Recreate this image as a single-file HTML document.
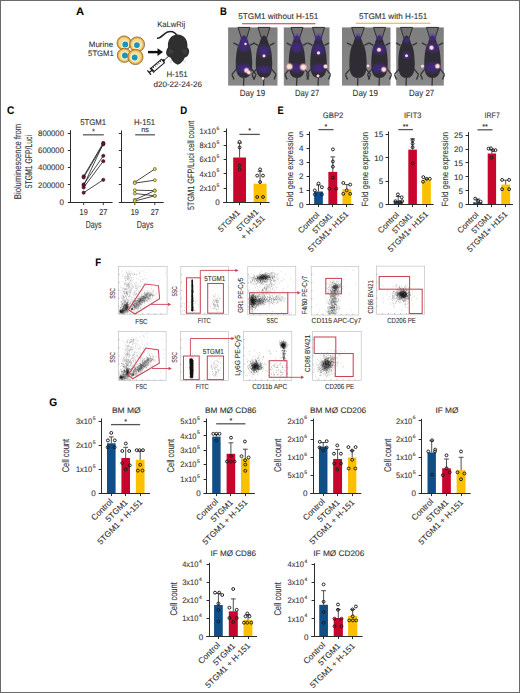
<!DOCTYPE html>
<html><head><meta charset="utf-8"><title>Figure</title>
<style>
html,body{margin:0;padding:0;background:#fff;}
body{width:520px;height:693px;overflow:hidden;position:relative;font-family:"Liberation Sans",sans-serif;}
svg{position:absolute;left:0;top:0;display:block;}
text{stroke:#333;stroke-width:0.1px;}
.bd{position:absolute;left:0;top:0;width:518px;height:691px;border:1px solid #6a6a6a;}
</style></head><body>
<svg width="520" height="693" viewBox="0 0 520 693" font-family="&quot;Liberation Sans&quot;, sans-serif" text-rendering="geometricPrecision" fill="#333"><defs><radialGradient id="pg"><stop offset="0" stop-color="#5226c0" stop-opacity="0.6"/><stop offset="0.6" stop-color="#5226c0" stop-opacity="0.35"/><stop offset="1" stop-color="#5226c0" stop-opacity="0"/></radialGradient><radialGradient id="hg"><stop offset="0" stop-color="#fff8e8"/><stop offset="0.5" stop-color="#f8d8c0" stop-opacity="0.95"/><stop offset="1" stop-color="#c060c0" stop-opacity="0"/></radialGradient><linearGradient id="bgB" x1="0" y1="0" x2="0" y2="1"><stop offset="0" stop-color="#7e7e7e"/><stop offset="1" stop-color="#888"/></linearGradient><radialGradient id="bg3"><stop offset="0" stop-color="#111" stop-opacity="0.85"/><stop offset="0.55" stop-color="#111" stop-opacity="0.51"/><stop offset="1" stop-color="#111" stop-opacity="0"/></radialGradient><radialGradient id="bg4"><stop offset="0" stop-color="#111" stop-opacity="0.85"/><stop offset="0.55" stop-color="#111" stop-opacity="0.51"/><stop offset="1" stop-color="#111" stop-opacity="0"/></radialGradient><radialGradient id="bg5"><stop offset="0" stop-color="#111" stop-opacity="0.9"/><stop offset="0.55" stop-color="#111" stop-opacity="0.54"/><stop offset="1" stop-color="#111" stop-opacity="0"/></radialGradient><radialGradient id="bg6"><stop offset="0" stop-color="#111" stop-opacity="0.4"/><stop offset="0.55" stop-color="#111" stop-opacity="0.24"/><stop offset="1" stop-color="#111" stop-opacity="0"/></radialGradient><radialGradient id="bg7"><stop offset="0" stop-color="#111" stop-opacity="0.85"/><stop offset="0.55" stop-color="#111" stop-opacity="0.51"/><stop offset="1" stop-color="#111" stop-opacity="0"/></radialGradient><radialGradient id="bg8"><stop offset="0" stop-color="#111" stop-opacity="0.95"/><stop offset="0.55" stop-color="#111" stop-opacity="0.57"/><stop offset="1" stop-color="#111" stop-opacity="0"/></radialGradient><radialGradient id="bg9"><stop offset="0" stop-color="#111" stop-opacity="0.35"/><stop offset="0.55" stop-color="#111" stop-opacity="0.21"/><stop offset="1" stop-color="#111" stop-opacity="0"/></radialGradient><radialGradient id="bg10"><stop offset="0" stop-color="#111" stop-opacity="0.75"/><stop offset="0.55" stop-color="#111" stop-opacity="0.44999999999999996"/><stop offset="1" stop-color="#111" stop-opacity="0"/></radialGradient><radialGradient id="bg11"><stop offset="0" stop-color="#111" stop-opacity="0.95"/><stop offset="0.55" stop-color="#111" stop-opacity="0.57"/><stop offset="1" stop-color="#111" stop-opacity="0"/></radialGradient><radialGradient id="bg12"><stop offset="0" stop-color="#111" stop-opacity="0.85"/><stop offset="0.55" stop-color="#111" stop-opacity="0.51"/><stop offset="1" stop-color="#111" stop-opacity="0"/></radialGradient><radialGradient id="bg13"><stop offset="0" stop-color="#111" stop-opacity="0.85"/><stop offset="0.55" stop-color="#111" stop-opacity="0.51"/><stop offset="1" stop-color="#111" stop-opacity="0"/></radialGradient><radialGradient id="bg14"><stop offset="0" stop-color="#111" stop-opacity="0.9"/><stop offset="0.55" stop-color="#111" stop-opacity="0.54"/><stop offset="1" stop-color="#111" stop-opacity="0"/></radialGradient><radialGradient id="bg15"><stop offset="0" stop-color="#111" stop-opacity="0.4"/><stop offset="0.55" stop-color="#111" stop-opacity="0.24"/><stop offset="1" stop-color="#111" stop-opacity="0"/></radialGradient><radialGradient id="bg16"><stop offset="0" stop-color="#111" stop-opacity="0.95"/><stop offset="0.55" stop-color="#111" stop-opacity="0.57"/><stop offset="1" stop-color="#111" stop-opacity="0"/></radialGradient><radialGradient id="bg17"><stop offset="0" stop-color="#111" stop-opacity="0.95"/><stop offset="0.55" stop-color="#111" stop-opacity="0.57"/><stop offset="1" stop-color="#111" stop-opacity="0"/></radialGradient><radialGradient id="bg18"><stop offset="0" stop-color="#111" stop-opacity="0.7"/><stop offset="0.55" stop-color="#111" stop-opacity="0.42"/><stop offset="1" stop-color="#111" stop-opacity="0"/></radialGradient></defs><text x="75.9" y="14.6" font-size="11" fill="#000" font-weight="bold" textLength="8.1" lengthAdjust="spacingAndGlyphs">A</text>
<text x="157.2" y="26.9" font-size="7.8" textLength="28" lengthAdjust="spacingAndGlyphs">KaLwRij</text>
<text x="88.8" y="46.9" font-size="7.8" textLength="24.3" lengthAdjust="spacingAndGlyphs">Murine</text>
<text x="88.1" y="56.2" font-size="7.9" textLength="25.7" lengthAdjust="spacingAndGlyphs">5TGM1</text>
<text x="166.4" y="77.4" font-size="7.9" textLength="21.3" lengthAdjust="spacingAndGlyphs">H-151</text>
<text x="153.4" y="86.6" font-size="7.9" textLength="48.6" lengthAdjust="spacingAndGlyphs">d20-22-24-26</text>
<circle cx="124.1" cy="43" r="7.1" fill="#eeac3c" stroke="#6e5530" stroke-width="0.7"/>
<circle cx="124.1" cy="43" r="5.6" fill="#f7d98e" stroke="none" stroke-width="0"/>
<circle cx="125.3" cy="44.4" r="3.9" fill="#fdf2cc" stroke="none" stroke-width="0"/>
<circle cx="125.3" cy="44.4" r="2.9" fill="#1796c0" stroke="none" stroke-width="0"/>
<circle cx="137.1" cy="44.4" r="7.5" fill="#eeac3c" stroke="#6e5530" stroke-width="0.7"/>
<circle cx="137.1" cy="44.4" r="6" fill="#f7d98e" stroke="none" stroke-width="0"/>
<circle cx="136.9" cy="45.1" r="3.9" fill="#fdf2cc" stroke="none" stroke-width="0"/>
<circle cx="136.9" cy="45.1" r="2.9" fill="#1796c0" stroke="none" stroke-width="0"/>
<circle cx="124.4" cy="55.3" r="7.1" fill="#eeac3c" stroke="#6e5530" stroke-width="0.7"/>
<circle cx="124.4" cy="55.3" r="5.6" fill="#f7d98e" stroke="none" stroke-width="0"/>
<circle cx="124.9" cy="55.5" r="3.9" fill="#fdf2cc" stroke="none" stroke-width="0"/>
<circle cx="124.9" cy="55.5" r="2.9" fill="#1796c0" stroke="none" stroke-width="0"/>
<circle cx="135.4" cy="57" r="7.6" fill="#eeac3c" stroke="#6e5530" stroke-width="0.7"/>
<circle cx="135.4" cy="57" r="6.1" fill="#f7d98e" stroke="none" stroke-width="0"/>
<circle cx="134.7" cy="57.5" r="3.9" fill="#fdf2cc" stroke="none" stroke-width="0"/>
<circle cx="134.7" cy="57.5" r="2.9" fill="#1796c0" stroke="none" stroke-width="0"/>
<line x1="148" y1="52.1" x2="158.5" y2="52.1" stroke="#111" stroke-width="2.4"/>
<path d="M157.5,48.2 L163,52.1 L157.5,56 Z" fill="#111" stroke="none" stroke-width="1"/>
<path d="M157.0,38.2 C161,38.8 163.5,33.5 167.5,32 C171,30.8 174.5,31.2 177.3,36" fill="none" stroke="#222" stroke-width="1.6"/>
<path d="M177.8,64.8 C175,64 172,61 170.5,57.5 C167.5,57.2 165.8,54.5 166.2,51.8 C166.5,49.3 167.6,48.2 168.0,47.5 C167.2,39.5 171.5,34.6 177.5,34.6 C183.8,34.6 188.2,39.5 187.4,47.5 C188.4,48.3 189.4,50 189.1,52.2 C188.7,55 186.8,57.3 184.8,57.6 C183.5,61 180.8,64 177.8,64.8 Z" fill="#2f2f2f" stroke="none" stroke-width="1"/>
<path d="M168.8,49.5 C170.5,48.2 173,49 173.5,51.5 C173.2,54 170.2,55 168.6,53.5 Z" fill="#3d3d3d" stroke="none" stroke-width="1"/>
<path d="M186.6,49.5 C184.9,48.2 182.4,49 181.9,51.5 C182.2,54 185.2,55 186.8,53.5 Z" fill="#3d3d3d" stroke="none" stroke-width="1"/>
<line x1="172" y1="60.5" x2="169.5" y2="61.5" stroke="#aaa" stroke-width="0.4"/>
<line x1="172.2" y1="61.5" x2="170" y2="63" stroke="#aaa" stroke-width="0.4"/>
<line x1="183.5" y1="60.5" x2="186" y2="61.5" stroke="#aaa" stroke-width="0.4"/>
<line x1="183.3" y1="61.5" x2="185.5" y2="63" stroke="#aaa" stroke-width="0.4"/>
<g transform="translate(149.2 72.6) rotate(-40)">
<line x1="0" y1="-2.8" x2="0" y2="2.8" stroke="#1a1a1a" stroke-width="1.2"/>
<line x1="0" y1="0" x2="4.5" y2="0" stroke="#1a1a1a" stroke-width="1.3"/>
<line x1="3.6" y1="-3.2" x2="3.6" y2="3.2" stroke="#1a1a1a" stroke-width="1"/>
<rect x="4.5" y="-2.3" width="13.5" height="4.6" fill="#fff" stroke="#1a1a1a" stroke-width="1.1"/>
<line x1="6.6" y1="-2.3" x2="6.6" y2="-0.3" stroke="#1a1a1a" stroke-width="0.8"/>
<line x1="8.9" y1="-2.3" x2="8.9" y2="-0.3" stroke="#1a1a1a" stroke-width="0.8"/>
<line x1="11.2" y1="-2.3" x2="11.2" y2="-0.3" stroke="#1a1a1a" stroke-width="0.8"/>
<line x1="13.5" y1="-2.3" x2="13.5" y2="-0.3" stroke="#1a1a1a" stroke-width="0.8"/>
<line x1="15.8" y1="-2.3" x2="15.8" y2="-0.3" stroke="#1a1a1a" stroke-width="0.8"/>
<path d="M18,-1.6 L20.3,-0.7 L20.3,0.7 L18,1.6 Z" fill="#1a1a1a" stroke="none" stroke-width="1"/>
<line x1="20.3" y1="0" x2="25" y2="0" stroke="#1a1a1a" stroke-width="0.8"/>
</g>
<text x="220" y="14.7" font-size="11" fill="#000" font-weight="bold" textLength="6.8" lengthAdjust="spacingAndGlyphs">B</text>
<text x="238.3" y="19.1" font-size="8.2" textLength="80" lengthAdjust="spacingAndGlyphs">5TGM1 without H-151</text>
<line x1="242" y1="23.8" x2="315.5" y2="23.8" stroke="#d0304a" stroke-width="1.1"/>
<text x="358.9" y="18.9" font-size="8.2" textLength="68.4" lengthAdjust="spacingAndGlyphs">5TGM1 with H-151</text>
<line x1="355.8" y1="23.2" x2="430.4" y2="23.2" stroke="#f0a830" stroke-width="1.1"/>
<text x="239.8" y="96" font-size="8.9" textLength="25.4" lengthAdjust="spacingAndGlyphs">Day 19</text>
<text x="295" y="96" font-size="8.9" textLength="24.2" lengthAdjust="spacingAndGlyphs">Day 27</text>
<text x="352.6" y="96" font-size="8.9" textLength="25.4" lengthAdjust="spacingAndGlyphs">Day 19</text>
<text x="409" y="96" font-size="8.9" textLength="25.3" lengthAdjust="spacingAndGlyphs">Day 27</text>
<rect x="228.1" y="27.4" width="49.4" height="58.2" fill="url(#bgB)"/>
<path d="M238,27.4 L250,27.4 L246.5,38.4 L241.5,38.4 Z" fill="#707070" stroke="#303030" stroke-width="1"/>
<line x1="238" y1="45.4" x2="233.5" y2="42.9" stroke="#363636" stroke-width="1.4"/>
<line x1="250" y1="45.4" x2="254.5" y2="42.9" stroke="#363636" stroke-width="1.4"/>
<line x1="237" y1="68.4" x2="232" y2="74.4" stroke="#363636" stroke-width="1.4"/>
<line x1="251" y1="68.4" x2="256" y2="74.4" stroke="#363636" stroke-width="1.4"/>
<line x1="232" y1="74.4" x2="234" y2="79.4" stroke="#363636" stroke-width="1.4"/>
<line x1="256" y1="74.4" x2="254" y2="79.4" stroke="#363636" stroke-width="1.4"/>
<line x1="244" y1="75.4" x2="243.5" y2="85.6" stroke="#363636" stroke-width="1.3"/>
<path d="M244,35.4 C246,35.4 247.6,39.4 248.6,43.4 C250.8,46.4 252,53.4 252.2,61.4 C252.4,69.4 251.5,75.4 247,77.4 C244,78.4 241,77.4 241,77.4 C236.5,75.4 235.6,69.4 235.8,61.4 C236,53.4 237.2,46.4 239.4,43.4 C240.4,39.4 242,35.4 244,35.4 Z" fill="#2f2d33" stroke="none" stroke-width="1"/>
<ellipse cx="244" cy="39.4" rx="5" ry="5" fill="url(#pg)"/>
<ellipse cx="244" cy="46.4" rx="8" ry="7" fill="url(#pg)"/>
<ellipse cx="243" cy="68.4" rx="9" ry="6" fill="url(#pg)"/>
<ellipse cx="247" cy="69.4" rx="5" ry="4" fill="url(#pg)"/>
<ellipse cx="246.5" cy="70.4" rx="3.4" ry="3.4" fill="url(#hg)"/>
<ellipse cx="248.8" cy="72.4" rx="2.9" ry="2.9" fill="url(#hg)"/>
<ellipse cx="245.5" cy="43.9" rx="1.8" ry="1.8" fill="url(#hg)"/>
<path d="M258,27.4 L270,27.4 L266.5,38.4 L261.5,38.4 Z" fill="#707070" stroke="#303030" stroke-width="1"/>
<line x1="258" y1="45.4" x2="253.5" y2="42.9" stroke="#363636" stroke-width="1.4"/>
<line x1="270" y1="45.4" x2="274.5" y2="42.9" stroke="#363636" stroke-width="1.4"/>
<line x1="257" y1="68.4" x2="252" y2="74.4" stroke="#363636" stroke-width="1.4"/>
<line x1="271" y1="68.4" x2="276" y2="74.4" stroke="#363636" stroke-width="1.4"/>
<line x1="252" y1="74.4" x2="254" y2="79.4" stroke="#363636" stroke-width="1.4"/>
<line x1="276" y1="74.4" x2="274" y2="79.4" stroke="#363636" stroke-width="1.4"/>
<line x1="264" y1="75.4" x2="263.5" y2="85.6" stroke="#363636" stroke-width="1.3"/>
<path d="M264,35.4 C266,35.4 267.6,39.4 268.6,43.4 C270.8,46.4 272,53.4 272.2,61.4 C272.4,69.4 271.5,75.4 267,77.4 C264,78.4 261,77.4 261,77.4 C256.5,75.4 255.6,69.4 255.8,61.4 C256,53.4 257.2,46.4 259.4,43.4 C260.4,39.4 262,35.4 264,35.4 Z" fill="#2f2d33" stroke="none" stroke-width="1"/>
<ellipse cx="264" cy="51.4" rx="8" ry="8" fill="url(#pg)"/>
<ellipse cx="264" cy="69.4" rx="9" ry="5" fill="url(#pg)"/>
<ellipse cx="264" cy="55.9" rx="2.2" ry="2.2" fill="url(#hg)"/>
<ellipse cx="263" cy="78.4" rx="2" ry="2" fill="url(#hg)"/>
<rect x="283.8" y="27.4" width="45.7" height="58.2" fill="url(#bgB)"/>
<path d="M291,27.4 L303,27.4 L299.5,38.4 L294.5,38.4 Z" fill="#707070" stroke="#303030" stroke-width="1"/>
<line x1="291" y1="45.4" x2="286.5" y2="42.9" stroke="#363636" stroke-width="1.4"/>
<line x1="303" y1="45.4" x2="307.5" y2="42.9" stroke="#363636" stroke-width="1.4"/>
<line x1="290" y1="68.4" x2="285" y2="74.4" stroke="#363636" stroke-width="1.4"/>
<line x1="304" y1="68.4" x2="309" y2="74.4" stroke="#363636" stroke-width="1.4"/>
<line x1="285" y1="74.4" x2="287" y2="79.4" stroke="#363636" stroke-width="1.4"/>
<line x1="309" y1="74.4" x2="307" y2="79.4" stroke="#363636" stroke-width="1.4"/>
<line x1="297" y1="75.4" x2="296.5" y2="85.6" stroke="#363636" stroke-width="1.3"/>
<path d="M297,35.4 C299,35.4 300.6,39.4 301.6,43.4 C303.8,46.4 305,53.4 305.2,61.4 C305.4,69.4 304.5,75.4 300,77.4 C297,78.4 294,77.4 294,77.4 C289.5,75.4 288.6,69.4 288.8,61.4 C289,53.4 290.2,46.4 292.4,43.4 C293.4,39.4 295,35.4 297,35.4 Z" fill="#2f2d33" stroke="none" stroke-width="1"/>
<ellipse cx="297" cy="37.4" rx="5" ry="5" fill="url(#pg)"/>
<ellipse cx="297" cy="47.4" rx="8" ry="7" fill="url(#pg)"/>
<ellipse cx="297" cy="68.4" rx="9" ry="6" fill="url(#pg)"/>
<ellipse cx="289.5" cy="66.6" rx="4.4" ry="4.4" fill="url(#hg)"/>
<ellipse cx="303.3" cy="67.2" rx="4.7" ry="4.7" fill="url(#hg)"/>
<path d="M312.5,27.4 L324.5,27.4 L321,38.4 L316,38.4 Z" fill="#707070" stroke="#303030" stroke-width="1"/>
<line x1="312.5" y1="45.4" x2="308" y2="42.9" stroke="#363636" stroke-width="1.4"/>
<line x1="324.5" y1="45.4" x2="329" y2="42.9" stroke="#363636" stroke-width="1.4"/>
<line x1="311.5" y1="68.4" x2="306.5" y2="74.4" stroke="#363636" stroke-width="1.4"/>
<line x1="325.5" y1="68.4" x2="330.5" y2="74.4" stroke="#363636" stroke-width="1.4"/>
<line x1="306.5" y1="74.4" x2="308.5" y2="79.4" stroke="#363636" stroke-width="1.4"/>
<line x1="330.5" y1="74.4" x2="328.5" y2="79.4" stroke="#363636" stroke-width="1.4"/>
<line x1="318.5" y1="75.4" x2="318" y2="85.6" stroke="#363636" stroke-width="1.3"/>
<path d="M318.5,35.4 C320.5,35.4 322.1,39.4 323.1,43.4 C325.3,46.4 326.5,53.4 326.7,61.4 C326.9,69.4 326,75.4 321.5,77.4 C318.5,78.4 315.5,77.4 315.5,77.4 C311,75.4 310.1,69.4 310.3,61.4 C310.5,53.4 311.7,46.4 313.9,43.4 C314.9,39.4 316.5,35.4 318.5,35.4 Z" fill="#2f2d33" stroke="none" stroke-width="1"/>
<ellipse cx="318.5" cy="37.4" rx="5" ry="5" fill="url(#pg)"/>
<ellipse cx="318.5" cy="49.4" rx="8" ry="8" fill="url(#pg)"/>
<ellipse cx="318.5" cy="68.4" rx="9" ry="6" fill="url(#pg)"/>
<ellipse cx="318.5" cy="52.9" rx="2.3" ry="2.3" fill="url(#hg)"/>
<ellipse cx="325.5" cy="66.4" rx="2.9" ry="2.9" fill="url(#hg)"/>
<ellipse cx="318" cy="75.9" rx="2.1" ry="2.1" fill="url(#hg)"/>
<rect x="342" y="27.4" width="48.5" height="58.2" fill="url(#bgB)"/>
<path d="M351.7,27.4 L364.3,27.4 L360.62,38.4 L355.38,38.4 Z" fill="#707070" stroke="#303030" stroke-width="1"/>
<line x1="351.7" y1="45.4" x2="346.98" y2="42.9" stroke="#363636" stroke-width="1.4"/>
<line x1="364.3" y1="45.4" x2="369.02" y2="42.9" stroke="#363636" stroke-width="1.4"/>
<line x1="350.65" y1="68.4" x2="345.4" y2="74.4" stroke="#363636" stroke-width="1.4"/>
<line x1="365.35" y1="68.4" x2="370.6" y2="74.4" stroke="#363636" stroke-width="1.4"/>
<line x1="345.4" y1="74.4" x2="347.5" y2="79.4" stroke="#363636" stroke-width="1.4"/>
<line x1="370.6" y1="74.4" x2="368.5" y2="79.4" stroke="#363636" stroke-width="1.4"/>
<line x1="358" y1="75.4" x2="357.5" y2="85.6" stroke="#363636" stroke-width="1.3"/>
<path d="M358,35.4 C360.1,35.4 361.78,39.4 362.83,43.4 C365.14,46.4 366.4,53.4 366.61,61.4 C366.82,69.4 365.88,75.4 361.15,77.4 C358,78.4 354.85,77.4 354.85,77.4 C350.12,75.4 349.18,69.4 349.39,61.4 C349.6,53.4 350.86,46.4 353.17,43.4 C354.22,39.4 355.9,35.4 358,35.4 Z" fill="#2f2d33" stroke="none" stroke-width="1"/>
<ellipse cx="358" cy="36.4" rx="4" ry="4" fill="url(#pg)"/>
<path d="M373.5,27.4 L385.5,27.4 L382,38.4 L377,38.4 Z" fill="#707070" stroke="#303030" stroke-width="1"/>
<line x1="373.5" y1="45.4" x2="369" y2="42.9" stroke="#363636" stroke-width="1.4"/>
<line x1="385.5" y1="45.4" x2="390" y2="42.9" stroke="#363636" stroke-width="1.4"/>
<line x1="372.5" y1="68.4" x2="367.5" y2="74.4" stroke="#363636" stroke-width="1.4"/>
<line x1="386.5" y1="68.4" x2="391.5" y2="74.4" stroke="#363636" stroke-width="1.4"/>
<line x1="367.5" y1="74.4" x2="369.5" y2="79.4" stroke="#363636" stroke-width="1.4"/>
<line x1="391.5" y1="74.4" x2="389.5" y2="79.4" stroke="#363636" stroke-width="1.4"/>
<line x1="379.5" y1="75.4" x2="379" y2="85.6" stroke="#363636" stroke-width="1.3"/>
<path d="M379.5,35.4 C381.5,35.4 383.1,39.4 384.1,43.4 C386.3,46.4 387.5,53.4 387.7,61.4 C387.9,69.4 387,75.4 382.5,77.4 C379.5,78.4 376.5,77.4 376.5,77.4 C372,75.4 371.1,69.4 371.3,61.4 C371.5,53.4 372.7,46.4 374.9,43.4 C375.9,39.4 377.5,35.4 379.5,35.4 Z" fill="#2f2d33" stroke="none" stroke-width="1"/>
<ellipse cx="379.5" cy="37.4" rx="4" ry="4" fill="url(#pg)"/>
<ellipse cx="379.5" cy="49.4" rx="9" ry="7" fill="url(#pg)"/>
<ellipse cx="379.5" cy="68.4" rx="10" ry="6" fill="url(#pg)"/>
<ellipse cx="379" cy="49.8" rx="2.9" ry="2.9" fill="url(#hg)"/>
<ellipse cx="383.8" cy="69.5" rx="3.6" ry="3.6" fill="url(#hg)"/>
<ellipse cx="368" cy="65.9" rx="2.1" ry="2.1" fill="url(#hg)"/>
<rect x="396.2" y="27.4" width="47.6" height="58.2" fill="url(#bgB)"/>
<path d="M400.5,27.4 L412.5,27.4 L409,38.4 L404,38.4 Z" fill="#707070" stroke="#303030" stroke-width="1"/>
<line x1="400.5" y1="45.4" x2="396" y2="42.9" stroke="#363636" stroke-width="1.4"/>
<line x1="412.5" y1="45.4" x2="417" y2="42.9" stroke="#363636" stroke-width="1.4"/>
<line x1="399.5" y1="68.4" x2="394.5" y2="74.4" stroke="#363636" stroke-width="1.4"/>
<line x1="413.5" y1="68.4" x2="418.5" y2="74.4" stroke="#363636" stroke-width="1.4"/>
<line x1="394.5" y1="74.4" x2="396.5" y2="79.4" stroke="#363636" stroke-width="1.4"/>
<line x1="418.5" y1="74.4" x2="416.5" y2="79.4" stroke="#363636" stroke-width="1.4"/>
<line x1="406.5" y1="75.4" x2="406" y2="85.6" stroke="#363636" stroke-width="1.3"/>
<path d="M406.5,35.4 C408.5,35.4 410.1,39.4 411.1,43.4 C413.3,46.4 414.5,53.4 414.7,61.4 C414.9,69.4 414,75.4 409.5,77.4 C406.5,78.4 403.5,77.4 403.5,77.4 C399,75.4 398.1,69.4 398.3,61.4 C398.5,53.4 399.7,46.4 401.9,43.4 C402.9,39.4 404.5,35.4 406.5,35.4 Z" fill="#2f2d33" stroke="none" stroke-width="1"/>
<ellipse cx="406.5" cy="40.4" rx="4" ry="4" fill="url(#pg)"/>
<ellipse cx="406.5" cy="55.4" rx="5" ry="5" fill="url(#pg)"/>
<ellipse cx="406.5" cy="55.8" rx="2.1" ry="2.1" fill="url(#hg)"/>
<path d="M426.5,27.4 L438.5,27.4 L435,38.4 L430,38.4 Z" fill="#707070" stroke="#303030" stroke-width="1"/>
<line x1="426.5" y1="45.4" x2="422" y2="42.9" stroke="#363636" stroke-width="1.4"/>
<line x1="438.5" y1="45.4" x2="443" y2="42.9" stroke="#363636" stroke-width="1.4"/>
<line x1="425.5" y1="68.4" x2="420.5" y2="74.4" stroke="#363636" stroke-width="1.4"/>
<line x1="439.5" y1="68.4" x2="444.5" y2="74.4" stroke="#363636" stroke-width="1.4"/>
<line x1="420.5" y1="74.4" x2="422.5" y2="79.4" stroke="#363636" stroke-width="1.4"/>
<line x1="444.5" y1="74.4" x2="442.5" y2="79.4" stroke="#363636" stroke-width="1.4"/>
<line x1="432.5" y1="75.4" x2="432" y2="85.6" stroke="#363636" stroke-width="1.3"/>
<path d="M432.5,35.4 C434.5,35.4 436.1,39.4 437.1,43.4 C439.3,46.4 440.5,53.4 440.7,61.4 C440.9,69.4 440,75.4 435.5,77.4 C432.5,78.4 429.5,77.4 429.5,77.4 C425,75.4 424.1,69.4 424.3,61.4 C424.5,53.4 425.7,46.4 427.9,43.4 C428.9,39.4 430.5,35.4 432.5,35.4 Z" fill="#2f2d33" stroke="none" stroke-width="1"/>
<ellipse cx="432.5" cy="37.4" rx="5" ry="5" fill="url(#pg)"/>
<ellipse cx="432.5" cy="47.4" rx="8" ry="7" fill="url(#pg)"/>
<ellipse cx="432.5" cy="67.4" rx="10" ry="7" fill="url(#pg)"/>
<ellipse cx="431.5" cy="47.7" rx="3.1" ry="3.1" fill="url(#hg)"/>
<ellipse cx="437.5" cy="66.2" rx="3.4" ry="3.4" fill="url(#hg)"/>
<ellipse cx="422.5" cy="66.2" rx="2.3" ry="2.3" fill="url(#hg)"/>
<text x="6.9" y="114.1" font-size="11" fill="#000" font-weight="bold" textLength="7.3" lengthAdjust="spacingAndGlyphs">C</text>
<text x="21" y="161.5" font-size="9.8" text-anchor="middle" textLength="75.3" lengthAdjust="spacingAndGlyphs" transform="rotate(-90 21 161.5)">Bioluminescence from</text>
<text x="31.6" y="161.6" font-size="9.8" text-anchor="middle" textLength="53.3" lengthAdjust="spacingAndGlyphs" transform="rotate(-90 31.6 161.6)">5TGM1 GFP/Luci</text>
<line x1="70.5" y1="130.2" x2="70.5" y2="202.9" stroke="#2b2b2b" stroke-width="1"/>
<line x1="68.3" y1="202.5" x2="112.6" y2="202.5" stroke="#2b2b2b" stroke-width="1"/>
<line x1="67.8" y1="202.5" x2="70.5" y2="202.5" stroke="#2b2b2b" stroke-width="1"/>
<text x="64" y="204.9" font-size="8" text-anchor="end">0</text>
<line x1="67.8" y1="184.5" x2="70.5" y2="184.5" stroke="#2b2b2b" stroke-width="1"/>
<text x="64" y="187.65" font-size="8" text-anchor="end" textLength="25.9" lengthAdjust="spacingAndGlyphs">200000</text>
<line x1="67.8" y1="167.5" x2="70.5" y2="167.5" stroke="#2b2b2b" stroke-width="1"/>
<text x="64" y="170.4" font-size="8" text-anchor="end" textLength="25.9" lengthAdjust="spacingAndGlyphs">400000</text>
<line x1="67.8" y1="150.5" x2="70.5" y2="150.5" stroke="#2b2b2b" stroke-width="1"/>
<text x="64" y="153.15" font-size="8" text-anchor="end" textLength="25.9" lengthAdjust="spacingAndGlyphs">600000</text>
<line x1="67.8" y1="133.5" x2="70.5" y2="133.5" stroke="#2b2b2b" stroke-width="1"/>
<text x="64" y="135.9" font-size="8" text-anchor="end" textLength="25.9" lengthAdjust="spacingAndGlyphs">800000</text>
<line x1="83.65" y1="202.4" x2="83.65" y2="205.2" stroke="#2b2b2b" stroke-width="0.9"/>
<line x1="103.3" y1="202.4" x2="103.3" y2="205.2" stroke="#2b2b2b" stroke-width="0.9"/>
<text x="83.65" y="215.3" font-size="8.6" text-anchor="middle" textLength="8.1" lengthAdjust="spacingAndGlyphs">19</text>
<text x="103.3" y="215.3" font-size="8.6" text-anchor="middle" textLength="8.1" lengthAdjust="spacingAndGlyphs">27</text>
<text x="93.6" y="227.8" font-size="10.2" text-anchor="middle" textLength="15.7" lengthAdjust="spacingAndGlyphs">Days</text>
<text x="93.2" y="124.8" font-size="8.2" text-anchor="middle" textLength="26" lengthAdjust="spacingAndGlyphs">5TGM1</text>
<line x1="83" y1="134.8" x2="103.8" y2="134.8" stroke="#666" stroke-width="1.4"/>
<text x="93.5" y="134" font-size="7.5" text-anchor="middle" fill="#222">*</text>
<line x1="83.65" y1="176.3" x2="103.3" y2="142.9" stroke="#1a1a1a" stroke-width="0.8"/>
<line x1="83.65" y1="177.5" x2="103.3" y2="144.3" stroke="#1a1a1a" stroke-width="0.8"/>
<line x1="83.65" y1="184.4" x2="103.3" y2="155.8" stroke="#1a1a1a" stroke-width="0.8"/>
<line x1="83.65" y1="185.5" x2="103.3" y2="143.6" stroke="#1a1a1a" stroke-width="0.8"/>
<line x1="83.65" y1="187.5" x2="103.3" y2="161.2" stroke="#1a1a1a" stroke-width="0.8"/>
<line x1="83.65" y1="192.7" x2="103.3" y2="179.8" stroke="#1a1a1a" stroke-width="0.8"/>
<circle cx="83.65" cy="176.3" r="1.6" fill="#6a1a2e" stroke="#3a0a18" stroke-width="0.6"/>
<circle cx="103.3" cy="142.9" r="1.6" fill="#6a1a2e" stroke="#3a0a18" stroke-width="0.6"/>
<circle cx="83.65" cy="177.5" r="1.6" fill="#6a1a2e" stroke="#3a0a18" stroke-width="0.6"/>
<circle cx="103.3" cy="144.3" r="1.6" fill="#6a1a2e" stroke="#3a0a18" stroke-width="0.6"/>
<circle cx="83.65" cy="184.4" r="1.6" fill="#6a1a2e" stroke="#3a0a18" stroke-width="0.6"/>
<circle cx="103.3" cy="155.8" r="1.6" fill="#6a1a2e" stroke="#3a0a18" stroke-width="0.6"/>
<circle cx="83.65" cy="185.5" r="1.6" fill="#6a1a2e" stroke="#3a0a18" stroke-width="0.6"/>
<circle cx="103.3" cy="143.6" r="1.6" fill="#6a1a2e" stroke="#3a0a18" stroke-width="0.6"/>
<circle cx="83.65" cy="187.5" r="1.6" fill="#6a1a2e" stroke="#3a0a18" stroke-width="0.6"/>
<circle cx="103.3" cy="161.2" r="1.6" fill="#6a1a2e" stroke="#3a0a18" stroke-width="0.6"/>
<circle cx="83.65" cy="192.7" r="1.6" fill="#6a1a2e" stroke="#3a0a18" stroke-width="0.6"/>
<circle cx="103.3" cy="179.8" r="1.6" fill="#6a1a2e" stroke="#3a0a18" stroke-width="0.6"/>
<line x1="121.5" y1="130.5" x2="121.5" y2="202.9" stroke="#2b2b2b" stroke-width="1"/>
<line x1="119.3" y1="202.5" x2="163.7" y2="202.5" stroke="#2b2b2b" stroke-width="1"/>
<line x1="118.8" y1="202.5" x2="121.5" y2="202.5" stroke="#2b2b2b" stroke-width="1"/>
<line x1="118.8" y1="184.5" x2="121.5" y2="184.5" stroke="#2b2b2b" stroke-width="1"/>
<line x1="118.8" y1="167.5" x2="121.5" y2="167.5" stroke="#2b2b2b" stroke-width="1"/>
<line x1="118.8" y1="150.5" x2="121.5" y2="150.5" stroke="#2b2b2b" stroke-width="1"/>
<line x1="118.8" y1="133.5" x2="121.5" y2="133.5" stroke="#2b2b2b" stroke-width="1"/>
<line x1="134.8" y1="202.4" x2="134.8" y2="205.2" stroke="#2b2b2b" stroke-width="0.9"/>
<line x1="154.8" y1="202.4" x2="154.8" y2="205.2" stroke="#2b2b2b" stroke-width="0.9"/>
<text x="134.8" y="215.3" font-size="8.6" text-anchor="middle" textLength="8.1" lengthAdjust="spacingAndGlyphs">19</text>
<text x="154.8" y="215.3" font-size="8.6" text-anchor="middle" textLength="8.1" lengthAdjust="spacingAndGlyphs">27</text>
<text x="145.1" y="227.8" font-size="10.2" text-anchor="middle" textLength="16.5" lengthAdjust="spacingAndGlyphs">Days</text>
<text x="144.5" y="124.8" font-size="8.2" text-anchor="middle" textLength="21" lengthAdjust="spacingAndGlyphs">H-151</text>
<text x="145.1" y="131.6" font-size="7.3" text-anchor="middle" textLength="7.8" lengthAdjust="spacingAndGlyphs">ns</text>
<line x1="135.2" y1="134.8" x2="155" y2="134.8" stroke="#666" stroke-width="1.4"/>
<line x1="134.8" y1="182.2" x2="154.8" y2="169" stroke="#1a1a1a" stroke-width="0.8"/>
<line x1="134.8" y1="183.1" x2="154.8" y2="180.2" stroke="#1a1a1a" stroke-width="0.8"/>
<line x1="134.8" y1="190.2" x2="154.8" y2="190.6" stroke="#1a1a1a" stroke-width="0.8"/>
<line x1="134.8" y1="193.5" x2="154.8" y2="195.8" stroke="#1a1a1a" stroke-width="0.8"/>
<line x1="134.8" y1="199.8" x2="154.8" y2="190.6" stroke="#1a1a1a" stroke-width="0.8"/>
<line x1="134.8" y1="201" x2="154.8" y2="195.8" stroke="#1a1a1a" stroke-width="0.8"/>
<circle cx="134.8" cy="182.2" r="1.5" fill="#f0e060" stroke="#5a5a20" stroke-width="0.7"/>
<circle cx="154.8" cy="169" r="1.5" fill="#f0e060" stroke="#5a5a20" stroke-width="0.7"/>
<circle cx="134.8" cy="183.1" r="1.5" fill="#f0e060" stroke="#5a5a20" stroke-width="0.7"/>
<circle cx="154.8" cy="180.2" r="1.5" fill="#f0e060" stroke="#5a5a20" stroke-width="0.7"/>
<circle cx="134.8" cy="190.2" r="1.5" fill="#f0e060" stroke="#5a5a20" stroke-width="0.7"/>
<circle cx="154.8" cy="190.6" r="1.5" fill="#f0e060" stroke="#5a5a20" stroke-width="0.7"/>
<circle cx="134.8" cy="193.5" r="1.5" fill="#f0e060" stroke="#5a5a20" stroke-width="0.7"/>
<circle cx="154.8" cy="195.8" r="1.5" fill="#f0e060" stroke="#5a5a20" stroke-width="0.7"/>
<circle cx="134.8" cy="199.8" r="1.5" fill="#f0e060" stroke="#5a5a20" stroke-width="0.7"/>
<circle cx="154.8" cy="190.6" r="1.5" fill="#f0e060" stroke="#5a5a20" stroke-width="0.7"/>
<circle cx="134.8" cy="201" r="1.5" fill="#f0e060" stroke="#5a5a20" stroke-width="0.7"/>
<circle cx="154.8" cy="195.8" r="1.5" fill="#f0e060" stroke="#5a5a20" stroke-width="0.7"/>
<text x="180.2" y="114.2" font-size="11" fill="#000" font-weight="bold" textLength="6.9" lengthAdjust="spacingAndGlyphs">D</text>
<rect x="233.2" y="157.5" width="12.8" height="44.9" fill="#c8052c"/>
<line x1="239.6" y1="157.5" x2="239.6" y2="143.1" stroke="#3a3a3a" stroke-width="0.9"/>
<line x1="237.2" y1="143.1" x2="242" y2="143.1" stroke="#3a3a3a" stroke-width="0.9"/>
<circle cx="239.6" cy="141.9" r="1.45" fill="none" stroke="#1a1a1a" stroke-width="0.95"/>
<circle cx="239.6" cy="147.5" r="1.45" fill="none" stroke="#1a1a1a" stroke-width="0.95"/>
<circle cx="239.6" cy="165.5" r="1.45" fill="none" stroke="#1a1a1a" stroke-width="0.95"/>
<circle cx="239.6" cy="169.5" r="1.45" fill="none" stroke="#1a1a1a" stroke-width="0.95"/>
<rect x="253.6" y="183.7" width="13" height="18.7" fill="#fbc100"/>
<line x1="260.1" y1="183.7" x2="260.1" y2="171.3" stroke="#3a3a3a" stroke-width="0.9"/>
<line x1="257.7" y1="171.3" x2="262.5" y2="171.3" stroke="#3a3a3a" stroke-width="0.9"/>
<circle cx="260.1" cy="169.4" r="1.45" fill="none" stroke="#1a1a1a" stroke-width="0.95"/>
<circle cx="257.2" cy="175.6" r="1.45" fill="none" stroke="#1a1a1a" stroke-width="0.95"/>
<circle cx="263" cy="175.6" r="1.45" fill="none" stroke="#1a1a1a" stroke-width="0.95"/>
<circle cx="260.1" cy="182" r="1.45" fill="none" stroke="#1a1a1a" stroke-width="0.95"/>
<circle cx="257.2" cy="197" r="1.45" fill="none" stroke="#1a1a1a" stroke-width="0.95"/>
<circle cx="263" cy="197" r="1.45" fill="none" stroke="#1a1a1a" stroke-width="0.95"/>
<line x1="226.5" y1="128.5" x2="226.5" y2="203" stroke="#2b2b2b" stroke-width="1"/>
<line x1="223.2" y1="202.5" x2="269.6" y2="202.5" stroke="#2b2b2b" stroke-width="1"/>
<line x1="223.6" y1="202.5" x2="226.5" y2="202.5" stroke="#2b2b2b" stroke-width="1"/>
<text x="219.6" y="205.1" font-size="8" text-anchor="end">0</text>
<line x1="223.6" y1="188.5" x2="226.5" y2="188.5" stroke="#2b2b2b" stroke-width="1"/>
<text x="215.8" y="190.75" font-size="8" text-anchor="end" textLength="16.2" lengthAdjust="spacingAndGlyphs">2x10</text>
<text x="219.2" y="186.65" font-size="5" text-anchor="end">5</text>
<line x1="223.6" y1="173.5" x2="226.5" y2="173.5" stroke="#2b2b2b" stroke-width="1"/>
<text x="215.8" y="176.5" font-size="8" text-anchor="end" textLength="16.2" lengthAdjust="spacingAndGlyphs">4x10</text>
<text x="219.2" y="172.4" font-size="5" text-anchor="end">5</text>
<line x1="223.6" y1="159.5" x2="226.5" y2="159.5" stroke="#2b2b2b" stroke-width="1"/>
<text x="215.8" y="162.25" font-size="8" text-anchor="end" textLength="16.2" lengthAdjust="spacingAndGlyphs">6x10</text>
<text x="219.2" y="158.15" font-size="5" text-anchor="end">5</text>
<line x1="223.6" y1="145.5" x2="226.5" y2="145.5" stroke="#2b2b2b" stroke-width="1"/>
<text x="215.8" y="148" font-size="8" text-anchor="end" textLength="16.2" lengthAdjust="spacingAndGlyphs">8x10</text>
<text x="219.2" y="143.9" font-size="5" text-anchor="end">5</text>
<line x1="223.6" y1="131.5" x2="226.5" y2="131.5" stroke="#2b2b2b" stroke-width="1"/>
<text x="215.8" y="133.75" font-size="8" text-anchor="end" textLength="16.2" lengthAdjust="spacingAndGlyphs">1x10</text>
<text x="219.2" y="129.65" font-size="5" text-anchor="end">6</text>
<line x1="239.5" y1="202.5" x2="239.5" y2="205.1" stroke="#2b2b2b" stroke-width="1"/>
<line x1="260.5" y1="202.5" x2="260.5" y2="205.1" stroke="#2b2b2b" stroke-width="1"/>
<line x1="239.4" y1="134.4" x2="259.8" y2="134.4" stroke="#555" stroke-width="1.3"/>
<text x="249.6" y="133.4" font-size="7.2" text-anchor="middle" fill="#222">*</text>
<text x="193.6" y="165.3" font-size="9.2" text-anchor="middle" textLength="89.4" lengthAdjust="spacingAndGlyphs" transform="rotate(-90 193.6 165.3)">5TGM1 GFP/Luci cell count</text>
<text x="240.6" y="213.2" font-size="8.1" text-anchor="end" textLength="27.2" lengthAdjust="spacingAndGlyphs" transform="rotate(-45 240.6 213.2)">5TGM1</text>
<text x="258.9" y="212.6" font-size="8.1" text-anchor="end" textLength="27.2" lengthAdjust="spacingAndGlyphs" transform="rotate(-45 258.9 212.6)">5TGM1</text>
<text x="265.6" y="218.7" font-size="8.1" text-anchor="end" textLength="30.4" lengthAdjust="spacingAndGlyphs" transform="rotate(-45 265.6 218.7)">+ H-151</text>
<text x="277.5" y="114.2" font-size="11" fill="#000" font-weight="bold" textLength="6.2" lengthAdjust="spacingAndGlyphs">E</text>
<rect x="314.15" y="191.5" width="8.7" height="13.2" fill="#0f4e86"/>
<line x1="318.5" y1="191.5" x2="318.5" y2="185" stroke="#3a3a3a" stroke-width="0.9"/>
<line x1="316.1" y1="185" x2="320.9" y2="185" stroke="#3a3a3a" stroke-width="0.9"/>
<circle cx="318.5" cy="183.5" r="1.45" fill="none" stroke="#1a1a1a" stroke-width="0.95"/>
<circle cx="321.9" cy="187.2" r="1.45" fill="none" stroke="#1a1a1a" stroke-width="0.95"/>
<circle cx="314.8" cy="190.4" r="1.45" fill="none" stroke="#1a1a1a" stroke-width="0.95"/>
<circle cx="314.8" cy="194.4" r="1.45" fill="none" stroke="#1a1a1a" stroke-width="0.95"/>
<circle cx="322" cy="194.4" r="1.45" fill="none" stroke="#1a1a1a" stroke-width="0.95"/>
<rect x="328.35" y="171.9" width="8.9" height="32.8" fill="#c8052c"/>
<line x1="332.8" y1="171.9" x2="332.8" y2="156.9" stroke="#3a3a3a" stroke-width="0.9"/>
<line x1="330.4" y1="156.9" x2="335.2" y2="156.9" stroke="#3a3a3a" stroke-width="0.9"/>
<circle cx="332.9" cy="149.4" r="1.45" fill="none" stroke="#1a1a1a" stroke-width="0.95"/>
<circle cx="332.9" cy="161.5" r="1.45" fill="none" stroke="#1a1a1a" stroke-width="0.95"/>
<circle cx="332.9" cy="166.7" r="1.45" fill="none" stroke="#1a1a1a" stroke-width="0.95"/>
<circle cx="332.9" cy="177.7" r="1.45" fill="none" stroke="#1a1a1a" stroke-width="0.95"/>
<circle cx="329.3" cy="188.7" r="1.45" fill="none" stroke="#1a1a1a" stroke-width="0.95"/>
<circle cx="336.3" cy="188.7" r="1.45" fill="none" stroke="#1a1a1a" stroke-width="0.95"/>
<rect x="342.45" y="189.2" width="8.7" height="15.5" fill="#fbc100"/>
<line x1="346.8" y1="189.2" x2="346.8" y2="184.6" stroke="#3a3a3a" stroke-width="0.9"/>
<line x1="344.4" y1="184.6" x2="349.2" y2="184.6" stroke="#3a3a3a" stroke-width="0.9"/>
<circle cx="343.3" cy="182.9" r="1.45" fill="none" stroke="#1a1a1a" stroke-width="0.95"/>
<circle cx="350.2" cy="184.6" r="1.45" fill="none" stroke="#1a1a1a" stroke-width="0.95"/>
<circle cx="346.7" cy="190.4" r="1.45" fill="none" stroke="#1a1a1a" stroke-width="0.95"/>
<circle cx="343.3" cy="193.8" r="1.45" fill="none" stroke="#1a1a1a" stroke-width="0.95"/>
<circle cx="350.2" cy="193.8" r="1.45" fill="none" stroke="#1a1a1a" stroke-width="0.95"/>
<line x1="309.5" y1="131.5" x2="309.5" y2="205" stroke="#2b2b2b" stroke-width="1"/>
<line x1="306.3" y1="204.5" x2="353.7" y2="204.5" stroke="#2b2b2b" stroke-width="1"/>
<line x1="306.6" y1="204.5" x2="309.5" y2="204.5" stroke="#2b2b2b" stroke-width="1"/>
<text x="303.5" y="207.5" font-size="8" text-anchor="end">0</text>
<line x1="306.6" y1="190.5" x2="309.5" y2="190.5" stroke="#2b2b2b" stroke-width="1"/>
<text x="303.5" y="193.47" font-size="8" text-anchor="end">1</text>
<line x1="306.6" y1="176.5" x2="309.5" y2="176.5" stroke="#2b2b2b" stroke-width="1"/>
<text x="303.5" y="179.44" font-size="8" text-anchor="end">2</text>
<line x1="306.6" y1="162.5" x2="309.5" y2="162.5" stroke="#2b2b2b" stroke-width="1"/>
<text x="303.5" y="165.41" font-size="8" text-anchor="end">3</text>
<line x1="306.6" y1="148.5" x2="309.5" y2="148.5" stroke="#2b2b2b" stroke-width="1"/>
<text x="303.5" y="151.38" font-size="8" text-anchor="end">4</text>
<line x1="306.6" y1="134.5" x2="309.5" y2="134.5" stroke="#2b2b2b" stroke-width="1"/>
<text x="303.5" y="137.35" font-size="8" text-anchor="end">5</text>
<line x1="318.5" y1="204.5" x2="318.5" y2="207.1" stroke="#2b2b2b" stroke-width="1"/>
<line x1="332.5" y1="204.5" x2="332.5" y2="207.1" stroke="#2b2b2b" stroke-width="1"/>
<line x1="346.5" y1="204.5" x2="346.5" y2="207.1" stroke="#2b2b2b" stroke-width="1"/>
<text x="322.8" y="117.9" font-size="8" textLength="20.5" lengthAdjust="spacingAndGlyphs">GBP2</text>
<line x1="318.5" y1="129.6" x2="333.5" y2="129.6" stroke="#555" stroke-width="1.3"/>
<text x="326" y="128.8" font-size="7.2" text-anchor="middle" fill="#222">*</text>
<text x="293.1" y="169.2" font-size="9" text-anchor="middle" textLength="74.6" lengthAdjust="spacingAndGlyphs" transform="rotate(-90 293.1 169.2)">Fold gene expression</text>
<text x="319.8" y="215.4" font-size="8.1" text-anchor="end" transform="rotate(-45 319.8 215.4)">Control</text>
<text x="333" y="216.6" font-size="8.1" text-anchor="end" textLength="24.5" lengthAdjust="spacingAndGlyphs" transform="rotate(-45 333 216.6)">5TGM1</text>
<text x="349" y="214.8" font-size="8.1" text-anchor="end" transform="rotate(-45 349 214.8)">5TGM1+ H151</text>
<rect x="393.7" y="200.8" width="9" height="3.9" fill="#0f4e86"/>
<line x1="398.2" y1="200.8" x2="398.2" y2="196.5" stroke="#3a3a3a" stroke-width="0.9"/>
<line x1="395.8" y1="196.5" x2="400.6" y2="196.5" stroke="#3a3a3a" stroke-width="0.9"/>
<circle cx="397.9" cy="194.4" r="1.45" fill="none" stroke="#1a1a1a" stroke-width="0.95"/>
<circle cx="401.7" cy="197.3" r="1.45" fill="none" stroke="#1a1a1a" stroke-width="0.95"/>
<circle cx="395.5" cy="201.2" r="1.45" fill="none" stroke="#1a1a1a" stroke-width="0.95"/>
<circle cx="399.5" cy="202" r="1.45" fill="none" stroke="#1a1a1a" stroke-width="0.95"/>
<circle cx="402.2" cy="201.2" r="1.45" fill="none" stroke="#1a1a1a" stroke-width="0.95"/>
<rect x="408.3" y="149.6" width="8.6" height="55.1" fill="#c8052c"/>
<line x1="412.6" y1="149.6" x2="412.6" y2="138.8" stroke="#3a3a3a" stroke-width="0.9"/>
<line x1="410.2" y1="138.8" x2="415" y2="138.8" stroke="#3a3a3a" stroke-width="0.9"/>
<circle cx="412.6" cy="140.3" r="1.45" fill="none" stroke="#1a1a1a" stroke-width="0.95"/>
<circle cx="412.6" cy="143.6" r="1.45" fill="none" stroke="#1a1a1a" stroke-width="0.95"/>
<circle cx="412.6" cy="147.2" r="1.45" fill="none" stroke="#1a1a1a" stroke-width="0.95"/>
<circle cx="412.6" cy="163.5" r="1.45" fill="none" stroke="#1a1a1a" stroke-width="0.95"/>
<rect x="422.15" y="180.2" width="8.7" height="24.5" fill="#fbc100"/>
<line x1="426.5" y1="180.2" x2="426.5" y2="179" stroke="#3a3a3a" stroke-width="0.9"/>
<line x1="424.1" y1="179" x2="428.9" y2="179" stroke="#3a3a3a" stroke-width="0.9"/>
<circle cx="423.3" cy="177.1" r="1.45" fill="none" stroke="#1a1a1a" stroke-width="0.95"/>
<circle cx="426.7" cy="178.8" r="1.45" fill="none" stroke="#1a1a1a" stroke-width="0.95"/>
<circle cx="429.8" cy="178.8" r="1.45" fill="none" stroke="#1a1a1a" stroke-width="0.95"/>
<circle cx="423" cy="181.7" r="1.45" fill="none" stroke="#1a1a1a" stroke-width="0.95"/>
<line x1="388.5" y1="131.5" x2="388.5" y2="205" stroke="#2b2b2b" stroke-width="1"/>
<line x1="386" y1="204.5" x2="433.7" y2="204.5" stroke="#2b2b2b" stroke-width="1"/>
<line x1="385.6" y1="204.5" x2="388.5" y2="204.5" stroke="#2b2b2b" stroke-width="1"/>
<text x="383.1" y="207.5" font-size="8" text-anchor="end">0</text>
<line x1="385.6" y1="181.5" x2="388.5" y2="181.5" stroke="#2b2b2b" stroke-width="1"/>
<text x="383.1" y="184.07" font-size="8" text-anchor="end">5</text>
<line x1="385.6" y1="157.5" x2="388.5" y2="157.5" stroke="#2b2b2b" stroke-width="1"/>
<text x="383.1" y="160.64" font-size="8" text-anchor="end">10</text>
<line x1="385.6" y1="134.5" x2="388.5" y2="134.5" stroke="#2b2b2b" stroke-width="1"/>
<text x="383.1" y="137.21" font-size="8" text-anchor="end">15</text>
<line x1="398.5" y1="204.5" x2="398.5" y2="207.1" stroke="#2b2b2b" stroke-width="1"/>
<line x1="412.5" y1="204.5" x2="412.5" y2="207.1" stroke="#2b2b2b" stroke-width="1"/>
<line x1="426.5" y1="204.5" x2="426.5" y2="207.1" stroke="#2b2b2b" stroke-width="1"/>
<text x="404" y="117.9" font-size="8" textLength="17.3" lengthAdjust="spacingAndGlyphs">IFIT3</text>
<line x1="398.3" y1="129.6" x2="412.9" y2="129.6" stroke="#555" stroke-width="1.3"/>
<text x="405.6" y="128.8" font-size="7.2" text-anchor="middle" fill="#222">**</text>
<text x="368.1" y="169.2" font-size="9" text-anchor="middle" textLength="74.6" lengthAdjust="spacingAndGlyphs" transform="rotate(-90 368.1 169.2)">Fold gene expression</text>
<text x="399.5" y="215.4" font-size="8.1" text-anchor="end" transform="rotate(-45 399.5 215.4)">Control</text>
<text x="412.8" y="216.6" font-size="8.1" text-anchor="end" textLength="24.5" lengthAdjust="spacingAndGlyphs" transform="rotate(-45 412.8 216.6)">5TGM1</text>
<text x="428.7" y="214.8" font-size="8.1" text-anchor="end" transform="rotate(-45 428.7 214.8)">5TGM1+ H151</text>
<rect x="473.1" y="202.3" width="9.2" height="2.4" fill="#0f4e86"/>
<line x1="477.7" y1="202.3" x2="477.7" y2="199" stroke="#3a3a3a" stroke-width="0.9"/>
<line x1="475.3" y1="199" x2="480.1" y2="199" stroke="#3a3a3a" stroke-width="0.9"/>
<circle cx="475.2" cy="198.6" r="1.45" fill="none" stroke="#1a1a1a" stroke-width="0.95"/>
<circle cx="478" cy="201" r="1.45" fill="none" stroke="#1a1a1a" stroke-width="0.95"/>
<circle cx="480.6" cy="201.6" r="1.45" fill="none" stroke="#1a1a1a" stroke-width="0.95"/>
<rect x="487.7" y="153.5" width="8.4" height="51.2" fill="#c8052c"/>
<line x1="491.9" y1="153.5" x2="491.9" y2="150" stroke="#3a3a3a" stroke-width="0.9"/>
<line x1="489.5" y1="150" x2="494.3" y2="150" stroke="#3a3a3a" stroke-width="0.9"/>
<circle cx="488.6" cy="148.6" r="1.45" fill="none" stroke="#1a1a1a" stroke-width="0.95"/>
<circle cx="490.9" cy="148.3" r="1.45" fill="none" stroke="#1a1a1a" stroke-width="0.95"/>
<circle cx="493.2" cy="150.2" r="1.45" fill="none" stroke="#1a1a1a" stroke-width="0.95"/>
<circle cx="495.5" cy="150.2" r="1.45" fill="none" stroke="#1a1a1a" stroke-width="0.95"/>
<circle cx="491.5" cy="157.5" r="1.45" fill="none" stroke="#1a1a1a" stroke-width="0.95"/>
<rect x="501.25" y="184.6" width="8.9" height="20.1" fill="#fbc100"/>
<line x1="505.7" y1="184.6" x2="505.7" y2="180.2" stroke="#3a3a3a" stroke-width="0.9"/>
<line x1="503.3" y1="180.2" x2="508.1" y2="180.2" stroke="#3a3a3a" stroke-width="0.9"/>
<circle cx="502.1" cy="179.9" r="1.45" fill="none" stroke="#1a1a1a" stroke-width="0.95"/>
<circle cx="509.1" cy="179.9" r="1.45" fill="none" stroke="#1a1a1a" stroke-width="0.95"/>
<circle cx="502.1" cy="189.2" r="1.45" fill="none" stroke="#1a1a1a" stroke-width="0.95"/>
<circle cx="509.1" cy="189.2" r="1.45" fill="none" stroke="#1a1a1a" stroke-width="0.95"/>
<line x1="468.5" y1="132.1" x2="468.5" y2="205" stroke="#2b2b2b" stroke-width="1"/>
<line x1="465.8" y1="204.5" x2="513" y2="204.5" stroke="#2b2b2b" stroke-width="1"/>
<line x1="465.6" y1="204.5" x2="468.5" y2="204.5" stroke="#2b2b2b" stroke-width="1"/>
<text x="463" y="207.5" font-size="8" text-anchor="end">0</text>
<line x1="465.6" y1="190.5" x2="468.5" y2="190.5" stroke="#2b2b2b" stroke-width="1"/>
<text x="463" y="193.58" font-size="8" text-anchor="end">5</text>
<line x1="465.6" y1="176.5" x2="468.5" y2="176.5" stroke="#2b2b2b" stroke-width="1"/>
<text x="463" y="179.66" font-size="8" text-anchor="end">10</text>
<line x1="465.6" y1="162.5" x2="468.5" y2="162.5" stroke="#2b2b2b" stroke-width="1"/>
<text x="463" y="165.74" font-size="8" text-anchor="end">15</text>
<line x1="465.6" y1="149.5" x2="468.5" y2="149.5" stroke="#2b2b2b" stroke-width="1"/>
<text x="463" y="151.82" font-size="8" text-anchor="end">20</text>
<line x1="465.6" y1="135.5" x2="468.5" y2="135.5" stroke="#2b2b2b" stroke-width="1"/>
<text x="463" y="137.9" font-size="8" text-anchor="end">25</text>
<line x1="477.5" y1="204.5" x2="477.5" y2="207.1" stroke="#2b2b2b" stroke-width="1"/>
<line x1="491.5" y1="204.5" x2="491.5" y2="207.1" stroke="#2b2b2b" stroke-width="1"/>
<line x1="505.5" y1="204.5" x2="505.5" y2="207.1" stroke="#2b2b2b" stroke-width="1"/>
<text x="484.6" y="117.9" font-size="8" textLength="15.2" lengthAdjust="spacingAndGlyphs">IRF7</text>
<line x1="477.5" y1="129.8" x2="492.5" y2="129.8" stroke="#555" stroke-width="1.3"/>
<text x="485" y="129" font-size="7.2" text-anchor="middle" fill="#222">**</text>
<text x="448.3" y="169.2" font-size="9" text-anchor="middle" textLength="74.6" lengthAdjust="spacingAndGlyphs" transform="rotate(-90 448.3 169.2)">Fold gene expression</text>
<text x="479" y="215.4" font-size="8.1" text-anchor="end" transform="rotate(-45 479 215.4)">Control</text>
<text x="492.1" y="216.6" font-size="8.1" text-anchor="end" textLength="24.5" lengthAdjust="spacingAndGlyphs" transform="rotate(-45 492.1 216.6)">5TGM1</text>
<text x="507.9" y="214.8" font-size="8.1" text-anchor="end" transform="rotate(-45 507.9 214.8)">5TGM1+ H151</text>
<text x="49.3" y="405.5" font-size="11" fill="#000" font-weight="bold" textLength="7.9" lengthAdjust="spacingAndGlyphs">G</text>
<rect x="107" y="443.3" width="8.6" height="50" fill="#0f4e86"/>
<line x1="111.3" y1="443.3" x2="111.3" y2="436.9" stroke="#3a3a3a" stroke-width="0.9"/>
<line x1="108.9" y1="436.9" x2="113.7" y2="436.9" stroke="#3a3a3a" stroke-width="0.9"/>
<circle cx="111.3" cy="432.9" r="1.45" fill="none" stroke="#1a1a1a" stroke-width="0.95"/>
<circle cx="107.9" cy="440.4" r="1.45" fill="none" stroke="#1a1a1a" stroke-width="0.95"/>
<circle cx="114.8" cy="440.4" r="1.45" fill="none" stroke="#1a1a1a" stroke-width="0.95"/>
<circle cx="107.6" cy="447.3" r="1.45" fill="none" stroke="#1a1a1a" stroke-width="0.95"/>
<circle cx="114.6" cy="447.3" r="1.45" fill="none" stroke="#1a1a1a" stroke-width="0.95"/>
<rect x="121.4" y="458" width="8.6" height="35.3" fill="#c8052c"/>
<line x1="125.7" y1="458" x2="125.7" y2="447.3" stroke="#3a3a3a" stroke-width="0.9"/>
<line x1="123.3" y1="447.3" x2="128.1" y2="447.3" stroke="#3a3a3a" stroke-width="0.9"/>
<circle cx="125.8" cy="443.5" r="1.45" fill="none" stroke="#1a1a1a" stroke-width="0.95"/>
<circle cx="122.3" cy="451" r="1.45" fill="none" stroke="#1a1a1a" stroke-width="0.95"/>
<circle cx="129.2" cy="451" r="1.45" fill="none" stroke="#1a1a1a" stroke-width="0.95"/>
<circle cx="122.3" cy="463" r="1.45" fill="none" stroke="#1a1a1a" stroke-width="0.95"/>
<circle cx="129.8" cy="465.4" r="1.45" fill="none" stroke="#1a1a1a" stroke-width="0.95"/>
<circle cx="125.8" cy="469.4" r="1.45" fill="none" stroke="#1a1a1a" stroke-width="0.95"/>
<rect x="135.85" y="459.8" width="8.7" height="33.5" fill="#fbc100"/>
<line x1="140.2" y1="459.8" x2="140.2" y2="451" stroke="#3a3a3a" stroke-width="0.9"/>
<line x1="137.8" y1="451" x2="142.6" y2="451" stroke="#3a3a3a" stroke-width="0.9"/>
<circle cx="136.7" cy="450.2" r="1.45" fill="none" stroke="#1a1a1a" stroke-width="0.95"/>
<circle cx="139.6" cy="450.2" r="1.45" fill="none" stroke="#1a1a1a" stroke-width="0.95"/>
<circle cx="143" cy="450.2" r="1.45" fill="none" stroke="#1a1a1a" stroke-width="0.95"/>
<circle cx="140.2" cy="464.8" r="1.45" fill="none" stroke="#1a1a1a" stroke-width="0.95"/>
<circle cx="137.9" cy="470.6" r="1.45" fill="none" stroke="#1a1a1a" stroke-width="0.95"/>
<circle cx="142.5" cy="470.6" r="1.45" fill="none" stroke="#1a1a1a" stroke-width="0.95"/>
<line x1="101.5" y1="418.5" x2="101.5" y2="494" stroke="#2b2b2b" stroke-width="1"/>
<line x1="99.2" y1="493.5" x2="150" y2="493.5" stroke="#2b2b2b" stroke-width="1"/>
<line x1="98.6" y1="493.5" x2="101.5" y2="493.5" stroke="#2b2b2b" stroke-width="1"/>
<text x="95.6" y="496.1" font-size="8" text-anchor="end">0</text>
<line x1="98.6" y1="469.5" x2="101.5" y2="469.5" stroke="#2b2b2b" stroke-width="1"/>
<text x="92.1" y="472" font-size="8" text-anchor="end" textLength="16.2" lengthAdjust="spacingAndGlyphs">1x10</text>
<text x="95.5" y="467.9" font-size="5" text-anchor="end">5</text>
<line x1="98.6" y1="445.5" x2="101.5" y2="445.5" stroke="#2b2b2b" stroke-width="1"/>
<text x="92.1" y="448" font-size="8" text-anchor="end" textLength="16.2" lengthAdjust="spacingAndGlyphs">2x10</text>
<text x="95.5" y="443.9" font-size="5" text-anchor="end">5</text>
<line x1="98.6" y1="421.5" x2="101.5" y2="421.5" stroke="#2b2b2b" stroke-width="1"/>
<text x="92.1" y="424" font-size="8" text-anchor="end" textLength="16.2" lengthAdjust="spacingAndGlyphs">3x10</text>
<text x="95.5" y="419.9" font-size="5" text-anchor="end">5</text>
<line x1="111.5" y1="493.5" x2="111.5" y2="496.1" stroke="#2b2b2b" stroke-width="1"/>
<line x1="125.5" y1="493.5" x2="125.5" y2="496.1" stroke="#2b2b2b" stroke-width="1"/>
<line x1="140.5" y1="493.5" x2="140.5" y2="496.1" stroke="#2b2b2b" stroke-width="1"/>
<text x="111.9" y="412.9" font-size="8" textLength="28.6" lengthAdjust="spacingAndGlyphs">BM MØ</text>
<line x1="111" y1="424.6" x2="140.2" y2="424.6" stroke="#555" stroke-width="1.3"/>
<text x="125.6" y="423.6" font-size="7.2" text-anchor="middle" fill="#222">*</text>
<text x="69.4" y="455.6" font-size="9.8" text-anchor="middle" textLength="33.4" lengthAdjust="spacingAndGlyphs" transform="rotate(-90 69.4 455.6)">Cell count</text>
<text x="113.4" y="502.1" font-size="8.3" text-anchor="end" transform="rotate(-45 113.4 502.1)">Control</text>
<text x="128.3" y="502.9" font-size="8.3" text-anchor="end" transform="rotate(-45 128.3 502.9)">5TGM1</text>
<text x="143" y="502.8" font-size="8.3" text-anchor="end" transform="rotate(-45 143 502.8)">5TGM1 + H-151</text>
<rect x="212.2" y="436.6" width="8.4" height="56.8" fill="#0f4e86"/>
<line x1="216.4" y1="436.6" x2="216.4" y2="434.5" stroke="#3a3a3a" stroke-width="0.9"/>
<line x1="214" y1="434.5" x2="218.8" y2="434.5" stroke="#3a3a3a" stroke-width="0.9"/>
<circle cx="213.3" cy="433.8" r="1.45" fill="none" stroke="#1a1a1a" stroke-width="0.95"/>
<circle cx="216.4" cy="433.8" r="1.45" fill="none" stroke="#1a1a1a" stroke-width="0.95"/>
<circle cx="219.5" cy="433.8" r="1.45" fill="none" stroke="#1a1a1a" stroke-width="0.95"/>
<circle cx="216.4" cy="440.5" r="1.45" fill="none" stroke="#1a1a1a" stroke-width="0.95"/>
<rect x="226.6" y="453.8" width="8.6" height="39.6" fill="#c8052c"/>
<line x1="230.9" y1="453.8" x2="230.9" y2="442.8" stroke="#3a3a3a" stroke-width="0.9"/>
<line x1="228.5" y1="442.8" x2="233.3" y2="442.8" stroke="#3a3a3a" stroke-width="0.9"/>
<circle cx="231" cy="437.7" r="1.45" fill="none" stroke="#1a1a1a" stroke-width="0.95"/>
<circle cx="227" cy="461.5" r="1.45" fill="none" stroke="#1a1a1a" stroke-width="0.95"/>
<circle cx="230.8" cy="461.5" r="1.45" fill="none" stroke="#1a1a1a" stroke-width="0.95"/>
<circle cx="234.6" cy="461.5" r="1.45" fill="none" stroke="#1a1a1a" stroke-width="0.95"/>
<circle cx="230.9" cy="456" r="1.45" fill="none" stroke="#1a1a1a" stroke-width="0.95"/>
<rect x="241" y="458.5" width="8.6" height="34.9" fill="#fbc100"/>
<line x1="245.3" y1="458.5" x2="245.3" y2="449.2" stroke="#3a3a3a" stroke-width="0.9"/>
<line x1="242.9" y1="449.2" x2="247.7" y2="449.2" stroke="#3a3a3a" stroke-width="0.9"/>
<circle cx="244.9" cy="441.5" r="1.45" fill="none" stroke="#1a1a1a" stroke-width="0.95"/>
<circle cx="241.5" cy="456.2" r="1.45" fill="none" stroke="#1a1a1a" stroke-width="0.95"/>
<circle cx="248.6" cy="457.5" r="1.45" fill="none" stroke="#1a1a1a" stroke-width="0.95"/>
<circle cx="245.1" cy="460.2" r="1.45" fill="none" stroke="#1a1a1a" stroke-width="0.95"/>
<circle cx="245.3" cy="464.6" r="1.45" fill="none" stroke="#1a1a1a" stroke-width="0.95"/>
<circle cx="245.3" cy="470.8" r="1.45" fill="none" stroke="#1a1a1a" stroke-width="0.95"/>
<line x1="206.5" y1="418.5" x2="206.5" y2="494" stroke="#2b2b2b" stroke-width="1"/>
<line x1="203.7" y1="493.5" x2="254.8" y2="493.5" stroke="#2b2b2b" stroke-width="1"/>
<line x1="203.6" y1="493.5" x2="206.5" y2="493.5" stroke="#2b2b2b" stroke-width="1"/>
<text x="200.6" y="496.2" font-size="8" text-anchor="end">0</text>
<line x1="203.6" y1="479.5" x2="206.5" y2="479.5" stroke="#2b2b2b" stroke-width="1"/>
<text x="196.5" y="481.7" font-size="8" text-anchor="end" textLength="16.2" lengthAdjust="spacingAndGlyphs">1x10</text>
<text x="199.9" y="477.6" font-size="5" text-anchor="end">5</text>
<line x1="203.6" y1="464.5" x2="206.5" y2="464.5" stroke="#2b2b2b" stroke-width="1"/>
<text x="196.5" y="467.3" font-size="8" text-anchor="end" textLength="16.2" lengthAdjust="spacingAndGlyphs">2x10</text>
<text x="199.9" y="463.2" font-size="5" text-anchor="end">5</text>
<line x1="203.6" y1="450.5" x2="206.5" y2="450.5" stroke="#2b2b2b" stroke-width="1"/>
<text x="196.5" y="452.9" font-size="8" text-anchor="end" textLength="16.2" lengthAdjust="spacingAndGlyphs">3x10</text>
<text x="199.9" y="448.8" font-size="5" text-anchor="end">5</text>
<line x1="203.6" y1="435.5" x2="206.5" y2="435.5" stroke="#2b2b2b" stroke-width="1"/>
<text x="196.5" y="438.5" font-size="8" text-anchor="end" textLength="16.2" lengthAdjust="spacingAndGlyphs">4x10</text>
<text x="199.9" y="434.4" font-size="5" text-anchor="end">5</text>
<line x1="203.6" y1="421.5" x2="206.5" y2="421.5" stroke="#2b2b2b" stroke-width="1"/>
<text x="196.5" y="424.1" font-size="8" text-anchor="end" textLength="16.2" lengthAdjust="spacingAndGlyphs">5x10</text>
<text x="199.9" y="420" font-size="5" text-anchor="end">5</text>
<line x1="216.5" y1="493.5" x2="216.5" y2="496.1" stroke="#2b2b2b" stroke-width="1"/>
<line x1="230.5" y1="493.5" x2="230.5" y2="496.1" stroke="#2b2b2b" stroke-width="1"/>
<line x1="245.5" y1="493.5" x2="245.5" y2="496.1" stroke="#2b2b2b" stroke-width="1"/>
<text x="205.1" y="413" font-size="8" textLength="51.3" lengthAdjust="spacingAndGlyphs">BM MØ CD86</text>
<line x1="216.2" y1="423.8" x2="245.4" y2="423.8" stroke="#555" stroke-width="1.3"/>
<text x="230.8" y="422.9" font-size="7.2" text-anchor="middle" fill="#222">*</text>
<text x="174.3" y="455.7" font-size="9.8" text-anchor="middle" textLength="33.4" lengthAdjust="spacingAndGlyphs" transform="rotate(-90 174.3 455.7)">Cell count</text>
<text x="218.5" y="502.2" font-size="8.3" text-anchor="end" transform="rotate(-45 218.5 502.2)">Control</text>
<text x="233.5" y="503" font-size="8.3" text-anchor="end" transform="rotate(-45 233.5 503)">5TGM1</text>
<text x="248.1" y="502.9" font-size="8.3" text-anchor="end" transform="rotate(-45 248.1 502.9)">5TGM1 + H-151</text>
<rect x="318.95" y="446.6" width="8.5" height="46.8" fill="#0f4e86"/>
<line x1="323.2" y1="446.6" x2="323.2" y2="442.5" stroke="#3a3a3a" stroke-width="0.9"/>
<line x1="320.8" y1="442.5" x2="325.6" y2="442.5" stroke="#3a3a3a" stroke-width="0.9"/>
<circle cx="319.8" cy="441.8" r="1.45" fill="none" stroke="#1a1a1a" stroke-width="0.95"/>
<circle cx="326.7" cy="441.2" r="1.45" fill="none" stroke="#1a1a1a" stroke-width="0.95"/>
<circle cx="319.6" cy="447.5" r="1.45" fill="none" stroke="#1a1a1a" stroke-width="0.95"/>
<circle cx="326.6" cy="447.5" r="1.45" fill="none" stroke="#1a1a1a" stroke-width="0.95"/>
<circle cx="323.3" cy="450.5" r="1.45" fill="none" stroke="#1a1a1a" stroke-width="0.95"/>
<rect x="333.15" y="459" width="8.9" height="34.4" fill="#c8052c"/>
<line x1="337.6" y1="459" x2="337.6" y2="449.4" stroke="#3a3a3a" stroke-width="0.9"/>
<line x1="335.2" y1="449.4" x2="340" y2="449.4" stroke="#3a3a3a" stroke-width="0.9"/>
<circle cx="337.3" cy="445.4" r="1.45" fill="none" stroke="#1a1a1a" stroke-width="0.95"/>
<circle cx="334" cy="453.7" r="1.45" fill="none" stroke="#1a1a1a" stroke-width="0.95"/>
<circle cx="340.9" cy="453.7" r="1.45" fill="none" stroke="#1a1a1a" stroke-width="0.95"/>
<circle cx="334.2" cy="463.5" r="1.45" fill="none" stroke="#1a1a1a" stroke-width="0.95"/>
<circle cx="341" cy="463.5" r="1.45" fill="none" stroke="#1a1a1a" stroke-width="0.95"/>
<circle cx="337.5" cy="469.5" r="1.45" fill="none" stroke="#1a1a1a" stroke-width="0.95"/>
<rect x="348.05" y="457.5" width="8.3" height="35.9" fill="#fbc100"/>
<line x1="352.2" y1="457.5" x2="352.2" y2="450.6" stroke="#3a3a3a" stroke-width="0.9"/>
<line x1="349.8" y1="450.6" x2="354.6" y2="450.6" stroke="#3a3a3a" stroke-width="0.9"/>
<circle cx="348.4" cy="447.1" r="1.45" fill="none" stroke="#1a1a1a" stroke-width="0.95"/>
<circle cx="355.6" cy="447.1" r="1.45" fill="none" stroke="#1a1a1a" stroke-width="0.95"/>
<circle cx="352.1" cy="450.6" r="1.45" fill="none" stroke="#1a1a1a" stroke-width="0.95"/>
<circle cx="352.2" cy="459.8" r="1.45" fill="none" stroke="#1a1a1a" stroke-width="0.95"/>
<circle cx="348.7" cy="468.5" r="1.45" fill="none" stroke="#1a1a1a" stroke-width="0.95"/>
<circle cx="355.3" cy="468.5" r="1.45" fill="none" stroke="#1a1a1a" stroke-width="0.95"/>
<line x1="313.5" y1="418.5" x2="313.5" y2="494" stroke="#2b2b2b" stroke-width="1"/>
<line x1="310.3" y1="493.5" x2="361.3" y2="493.5" stroke="#2b2b2b" stroke-width="1"/>
<line x1="310.6" y1="493.5" x2="313.5" y2="493.5" stroke="#2b2b2b" stroke-width="1"/>
<text x="307.4" y="496.2" font-size="8" text-anchor="end">0</text>
<line x1="310.6" y1="475.5" x2="313.5" y2="475.5" stroke="#2b2b2b" stroke-width="1"/>
<text x="303.7" y="478.1" font-size="8" text-anchor="end" textLength="16.2" lengthAdjust="spacingAndGlyphs">5x10</text>
<text x="307.1" y="474" font-size="5" text-anchor="end">5</text>
<line x1="310.6" y1="457.5" x2="313.5" y2="457.5" stroke="#2b2b2b" stroke-width="1"/>
<text x="303.7" y="460.4" font-size="8" text-anchor="end" textLength="16.2" lengthAdjust="spacingAndGlyphs">1x10</text>
<text x="307.1" y="456.3" font-size="5" text-anchor="end">6</text>
<line x1="310.6" y1="439.5" x2="313.5" y2="439.5" stroke="#2b2b2b" stroke-width="1"/>
<text x="303.7" y="441.9" font-size="8" text-anchor="end" textLength="16.2" lengthAdjust="spacingAndGlyphs">2x10</text>
<text x="307.1" y="437.8" font-size="5" text-anchor="end">6</text>
<line x1="310.6" y1="420.5" x2="313.5" y2="420.5" stroke="#2b2b2b" stroke-width="1"/>
<text x="303.7" y="423.5" font-size="8" text-anchor="end" textLength="16.2" lengthAdjust="spacingAndGlyphs">2x10</text>
<text x="307.1" y="419.4" font-size="5" text-anchor="end">6</text>
<line x1="323.5" y1="493.5" x2="323.5" y2="496.1" stroke="#2b2b2b" stroke-width="1"/>
<line x1="337.5" y1="493.5" x2="337.5" y2="496.1" stroke="#2b2b2b" stroke-width="1"/>
<line x1="352.5" y1="493.5" x2="352.5" y2="496.1" stroke="#2b2b2b" stroke-width="1"/>
<text x="310" y="412.9" font-size="8" textLength="56.2" lengthAdjust="spacingAndGlyphs">BM MØ CD206</text>
<text x="281.5" y="455.4" font-size="9.8" text-anchor="middle" textLength="33.4" lengthAdjust="spacingAndGlyphs" transform="rotate(-90 281.5 455.4)">Cell count</text>
<text x="325.3" y="502.2" font-size="8.3" text-anchor="end" transform="rotate(-45 325.3 502.2)">Control</text>
<text x="340.2" y="503" font-size="8.3" text-anchor="end" transform="rotate(-45 340.2 503)">5TGM1</text>
<text x="355" y="502.9" font-size="8.3" text-anchor="end" transform="rotate(-45 355 502.9)">5TGM1 + H-151</text>
<rect x="427.5" y="452.5" width="8.4" height="40.9" fill="#0f4e86"/>
<line x1="431.7" y1="452.5" x2="431.7" y2="440.8" stroke="#3a3a3a" stroke-width="0.9"/>
<line x1="429.3" y1="440.8" x2="434.1" y2="440.8" stroke="#3a3a3a" stroke-width="0.9"/>
<circle cx="432" cy="440.3" r="1.45" fill="none" stroke="#1a1a1a" stroke-width="0.95"/>
<circle cx="428.3" cy="451.5" r="1.45" fill="none" stroke="#1a1a1a" stroke-width="0.95"/>
<circle cx="435" cy="451.5" r="1.45" fill="none" stroke="#1a1a1a" stroke-width="0.95"/>
<circle cx="435.2" cy="449.6" r="1.45" fill="none" stroke="#1a1a1a" stroke-width="0.95"/>
<circle cx="432" cy="474.6" r="1.45" fill="none" stroke="#1a1a1a" stroke-width="0.95"/>
<rect x="442.15" y="468.3" width="8.7" height="25.1" fill="#c8052c"/>
<line x1="446.5" y1="468.3" x2="446.5" y2="459" stroke="#3a3a3a" stroke-width="0.9"/>
<line x1="444.1" y1="459" x2="448.9" y2="459" stroke="#3a3a3a" stroke-width="0.9"/>
<circle cx="446.5" cy="455.3" r="1.45" fill="none" stroke="#1a1a1a" stroke-width="0.95"/>
<circle cx="446.5" cy="468.3" r="1.45" fill="none" stroke="#1a1a1a" stroke-width="0.95"/>
<circle cx="449.8" cy="472.3" r="1.45" fill="none" stroke="#1a1a1a" stroke-width="0.95"/>
<circle cx="442.8" cy="475.2" r="1.45" fill="none" stroke="#1a1a1a" stroke-width="0.95"/>
<rect x="456.65" y="470.2" width="8.9" height="23.2" fill="#fbc100"/>
<line x1="461.1" y1="470.2" x2="461.1" y2="457.3" stroke="#3a3a3a" stroke-width="0.9"/>
<line x1="458.7" y1="457.3" x2="463.5" y2="457.3" stroke="#3a3a3a" stroke-width="0.9"/>
<circle cx="461" cy="451.5" r="1.45" fill="none" stroke="#1a1a1a" stroke-width="0.95"/>
<circle cx="457.5" cy="472.3" r="1.45" fill="none" stroke="#1a1a1a" stroke-width="0.95"/>
<circle cx="464.4" cy="473.5" r="1.45" fill="none" stroke="#1a1a1a" stroke-width="0.95"/>
<circle cx="461" cy="479.2" r="1.45" fill="none" stroke="#1a1a1a" stroke-width="0.95"/>
<line x1="421.5" y1="418.8" x2="421.5" y2="494" stroke="#2b2b2b" stroke-width="1"/>
<line x1="419.4" y1="493.5" x2="470.7" y2="493.5" stroke="#2b2b2b" stroke-width="1"/>
<line x1="418.6" y1="493.5" x2="421.5" y2="493.5" stroke="#2b2b2b" stroke-width="1"/>
<text x="415.9" y="496.2" font-size="8" text-anchor="end">0</text>
<line x1="418.6" y1="475.5" x2="421.5" y2="475.5" stroke="#2b2b2b" stroke-width="1"/>
<text x="412.2" y="478.1" font-size="8" text-anchor="end" textLength="16.2" lengthAdjust="spacingAndGlyphs">5x10</text>
<text x="415.6" y="474" font-size="5" text-anchor="end">5</text>
<line x1="418.6" y1="457.5" x2="421.5" y2="457.5" stroke="#2b2b2b" stroke-width="1"/>
<text x="412.2" y="460.4" font-size="8" text-anchor="end" textLength="16.2" lengthAdjust="spacingAndGlyphs">1x10</text>
<text x="415.6" y="456.3" font-size="5" text-anchor="end">6</text>
<line x1="418.6" y1="439.5" x2="421.5" y2="439.5" stroke="#2b2b2b" stroke-width="1"/>
<text x="412.2" y="441.9" font-size="8" text-anchor="end" textLength="16.2" lengthAdjust="spacingAndGlyphs">2x10</text>
<text x="415.6" y="437.8" font-size="5" text-anchor="end">6</text>
<line x1="418.6" y1="420.5" x2="421.5" y2="420.5" stroke="#2b2b2b" stroke-width="1"/>
<text x="412.2" y="423.5" font-size="8" text-anchor="end" textLength="16.2" lengthAdjust="spacingAndGlyphs">2x10</text>
<text x="415.6" y="419.4" font-size="5" text-anchor="end">6</text>
<line x1="431.5" y1="493.5" x2="431.5" y2="496.1" stroke="#2b2b2b" stroke-width="1"/>
<line x1="446.5" y1="493.5" x2="446.5" y2="496.1" stroke="#2b2b2b" stroke-width="1"/>
<line x1="461.5" y1="493.5" x2="461.5" y2="496.1" stroke="#2b2b2b" stroke-width="1"/>
<text x="435.4" y="413" font-size="8" textLength="23.1" lengthAdjust="spacingAndGlyphs">IF MØ</text>
<text x="390.8" y="455.4" font-size="9.8" text-anchor="middle" textLength="33.4" lengthAdjust="spacingAndGlyphs" transform="rotate(-90 390.8 455.4)">Cell count</text>
<text x="433.8" y="502.2" font-size="8.3" text-anchor="end" transform="rotate(-45 433.8 502.2)">Control</text>
<text x="449.1" y="503" font-size="8.3" text-anchor="end" transform="rotate(-45 449.1 503)">5TGM1</text>
<text x="463.9" y="502.9" font-size="8.3" text-anchor="end" transform="rotate(-45 463.9 502.9)">5TGM1 + H-151</text>
<rect x="214.05" y="605" width="8.7" height="31.8" fill="#0f4e86"/>
<line x1="218.4" y1="605" x2="218.4" y2="593.3" stroke="#3a3a3a" stroke-width="0.9"/>
<line x1="216" y1="593.3" x2="220.8" y2="593.3" stroke="#3a3a3a" stroke-width="0.9"/>
<circle cx="215" cy="592.7" r="1.45" fill="none" stroke="#1a1a1a" stroke-width="0.95"/>
<circle cx="219.2" cy="592.7" r="1.45" fill="none" stroke="#1a1a1a" stroke-width="0.95"/>
<circle cx="222.2" cy="595" r="1.45" fill="none" stroke="#1a1a1a" stroke-width="0.95"/>
<circle cx="218.4" cy="603.5" r="1.45" fill="none" stroke="#1a1a1a" stroke-width="0.95"/>
<circle cx="218.4" cy="610" r="1.45" fill="none" stroke="#1a1a1a" stroke-width="0.95"/>
<circle cx="218.4" cy="621.5" r="1.45" fill="none" stroke="#1a1a1a" stroke-width="0.95"/>
<rect x="228.8" y="611.3" width="9" height="25.5" fill="#c8052c"/>
<line x1="233.3" y1="611.3" x2="233.3" y2="598.9" stroke="#3a3a3a" stroke-width="0.9"/>
<line x1="230.9" y1="598.9" x2="235.7" y2="598.9" stroke="#3a3a3a" stroke-width="0.9"/>
<circle cx="233.2" cy="589" r="1.45" fill="none" stroke="#1a1a1a" stroke-width="0.95"/>
<circle cx="229.4" cy="607.7" r="1.45" fill="none" stroke="#1a1a1a" stroke-width="0.95"/>
<circle cx="236.7" cy="609.8" r="1.45" fill="none" stroke="#1a1a1a" stroke-width="0.95"/>
<circle cx="229.4" cy="618" r="1.45" fill="none" stroke="#1a1a1a" stroke-width="0.95"/>
<circle cx="236.7" cy="618" r="1.45" fill="none" stroke="#1a1a1a" stroke-width="0.95"/>
<circle cx="233.3" cy="622" r="1.45" fill="none" stroke="#1a1a1a" stroke-width="0.95"/>
<rect x="243.55" y="619.8" width="8.9" height="17" fill="#fbc100"/>
<line x1="248" y1="619.8" x2="248" y2="614.6" stroke="#3a3a3a" stroke-width="0.9"/>
<line x1="245.6" y1="614.6" x2="250.4" y2="614.6" stroke="#3a3a3a" stroke-width="0.9"/>
<circle cx="247.3" cy="613.5" r="1.45" fill="none" stroke="#1a1a1a" stroke-width="0.95"/>
<circle cx="245.5" cy="616.3" r="1.45" fill="none" stroke="#1a1a1a" stroke-width="0.95"/>
<circle cx="249.5" cy="616.3" r="1.45" fill="none" stroke="#1a1a1a" stroke-width="0.95"/>
<circle cx="244" cy="622.7" r="1.45" fill="none" stroke="#1a1a1a" stroke-width="0.95"/>
<circle cx="247.3" cy="622.7" r="1.45" fill="none" stroke="#1a1a1a" stroke-width="0.95"/>
<circle cx="251.3" cy="622.7" r="1.45" fill="none" stroke="#1a1a1a" stroke-width="0.95"/>
<line x1="209.5" y1="562.7" x2="209.5" y2="637" stroke="#2b2b2b" stroke-width="1"/>
<line x1="206.3" y1="636.5" x2="257.1" y2="636.5" stroke="#2b2b2b" stroke-width="1"/>
<line x1="206.6" y1="636.5" x2="209.5" y2="636.5" stroke="#2b2b2b" stroke-width="1"/>
<text x="203.1" y="639.6" font-size="8" text-anchor="end">0</text>
<line x1="206.6" y1="618.5" x2="209.5" y2="618.5" stroke="#2b2b2b" stroke-width="1"/>
<text x="198.4" y="621.4" font-size="8" text-anchor="end" textLength="16.2" lengthAdjust="spacingAndGlyphs">1x10</text>
<text x="201.8" y="617.3" font-size="5" text-anchor="end">4</text>
<line x1="206.6" y1="600.5" x2="209.5" y2="600.5" stroke="#2b2b2b" stroke-width="1"/>
<text x="198.4" y="603.3" font-size="8" text-anchor="end" textLength="16.2" lengthAdjust="spacingAndGlyphs">2x10</text>
<text x="201.8" y="599.2" font-size="5" text-anchor="end">4</text>
<line x1="206.6" y1="582.5" x2="209.5" y2="582.5" stroke="#2b2b2b" stroke-width="1"/>
<text x="198.4" y="585.2" font-size="8" text-anchor="end" textLength="16.2" lengthAdjust="spacingAndGlyphs">3x10</text>
<text x="201.8" y="581.1" font-size="5" text-anchor="end">4</text>
<line x1="206.6" y1="564.5" x2="209.5" y2="564.5" stroke="#2b2b2b" stroke-width="1"/>
<text x="198.4" y="567.1" font-size="8" text-anchor="end" textLength="16.2" lengthAdjust="spacingAndGlyphs">4x10</text>
<text x="201.8" y="563" font-size="5" text-anchor="end">4</text>
<line x1="218.5" y1="636.5" x2="218.5" y2="639.1" stroke="#2b2b2b" stroke-width="1"/>
<line x1="233.5" y1="636.5" x2="233.5" y2="639.1" stroke="#2b2b2b" stroke-width="1"/>
<line x1="248.5" y1="636.5" x2="248.5" y2="639.1" stroke="#2b2b2b" stroke-width="1"/>
<text x="210.6" y="556.1" font-size="8" textLength="45.3" lengthAdjust="spacingAndGlyphs">IF MØ CD86</text>
<text x="176.6" y="598.9" font-size="9.8" text-anchor="middle" textLength="33.4" lengthAdjust="spacingAndGlyphs" transform="rotate(-90 176.6 598.9)">Cell count</text>
<text x="220.5" y="645.6" font-size="8.3" text-anchor="end" transform="rotate(-45 220.5 645.6)">Control</text>
<text x="235.9" y="646.4" font-size="8.3" text-anchor="end" transform="rotate(-45 235.9 646.4)">5TGM1</text>
<text x="250.8" y="646.3" font-size="8.3" text-anchor="end" transform="rotate(-45 250.8 646.3)">5TGM1 + H-151</text>
<rect x="319.25" y="604.8" width="8.7" height="32.1" fill="#0f4e86"/>
<line x1="323.6" y1="604.8" x2="323.6" y2="590.7" stroke="#3a3a3a" stroke-width="0.9"/>
<line x1="321.2" y1="590.7" x2="326" y2="590.7" stroke="#3a3a3a" stroke-width="0.9"/>
<circle cx="323.6" cy="584.4" r="1.45" fill="none" stroke="#1a1a1a" stroke-width="0.95"/>
<circle cx="323.6" cy="601.7" r="1.45" fill="none" stroke="#1a1a1a" stroke-width="0.95"/>
<circle cx="323.6" cy="612" r="1.45" fill="none" stroke="#1a1a1a" stroke-width="0.95"/>
<circle cx="323.6" cy="622.7" r="1.45" fill="none" stroke="#1a1a1a" stroke-width="0.95"/>
<rect x="333.7" y="618" width="9.2" height="18.9" fill="#c8052c"/>
<line x1="338.3" y1="618" x2="338.3" y2="609.4" stroke="#3a3a3a" stroke-width="0.9"/>
<line x1="335.9" y1="609.4" x2="340.7" y2="609.4" stroke="#3a3a3a" stroke-width="0.9"/>
<circle cx="338" cy="604.5" r="1.45" fill="none" stroke="#1a1a1a" stroke-width="0.95"/>
<circle cx="338" cy="609.8" r="1.45" fill="none" stroke="#1a1a1a" stroke-width="0.95"/>
<circle cx="334.5" cy="618.7" r="1.45" fill="none" stroke="#1a1a1a" stroke-width="0.95"/>
<circle cx="341.5" cy="618.7" r="1.45" fill="none" stroke="#1a1a1a" stroke-width="0.95"/>
<circle cx="334.5" cy="626.2" r="1.45" fill="none" stroke="#1a1a1a" stroke-width="0.95"/>
<circle cx="341.5" cy="626.2" r="1.45" fill="none" stroke="#1a1a1a" stroke-width="0.95"/>
<rect x="348.1" y="615.8" width="9.2" height="21.1" fill="#fbc100"/>
<line x1="352.7" y1="615.8" x2="352.7" y2="609.4" stroke="#3a3a3a" stroke-width="0.9"/>
<line x1="350.3" y1="609.4" x2="355.1" y2="609.4" stroke="#3a3a3a" stroke-width="0.9"/>
<circle cx="355.9" cy="606.5" r="1.45" fill="none" stroke="#1a1a1a" stroke-width="0.95"/>
<circle cx="352.5" cy="609.4" r="1.45" fill="none" stroke="#1a1a1a" stroke-width="0.95"/>
<circle cx="352.7" cy="616.3" r="1.45" fill="none" stroke="#1a1a1a" stroke-width="0.95"/>
<circle cx="349.2" cy="620.4" r="1.45" fill="none" stroke="#1a1a1a" stroke-width="0.95"/>
<circle cx="352.9" cy="620.4" r="1.45" fill="none" stroke="#1a1a1a" stroke-width="0.95"/>
<circle cx="356.2" cy="620.4" r="1.45" fill="none" stroke="#1a1a1a" stroke-width="0.95"/>
<line x1="314.5" y1="563.2" x2="314.5" y2="637" stroke="#2b2b2b" stroke-width="1"/>
<line x1="311.3" y1="636.5" x2="362.5" y2="636.5" stroke="#2b2b2b" stroke-width="1"/>
<line x1="311.6" y1="636.5" x2="314.5" y2="636.5" stroke="#2b2b2b" stroke-width="1"/>
<text x="308.4" y="639.7" font-size="8" text-anchor="end">0</text>
<line x1="311.6" y1="618.5" x2="314.5" y2="618.5" stroke="#2b2b2b" stroke-width="1"/>
<text x="303.8" y="621.5" font-size="8" text-anchor="end" textLength="16.2" lengthAdjust="spacingAndGlyphs">1x10</text>
<text x="307.2" y="617.4" font-size="5" text-anchor="end">4</text>
<line x1="311.6" y1="600.5" x2="314.5" y2="600.5" stroke="#2b2b2b" stroke-width="1"/>
<text x="303.8" y="603.4" font-size="8" text-anchor="end" textLength="16.2" lengthAdjust="spacingAndGlyphs">2x10</text>
<text x="307.2" y="599.3" font-size="5" text-anchor="end">4</text>
<line x1="311.6" y1="582.5" x2="314.5" y2="582.5" stroke="#2b2b2b" stroke-width="1"/>
<text x="303.8" y="585.3" font-size="8" text-anchor="end" textLength="16.2" lengthAdjust="spacingAndGlyphs">3x10</text>
<text x="307.2" y="581.2" font-size="5" text-anchor="end">4</text>
<line x1="311.6" y1="564.5" x2="314.5" y2="564.5" stroke="#2b2b2b" stroke-width="1"/>
<text x="303.8" y="567.2" font-size="8" text-anchor="end" textLength="16.2" lengthAdjust="spacingAndGlyphs">4x10</text>
<text x="307.2" y="563.1" font-size="5" text-anchor="end">4</text>
<line x1="323.5" y1="636.5" x2="323.5" y2="639.1" stroke="#2b2b2b" stroke-width="1"/>
<line x1="338.5" y1="636.5" x2="338.5" y2="639.1" stroke="#2b2b2b" stroke-width="1"/>
<line x1="352.5" y1="636.5" x2="352.5" y2="639.1" stroke="#2b2b2b" stroke-width="1"/>
<text x="313.3" y="556.1" font-size="8" textLength="51" lengthAdjust="spacingAndGlyphs">IF MØ CD206</text>
<text x="281.5" y="598.9" font-size="9.8" text-anchor="middle" textLength="33.4" lengthAdjust="spacingAndGlyphs" transform="rotate(-90 281.5 598.9)">Cell count</text>
<text x="325.7" y="645.7" font-size="8.3" text-anchor="end" transform="rotate(-45 325.7 645.7)">Control</text>
<text x="340.9" y="646.5" font-size="8.3" text-anchor="end" transform="rotate(-45 340.9 646.5)">5TGM1</text>
<text x="355.5" y="646.4" font-size="8.3" text-anchor="end" transform="rotate(-45 355.5 646.4)">5TGM1 + H-151</text>
<text x="95.2" y="265.8" font-size="11" fill="#000" font-weight="bold" textLength="5.9" lengthAdjust="spacingAndGlyphs">F</text>
<path d="M134.2 273.9h0.55M149.6 270.3h0.55M144.2 283.8h0.55M121.7 290.3h0.55M120.8 286.9h0.55M122.3 271.2h0.55M139.0 305.0h0.55M124.8 277.3h0.55M148.5 310.6h0.55M146.1 285.2h0.55M164.9 269.1h0.55M159.3 280.3h0.55M125.8 272.4h0.55M133.5 304.5h0.55M127.5 293.8h0.55M149.0 284.1h0.55M144.7 269.9h0.55M121.8 276.5h0.55M151.0 286.7h0.55M133.8 293.9h0.55M140.3 280.8h0.55M156.3 299.2h0.55M130.5 293.4h0.55M143.7 307.3h0.55M153.3 280.2h0.55M165.1 272.4h0.55M138.7 301.8h0.55M126.1 289.5h0.55M120.8 297.7h0.55M154.9 293.4h0.55M145.8 297.5h0.55M139.4 298.5h0.55M150.2 294.9h0.55M147.9 299.4h0.55M148.9 298.5h0.55M133.0 306.2h0.55M129.7 308.9h0.55M138.0 308.2h0.55M133.5 308.7h0.55M150.4 296.0h0.55M145.6 298.0h0.55M146.9 297.0h0.55M143.5 300.2h0.55M134.8 307.8h0.55M131.4 305.5h0.55M139.1 304.8h0.55M131.2 301.3h0.55M140.0 297.7h0.55M149.9 299.5h0.55M149.6 294.2h0.55M137.3 303.2h0.55M144.1 299.1h0.55M136.4 307.1h0.55M133.7 308.2h0.55M132.5 307.7h0.55M146.3 294.3h0.55M134.2 306.4h0.55M138.8 302.4h0.55M138.6 301.6h0.55M131.6 308.5h0.55M147.1 296.1h0.55M147.4 293.6h0.55M144.9 300.7h0.55M152.6 291.2h0.55M134.7 305.6h0.55M140.6 296.0h0.55M138.2 307.0h0.55M153.0 290.6h0.55M146.4 294.6h0.55M140.4 301.1h0.55M131.1 309.9h0.55M147.3 297.4h0.55M156.3 293.7h0.55M138.3 304.4h0.55M135.9 308.3h0.55M150.0 292.9h0.55M143.8 297.8h0.55M148.0 296.7h0.55M143.4 297.2h0.55M143.3 299.2h0.55M147.1 294.6h0.55M148.7 292.8h0.55M137.2 310.1h0.55M149.7 298.8h0.55M148.1 291.9h0.55M141.8 300.4h0.55M147.3 291.7h0.55M143.2 295.5h0.55M147.3 297.1h0.55M136.8 306.7h0.55M134.5 305.3h0.55M146.3 296.0h0.55M144.7 298.6h0.55M144.7 294.3h0.55M144.2 300.9h0.55M139.9 306.1h0.55M129.5 306.7h0.55M139.9 302.0h0.55M141.9 299.3h0.55M141.7 301.5h0.55M141.8 296.5h0.55M148.2 295.8h0.55M139.0 299.1h0.55M140.6 298.6h0.55M144.4 300.3h0.55M149.8 294.5h0.55M147.0 298.8h0.55M135.9 308.2h0.55M132.4 308.5h0.55M145.1 294.5h0.55M133.0 303.9h0.55M139.5 303.5h0.55M138.1 305.0h0.55M145.9 301.0h0.55M130.8 307.3h0.55M138.3 305.1h0.55M148.5 297.7h0.55M142.0 302.1h0.55M141.8 299.0h0.55M151.6 288.6h0.55M132.9 307.8h0.55M145.6 297.5h0.55M143.7 300.5h0.55M139.9 308.1h0.55M141.4 299.1h0.55M130.9 306.3h0.55M136.3 306.9h0.55M151.3 298.0h0.55M134.4 306.4h0.55M131.0 302.2h0.55M138.6 306.3h0.55M136.9 305.9h0.55M132.7 309.7h0.55M136.9 302.6h0.55M141.7 302.5h0.55M131.3 309.0h0.55M143.1 296.9h0.55M141.3 301.1h0.55M143.4 296.8h0.55M144.1 297.0h0.55M146.8 297.8h0.55M145.7 293.2h0.55M138.1 303.0h0.55M137.9 308.2h0.55M136.5 305.6h0.55M150.1 293.6h0.55M136.5 306.0h0.55M141.5 303.3h0.55M143.8 303.6h0.55M141.7 304.9h0.55M136.8 304.1h0.55M134.7 303.2h0.55M134.5 305.8h0.55M138.6 305.7h0.55M134.3 308.5h0.55M132.3 304.1h0.55M142.6 294.6h0.55M145.7 296.0h0.55M152.6 295.6h0.55M148.7 299.6h0.55M144.5 292.6h0.55M148.8 297.7h0.55M143.3 298.1h0.55M141.2 293.9h0.55M143.2 296.9h0.55M133.5 309.8h0.55M135.0 305.3h0.55M139.7 297.0h0.55M145.7 301.2h0.55M141.5 297.0h0.55M148.0 299.6h0.55M137.9 305.6h0.55M146.2 300.2h0.55M146.6 293.5h0.55M138.0 298.5h0.55M142.0 298.6h0.55M133.7 309.6h0.55M136.4 304.0h0.55M131.6 310.7h0.55M143.0 296.6h0.55M137.5 301.2h0.55M134.8 306.4h0.55M150.1 293.2h0.55M143.1 297.4h0.55M139.3 303.0h0.55M149.9 296.2h0.55M126.4 306.1h0.55M135.0 304.9h0.55M147.2 293.6h0.55M147.4 294.7h0.55M127.8 309.0h0.55M138.5 305.4h0.55M137.1 303.9h0.55M146.1 296.2h0.55M147.1 290.4h0.55M134.4 305.7h0.55M147.6 292.1h0.55M139.0 302.7h0.55M134.2 306.1h0.55M148.8 295.4h0.55M141.8 302.4h0.55M153.3 291.5h0.55M149.1 296.7h0.55M141.3 299.6h0.55M140.1 298.2h0.55M143.0 299.2h0.55M151.0 295.6h0.55M136.1 306.3h0.55M149.3 296.0h0.55M133.9 303.6h0.55M135.3 307.4h0.55M146.1 294.5h0.55M151.5 294.5h0.55M134.1 307.5h0.55M139.4 304.2h0.55M130.2 303.3h0.55M142.6 298.0h0.55M139.0 301.8h0.55M130.8 312.7h0.55M129.2 306.9h0.55M147.9 296.6h0.55M133.1 306.2h0.55M152.7 290.8h0.55M136.0 309.2h0.55M144.1 295.1h0.55M125.7 311.6h0.55M151.6 292.0h0.55M137.1 305.7h0.55M138.0 296.7h0.55M141.6 295.0h0.55M138.9 301.5h0.55M146.6 300.5h0.55M142.7 299.6h0.55M132.7 302.9h0.55M136.4 308.1h0.55M140.4 300.5h0.55M145.0 299.5h0.55M143.9 301.0h0.55M145.6 295.1h0.55M140.2 304.4h0.55M140.3 304.4h0.55M141.8 298.9h0.55M145.6 297.7h0.55M130.0 310.1h0.55M145.7 301.1h0.55M143.0 297.1h0.55M147.3 296.6h0.55M136.3 308.3h0.55M140.0 303.7h0.55M135.1 307.8h0.55M145.2 298.0h0.55M140.3 307.4h0.55M134.7 306.9h0.55M143.5 300.5h0.55M151.9 297.2h0.55M140.0 307.6h0.55M149.5 297.6h0.55M136.3 304.1h0.55M136.6 306.3h0.55M139.2 303.1h0.55M150.1 295.2h0.55M148.0 294.1h0.55M129.1 308.5h0.55M149.5 295.9h0.55M151.1 295.0h0.55M146.5 295.5h0.55M137.9 310.0h0.55M135.8 301.0h0.55M136.4 308.1h0.55M142.4 302.0h0.55M137.0 304.1h0.55M149.0 295.6h0.55M151.1 294.1h0.55M147.2 300.2h0.55M138.3 304.7h0.55M142.1 300.6h0.55M145.8 292.8h0.55M143.6 295.6h0.55M133.7 306.3h0.55M134.1 310.6h0.55M136.4 305.2h0.55M137.6 304.6h0.55M150.1 294.8h0.55M135.5 308.9h0.55M142.4 298.1h0.55M135.7 300.5h0.55M147.7 294.9h0.55M134.7 305.8h0.55M138.3 302.0h0.55M134.8 307.2h0.55M136.9 305.0h0.55M129.8 307.2h0.55M141.3 304.1h0.55M144.8 298.5h0.55M142.4 298.3h0.55M150.8 294.7h0.55M136.3 311.6h0.55M144.7 298.9h0.55M145.2 295.6h0.55M147.1 296.3h0.55M140.8 298.6h0.55M139.3 304.0h0.55M132.3 303.4h0.55M137.5 305.9h0.55M144.9 299.6h0.55M135.9 303.6h0.55M134.6 309.1h0.55M140.6 299.6h0.55M133.1 304.6h0.55M133.8 308.6h0.55M134.4 303.3h0.55M145.6 297.8h0.55M139.5 305.9h0.55M141.3 305.9h0.55M140.4 300.6h0.55M146.0 295.1h0.55M127.2 307.9h0.55M151.8 295.8h0.55M136.4 303.0h0.55M129.6 303.9h0.55M127.7 307.5h0.55M149.9 294.4h0.55M152.3 293.6h0.55M134.7 307.3h0.55M144.1 292.2h0.55M134.5 305.2h0.55M141.9 299.7h0.55M135.1 307.9h0.55M139.7 301.3h0.55M134.7 301.3h0.55M127.1 307.2h0.55M132.5 307.6h0.55M138.4 298.6h0.55M133.3 305.2h0.55M137.3 300.5h0.55M143.5 302.4h0.55M140.8 304.2h0.55M144.0 296.8h0.55M141.2 302.0h0.55M141.9 303.2h0.55M144.8 301.5h0.55M132.0 304.6h0.55M144.1 301.5h0.55M139.7 302.7h0.55M152.2 295.2h0.55M149.4 300.7h0.55M146.8 300.1h0.55M135.8 302.3h0.55M129.3 310.4h0.55M135.9 305.6h0.55M148.7 297.6h0.55M149.1 295.6h0.55M140.3 301.4h0.55M138.2 309.7h0.55M145.4 297.5h0.55M148.7 297.9h0.55M139.2 301.6h0.55M136.1 298.3h0.55M137.2 307.2h0.55M139.2 301.3h0.55M147.3 292.4h0.55M143.8 297.2h0.55M150.4 298.1h0.55M130.3 301.0h0.55M140.8 298.3h0.55M132.7 309.2h0.55M139.4 300.0h0.55M149.5 295.6h0.55M143.6 298.6h0.55M140.0 304.4h0.55M131.8 304.2h0.55M132.5 304.3h0.55M135.6 306.3h0.55M137.4 308.1h0.55M148.2 293.3h0.55M140.3 305.0h0.55M139.1 302.1h0.55M143.9 300.8h0.55M136.5 304.7h0.55M139.3 301.2h0.55M132.2 307.8h0.55M143.0 299.8h0.55M132.0 304.5h0.55M143.9 297.7h0.55M136.6 304.6h0.55M148.9 292.0h0.55M133.9 306.4h0.55M139.7 299.6h0.55M137.0 306.2h0.55M129.2 311.0h0.55M146.9 295.5h0.55M133.0 304.1h0.55M143.6 296.2h0.55M145.2 298.5h0.55M150.0 295.1h0.55M135.2 300.9h0.55M142.3 300.3h0.55M137.7 307.7h0.55M141.4 296.4h0.55M144.0 294.0h0.55M146.3 296.3h0.55M142.4 296.7h0.55M134.2 305.1h0.55M148.7 294.8h0.55M135.5 306.6h0.55M134.6 306.8h0.55M141.1 295.8h0.55M148.7 298.2h0.55M140.2 300.2h0.55M153.5 296.2h0.55M149.7 294.1h0.55M135.5 306.0h0.55M148.7 293.1h0.55M145.0 294.7h0.55M137.0 309.1h0.55M133.6 307.4h0.55M131.3 310.1h0.55M142.8 298.7h0.55M143.5 293.5h0.55M145.8 299.5h0.55M139.7 300.4h0.55M142.4 297.4h0.55M152.1 297.0h0.55M136.3 306.3h0.55M145.8 296.8h0.55M135.0 301.3h0.55M131.7 306.1h0.55M146.3 300.0h0.55M137.4 307.2h0.55M143.8 302.7h0.55M133.6 305.0h0.55M144.0 295.2h0.55M133.6 304.9h0.55M133.2 307.4h0.55M134.4 309.6h0.55M136.0 303.6h0.55M131.9 305.8h0.55M145.4 294.3h0.55M136.8 304.4h0.55M144.4 293.0h0.55M129.4 307.5h0.55M144.4 301.2h0.55M148.0 296.0h0.55M135.1 300.9h0.55M135.2 307.7h0.55M135.4 303.6h0.55M140.3 308.3h0.55M151.0 300.1h0.55M126.5 310.8h0.55M145.8 294.4h0.55M133.8 305.2h0.55M134.3 306.0h0.55M139.8 299.9h0.55M138.3 299.5h0.55M131.3 305.6h0.55M147.7 296.1h0.55M141.9 297.9h0.55M134.3 301.7h0.55M143.9 293.3h0.55M141.8 296.6h0.55M136.0 303.4h0.55M139.9 299.5h0.55M143.0 300.8h0.55M137.4 300.4h0.55M145.6 297.7h0.55M144.0 296.8h0.55M141.1 301.1h0.55M144.1 303.0h0.55M147.5 293.9h0.55M137.3 299.1h0.55M137.1 298.2h0.55M134.7 303.0h0.55M133.8 304.0h0.55M151.7 300.4h0.55M140.0 303.8h0.55M141.7 302.8h0.55M138.1 300.7h0.55M136.8 307.7h0.55M146.8 293.7h0.55M144.6 297.0h0.55M134.4 303.7h0.55M139.3 299.3h0.55M138.0 305.0h0.55M145.4 295.8h0.55M138.9 303.7h0.55M134.8 305.5h0.55M146.8 297.1h0.55M134.1 305.5h0.55M130.6 307.5h0.55M134.6 307.0h0.55M136.3 300.1h0.55M143.2 301.7h0.55M135.2 304.6h0.55M149.5 299.1h0.55M143.5 298.9h0.55M147.8 292.6h0.55M134.3 308.4h0.55M144.8 297.4h0.55M148.6 293.5h0.55M143.9 292.8h0.55M147.9 296.3h0.55M148.4 298.2h0.55M140.9 298.6h0.55M145.6 294.4h0.55M137.7 306.9h0.55M130.5 308.3h0.55M136.6 301.2h0.55M153.1 295.3h0.55M135.8 300.5h0.55M144.8 296.9h0.55M153.1 294.8h0.55M147.1 299.3h0.55M146.4 297.4h0.55M146.2 293.2h0.55M152.7 295.2h0.55M139.7 302.0h0.55M134.3 303.5h0.55M146.4 298.5h0.55M133.7 301.1h0.55M138.0 302.7h0.55M140.1 303.1h0.55M146.5 290.8h0.55M136.3 305.1h0.55M138.7 297.3h0.55M130.7 304.7h0.55M143.8 300.7h0.55M133.6 312.7h0.55M139.7 296.6h0.55M145.1 292.8h0.55M141.6 296.7h0.55M145.0 300.7h0.55M139.8 300.8h0.55M139.5 306.8h0.55M146.8 292.9h0.55M147.5 293.6h0.55M134.9 306.7h0.55M133.2 305.0h0.55M152.4 294.8h0.55M135.8 310.6h0.55M144.8 298.8h0.55M128.2 310.3h0.55M152.2 293.8h0.55M142.3 303.9h0.55M135.3 305.9h0.55M130.5 308.1h0.55M154.5 295.4h0.55M138.2 307.3h0.55M135.4 304.0h0.55M132.7 305.4h0.55M147.1 294.6h0.55M142.1 297.0h0.55M148.5 298.7h0.55M145.1 297.5h0.55M143.9 297.9h0.55M136.7 302.9h0.55M146.3 295.3h0.55M135.1 302.2h0.55M147.1 300.7h0.55M135.3 301.2h0.55M135.0 304.4h0.55M149.8 291.6h0.55M144.1 306.1h0.55M145.6 296.3h0.55M148.1 298.8h0.55M141.3 301.2h0.55M144.6 296.7h0.55M146.8 297.4h0.55M138.7 304.5h0.55M134.3 300.5h0.55M153.3 295.7h0.55M149.0 294.3h0.55M139.4 302.0h0.55M146.4 297.2h0.55M127.6 306.6h0.55M134.8 301.6h0.55M131.9 303.6h0.55M140.5 302.9h0.55M146.1 295.1h0.55M134.5 304.7h0.55M129.8 303.4h0.55M144.4 294.6h0.55M142.9 300.7h0.55M133.6 304.5h0.55M138.8 301.2h0.55M143.7 308.3h0.55M141.4 304.6h0.55M148.2 298.4h0.55M136.9 303.4h0.55M137.6 308.2h0.55M138.1 300.6h0.55M139.3 298.5h0.55M148.8 292.5h0.55M137.8 305.2h0.55M135.3 306.4h0.55M143.9 298.6h0.55M149.9 293.5h0.55M141.2 300.0h0.55M149.1 296.0h0.55M147.5 298.0h0.55M136.8 303.0h0.55M151.5 293.5h0.55M131.6 310.1h0.55M152.9 292.6h0.55M133.0 305.5h0.55M144.3 298.6h0.55M134.0 302.4h0.55M142.6 300.5h0.55M147.5 297.9h0.55M138.3 306.3h0.55M134.3 307.3h0.55M148.6 298.4h0.55M141.4 306.8h0.55M140.7 304.0h0.55M150.0 296.3h0.55M138.0 306.0h0.55M140.3 299.4h0.55M142.5 296.2h0.55M133.9 307.3h0.55M143.0 297.2h0.55M147.2 296.9h0.55M133.2 309.9h0.55M139.1 305.5h0.55M138.3 303.4h0.55M155.6 294.7h0.55M144.5 300.3h0.55M136.3 305.6h0.55M148.5 302.8h0.55M150.6 295.1h0.55M152.5 295.7h0.55M137.1 304.3h0.55M145.4 296.9h0.55M132.8 307.1h0.55M128.5 307.6h0.55M133.7 305.1h0.55M135.0 303.3h0.55M135.9 306.2h0.55M140.2 299.3h0.55M131.3 303.9h0.55M144.7 295.4h0.55M131.9 306.1h0.55M149.9 298.6h0.55M140.6 300.6h0.55M146.9 301.5h0.55M141.7 300.4h0.55M135.9 304.5h0.55M131.3 308.1h0.55M127.9 308.7h0.55M144.2 302.7h0.55M148.3 294.8h0.55M140.8 299.7h0.55M137.4 304.8h0.55M136.7 300.9h0.55M149.0 301.0h0.55M135.8 306.2h0.55M136.1 304.6h0.55M132.2 306.3h0.55M128.1 307.3h0.55M140.5 299.8h0.55M147.3 294.6h0.55M129.8 307.1h0.55M138.5 305.8h0.55M128.6 304.9h0.55M129.3 305.3h0.55M137.4 302.6h0.55M133.3 304.4h0.55M135.3 303.2h0.55M144.6 297.7h0.55M129.6 305.6h0.55M151.0 294.4h0.55M150.5 296.2h0.55M151.3 293.1h0.55M137.1 301.0h0.55M144.0 301.3h0.55M142.2 301.1h0.55M150.6 289.3h0.55M145.3 295.4h0.55M152.0 295.4h0.55M135.0 303.5h0.55M145.0 299.2h0.55M132.6 304.7h0.55M148.5 295.3h0.55M146.2 300.3h0.55M146.8 293.6h0.55M138.2 301.3h0.55M135.1 308.1h0.55M138.2 303.8h0.55M127.2 306.6h0.55M138.7 298.1h0.55M134.0 303.8h0.55M138.9 298.9h0.55M137.0 305.3h0.55M137.8 302.4h0.55M127.6 311.7h0.55M132.3 304.5h0.55M138.9 304.3h0.55M146.3 297.2h0.55M146.6 295.3h0.55M133.8 303.9h0.55M134.3 311.8h0.55M146.6 298.5h0.55M135.8 301.1h0.55M148.7 293.4h0.55M144.8 294.1h0.55M141.1 298.6h0.55M152.6 297.0h0.55M131.5 306.6h0.55M144.3 300.5h0.55M140.2 298.7h0.55M140.1 300.6h0.55M139.3 300.2h0.55M135.6 302.1h0.55M138.5 300.4h0.55M138.7 301.4h0.55M139.2 306.0h0.55M147.8 301.8h0.55M140.3 301.0h0.55M150.1 295.5h0.55M149.2 294.5h0.55M135.0 300.0h0.55M135.3 295.1h0.55M136.3 300.4h0.55M135.9 304.7h0.55M141.9 302.5h0.55M143.3 301.6h0.55M135.0 301.7h0.55M151.1 294.5h0.55M132.3 297.7h0.55M132.1 302.9h0.55M130.8 310.8h0.55M145.2 295.7h0.55M127.9 304.2h0.55M128.1 297.9h0.55M127.1 305.1h0.55M126.4 309.9h0.55M123.1 307.2h0.55M126.0 309.6h0.55M123.6 304.0h0.55M125.1 306.7h0.55M122.5 310.8h0.55M124.4 312.5h0.55M127.2 307.6h0.55M127.0 303.6h0.55M124.8 305.5h0.55M123.0 307.6h0.55M125.2 312.5h0.55M123.7 305.9h0.55M126.3 308.9h0.55M125.6 305.8h0.55M126.5 308.8h0.55M121.8 306.6h0.55M122.8 303.4h0.55M125.8 307.7h0.55M125.7 304.4h0.55M125.1 304.3h0.55M126.3 309.9h0.55M129.0 311.9h0.55M123.9 305.9h0.55M123.6 308.6h0.55M129.5 310.0h0.55M121.1 303.1h0.55M122.9 309.3h0.55M125.5 308.5h0.55M129.1 304.6h0.55M126.2 304.8h0.55M121.4 302.2h0.55M120.6 307.7h0.55M125.6 311.0h0.55M125.2 305.1h0.55M122.0 308.1h0.55M125.6 309.7h0.55M124.7 309.2h0.55M127.1 307.0h0.55M124.6 306.8h0.55M123.6 306.8h0.55M124.9 308.2h0.55M128.2 312.1h0.55M124.6 309.6h0.55M126.1 310.2h0.55M125.5 308.4h0.55M124.6 304.8h0.55M127.2 312.0h0.55M126.8 309.0h0.55M126.0 305.9h0.55M121.9 309.8h0.55M125.9 305.6h0.55M123.6 312.0h0.55M121.9 313.7h0.55M124.1 307.4h0.55M124.5 308.0h0.55M125.1 304.9h0.55M127.6 304.8h0.55M124.5 309.4h0.55M124.4 306.0h0.55M126.2 306.2h0.55M123.0 307.1h0.55M125.1 313.5h0.55M123.3 310.9h0.55M123.9 306.3h0.55M124.8 308.4h0.55M127.2 313.6h0.55M124.2 312.2h0.55M127.5 310.3h0.55M124.0 310.7h0.55M125.3 308.7h0.55M125.0 309.8h0.55M127.7 311.5h0.55M125.1 311.0h0.55M128.4 304.2h0.55M128.4 302.8h0.55M126.6 309.6h0.55M128.5 308.5h0.55M124.5 304.7h0.55M123.0 310.2h0.55M125.0 305.0h0.55M126.6 304.8h0.55M124.6 305.9h0.55M128.8 312.6h0.55M125.2 302.0h0.55M126.1 307.8h0.55M126.2 309.5h0.55M124.9 310.7h0.55M127.2 308.2h0.55M124.7 305.8h0.55M126.9 303.7h0.55M125.2 304.9h0.55M122.7 309.6h0.55M125.4 307.6h0.55M127.2 302.3h0.55M125.4 308.5h0.55M127.2 303.7h0.55M126.9 308.3h0.55M128.2 311.5h0.55M125.5 306.0h0.55M124.8 304.2h0.55M125.4 300.9h0.55M125.3 309.0h0.55M127.5 306.3h0.55M128.3 305.2h0.55M125.2 300.9h0.55M124.0 304.7h0.55M128.4 309.3h0.55M123.3 309.3h0.55M126.4 306.7h0.55M125.5 306.5h0.55M124.4 301.4h0.55M125.3 311.9h0.55M128.3 306.5h0.55M124.0 306.8h0.55M127.3 308.7h0.55M124.4 308.7h0.55M125.1 309.3h0.55M124.7 302.5h0.55M125.6 310.1h0.55M123.3 307.1h0.55M127.2 306.2h0.55M127.1 311.0h0.55M123.7 313.1h0.55M122.3 305.7h0.55M126.9 312.0h0.55M123.7 305.2h0.55M125.9 300.9h0.55M126.7 309.4h0.55M124.6 309.3h0.55M127.0 308.6h0.55M126.5 312.6h0.55M124.6 308.0h0.55M124.5 311.0h0.55M124.7 309.1h0.55M125.8 307.7h0.55M128.8 307.2h0.55M128.2 310.3h0.55M128.1 306.9h0.55M127.3 310.1h0.55M124.3 308.4h0.55M125.3 307.4h0.55M128.0 305.1h0.55M122.2 301.6h0.55M124.6 305.3h0.55M125.5 309.4h0.55M128.9 308.5h0.55M126.4 305.0h0.55M126.6 312.1h0.55M128.1 300.9h0.55M127.2 312.8h0.55M127.1 302.5h0.55M124.9 309.5h0.55M126.3 304.8h0.55M123.8 310.8h0.55M122.9 312.3h0.55M125.5 308.5h0.55M122.9 305.5h0.55M126.8 302.5h0.55M129.5 302.8h0.55M123.1 307.6h0.55M126.4 310.0h0.55M124.8 306.8h0.55M125.0 305.6h0.55M120.5 310.7h0.55M126.0 308.0h0.55M124.3 308.3h0.55M125.5 307.2h0.55M127.6 301.7h0.55M126.0 303.9h0.55M124.9 312.5h0.55M123.4 307.2h0.55M124.4 310.7h0.55M123.6 301.8h0.55M126.5 306.3h0.55M124.9 311.1h0.55M123.8 306.2h0.55M125.8 308.9h0.55M124.5 311.0h0.55M129.8 306.1h0.55M129.1 300.4h0.55M128.2 306.3h0.55M125.8 306.4h0.55M124.3 303.2h0.55M124.7 311.9h0.55M127.7 306.3h0.55M124.5 305.1h0.55M123.2 313.6h0.55M126.8 307.9h0.55M124.6 304.1h0.55M123.0 312.6h0.55M119.5 312.9h0.55M119.3 312.4h0.55M119.5 310.9h0.55M121.8 312.1h0.55M122.6 310.3h0.55M123.4 313.4h0.55M121.0 312.2h0.55M119.8 311.3h0.55M119.0 311.6h0.55M121.3 313.4h0.55M122.5 312.7h0.55M120.4 311.2h0.55M120.5 311.8h0.55M121.0 310.8h0.55M123.6 311.4h0.55M123.4 313.2h0.55M120.2 312.1h0.55M123.0 311.0h0.55M121.1 310.7h0.55M121.1 311.0h0.55M121.1 312.9h0.55M123.1 311.7h0.55M121.3 312.7h0.55M120.6 310.0h0.55M122.7 310.2h0.55M122.4 310.1h0.55M123.8 310.0h0.55M122.3 313.7h0.55M119.5 313.6h0.55M119.7 309.0h0.55M122.1 312.5h0.55M120.7 307.9h0.55M120.9 311.1h0.55M120.4 311.1h0.55M120.4 310.5h0.55M121.6 313.0h0.55M122.1 309.8h0.55M121.2 311.7h0.55M123.2 313.2h0.55M121.8 313.3h0.55M120.3 312.1h0.55M122.4 310.2h0.55M119.9 309.0h0.55M121.3 311.4h0.55M120.5 312.2h0.55M121.1 311.1h0.55M120.3 310.1h0.55M120.1 311.6h0.55M121.9 310.3h0.55M122.5 310.0h0.55M122.3 312.1h0.55M120.6 311.3h0.55M121.7 312.7h0.55M118.9 311.9h0.55M119.9 312.4h0.55M123.1 311.6h0.55M120.8 311.8h0.55M121.9 311.7h0.55M120.4 310.4h0.55M120.7 313.2h0.55M120.8 313.4h0.55M121.4 311.5h0.55M122.9 309.6h0.55M119.5 309.9h0.55M120.2 312.4h0.55M121.9 308.6h0.55M123.2 310.6h0.55M120.9 309.7h0.55M120.0 310.5h0.55M119.4 311.0h0.55M122.3 312.0h0.55M119.5 311.7h0.55M121.0 312.6h0.55M120.5 312.2h0.55M124.2 311.6h0.55M119.3 312.0h0.55M119.8 311.0h0.55M121.3 312.0h0.55M120.6 312.7h0.55M120.7 309.6h0.55M122.3 311.0h0.55M122.9 310.6h0.55M121.9 312.0h0.55M119.3 313.5h0.55M122.7 312.2h0.55M122.0 310.8h0.55M121.0 311.8h0.55M121.6 312.5h0.55M120.7 310.5h0.55M120.1 312.1h0.55M120.4 310.7h0.55M120.6 307.7h0.55M120.5 311.1h0.55M122.2 308.6h0.55M120.5 312.2h0.55M121.8 313.2h0.55M122.6 310.0h0.55M122.0 311.0h0.55M120.0 310.3h0.55M120.4 310.3h0.55M122.5 312.0h0.55M123.2 312.1h0.55M120.9 306.5h0.55M123.2 308.6h0.55M122.2 275.7h0.55M120.4 310.4h0.55M124.9 307.0h0.55M123.3 310.2h0.55M124.7 285.1h0.55M122.3 295.9h0.55M123.6 297.9h0.55M122.6 306.3h0.55M125.4 288.8h0.55M127.1 273.9h0.55M126.0 299.3h0.55M119.8 312.3h0.55M122.5 289.8h0.55M123.5 308.6h0.55M123.5 312.3h0.55M123.4 300.2h0.55M127.5 276.8h0.55M122.9 307.3h0.55M127.0 310.9h0.55M126.0 308.7h0.55M123.5 296.2h0.55M122.4 304.7h0.55M123.0 310.8h0.55M122.1 295.3h0.55M121.0 311.2h0.55M131.1 277.0h0.55M123.4 310.3h0.55M124.5 304.0h0.55M125.5 286.8h0.55M129.5 274.1h0.55M126.1 308.6h0.55M123.6 305.8h0.55M122.4 309.2h0.55M129.6 281.2h0.55M122.6 296.7h0.55M128.9 282.7h0.55M124.8 303.0h0.55M128.0 306.9h0.55M124.7 307.6h0.55M133.6 274.0h0.55M123.1 310.1h0.55M122.9 309.9h0.55M126.9 305.2h0.55M128.4 280.1h0.55M124.3 307.1h0.55M121.4 311.9h0.55M124.7 303.4h0.55M127.1 275.1h0.55M121.9 311.2h0.55M125.7 305.1h0.55M123.0 309.2h0.55M121.6 312.4h0.55M127.3 278.4h0.55M131.3 272.9h0.55M124.3 309.1h0.55M125.6 312.1h0.55M122.2 303.6h0.55M121.8 310.2h0.55M121.8 298.0h0.55M131.3 271.8h0.55M123.2 305.6h0.55M127.1 274.8h0.55M129.1 307.7h0.55M119.1 310.1h0.55M121.9 307.8h0.55M123.8 309.5h0.55M128.4 279.8h0.55M122.4 310.7h0.55M123.9 293.4h0.55M132.3 274.0h0.55M124.6 281.8h0.55M129.2 274.2h0.55M124.0 290.0h0.55M121.1 304.2h0.55M124.6 293.8h0.55M125.5 300.5h0.55M125.6 307.5h0.55M123.9 289.6h0.55M126.6 311.7h0.55M122.2 299.1h0.55M127.2 285.2h0.55M124.2 284.4h0.55M130.7 281.9h0.55M120.0 313.6h0.55M128.1 284.7h0.55M125.2 309.4h0.55M124.7 284.8h0.55M123.7 291.7h0.55M127.1 284.6h0.55M124.2 293.2h0.55M122.1 309.9h0.55M125.5 305.1h0.55M126.5 297.7h0.55M126.0 291.1h0.55M124.0 308.4h0.55M126.6 293.6h0.55M125.1 301.7h0.55M126.3 305.7h0.55M123.6 304.3h0.55M121.8 302.1h0.55M121.7 307.0h0.55M130.3 280.5h0.55M124.0 291.7h0.55M127.1 307.5h0.55M121.5 304.8h0.55M128.0 278.5h0.55M123.0 296.7h0.55M125.2 283.6h0.55M125.5 280.1h0.55M126.3 298.3h0.55M126.0 288.9h0.55M122.4 291.3h0.55M127.9 287.6h0.55M123.5 311.0h0.55M123.1 309.8h0.55M121.6 309.9h0.55M127.8 301.9h0.55M128.0 283.7h0.55M123.6 306.4h0.55M128.6 273.8h0.55M123.6 309.7h0.55M122.8 298.0h0.55M128.1 284.3h0.55M125.9 310.3h0.55M121.5 305.5h0.55M122.6 298.6h0.55M125.8 309.0h0.55M122.0 313.3h0.55M122.4 303.5h0.55M124.1 307.1h0.55M127.2 288.7h0.55M126.6 301.8h0.55M129.9 280.8h0.55M129.9 294.9h0.55M121.9 311.2h0.55M124.5 276.5h0.55M123.2 298.8h0.55M124.7 310.0h0.55M124.5 310.3h0.55M126.3 312.7h0.55M125.7 276.5h0.55M126.3 307.4h0.55M126.4 311.3h0.55M124.0 310.9h0.55M121.8 308.5h0.55M127.9 300.3h0.55M124.5 306.1h0.55M129.2 285.1h0.55M120.7 313.2h0.55M122.5 309.1h0.55M124.2 300.6h0.55M129.1 293.7h0.55M129.6 309.1h0.55M126.6 276.1h0.55M123.9 304.5h0.55M130.4 277.7h0.55M125.4 280.3h0.55M124.2 312.3h0.55M128.8 278.6h0.55M131.1 277.6h0.55M125.7 277.0h0.55M127.7 293.6h0.55M124.5 304.7h0.55M123.7 309.1h0.55M122.1 311.5h0.55M125.8 296.6h0.55M127.1 302.4h0.55M122.4 310.8h0.55M124.0 298.1h0.55M126.6 293.6h0.55M126.3 278.3h0.55M126.5 280.7h0.55M123.9 311.0h0.55M123.6 300.5h0.55M125.9 303.2h0.55M123.8 300.9h0.55M124.5 304.8h0.55M125.3 307.8h0.55M133.1 279.8h0.55M125.4 299.3h0.55M126.5 293.7h0.55M123.2 311.0h0.55M122.3 304.4h0.55M130.4 280.4h0.55M120.3 307.8h0.55M127.8 290.7h0.55M126.0 296.0h0.55M124.1 292.9h0.55M124.8 304.8h0.55M133.4 277.7h0.55M123.4 304.2h0.55M123.1 306.8h0.55M122.5 311.3h0.55M123.7 311.0h0.55M132.6 273.7h0.55M120.8 301.4h0.55M128.1 276.5h0.55M120.3 308.0h0.55M129.8 287.2h0.55M126.9 308.9h0.55M125.9 291.7h0.55M131.7 282.4h0.55M128.5 286.4h0.55M121.5 297.5h0.55M128.2 285.4h0.55M123.4 274.1h0.55M126.9 310.7h0.55M124.3 307.8h0.55M121.8 310.1h0.55M127.5 299.7h0.55M123.2 291.8h0.55M124.8 282.7h0.55M126.5 284.0h0.55M126.8 292.4h0.55M127.4 294.3h0.55M122.6 312.0h0.55M124.0 310.0h0.55M123.5 296.1h0.55M120.8 311.5h0.55M125.3 295.7h0.55M122.9 306.8h0.55M126.2 292.4h0.55M130.0 292.5h0.55M122.5 313.4h0.55M124.7 308.3h0.55M127.2 294.7h0.55M127.2 300.1h0.55M130.4 275.1h0.55M123.2 310.5h0.55M125.5 309.8h0.55M127.1 285.9h0.55M119.0 310.5h0.55M121.2 302.1h0.55M127.5 278.9h0.55M120.4 296.0h0.55M122.3 304.0h0.55M120.8 304.9h0.55M125.9 278.4h0.55M132.7 274.6h0.55M123.8 291.3h0.55M129.3 286.8h0.55M128.5 288.4h0.55M127.6 310.1h0.55M120.7 309.9h0.55M120.2 313.2h0.55M125.0 296.2h0.55M121.4 307.3h0.55M126.4 271.6h0.55M121.8 294.5h0.55M125.6 289.4h0.55M119.6 309.4h0.55M126.3 286.2h0.55M125.8 299.3h0.55M127.4 289.8h0.55M122.4 313.0h0.55M130.0 274.1h0.55M125.1 306.9h0.55M122.8 307.1h0.55M121.8 309.3h0.55M128.5 275.5h0.55M124.1 279.1h0.55M126.0 293.1h0.55M123.3 309.2h0.55M123.3 296.0h0.55M120.4 310.3h0.55M124.2 301.1h0.55M123.6 308.1h0.55M125.4 283.1h0.55M128.2 277.2h0.55M119.5 311.0h0.55M122.6 293.4h0.55M122.0 313.0h0.55M126.4 272.8h0.55M122.7 288.7h0.55M125.3 289.7h0.55M126.2 285.6h0.55M125.1 280.4h0.55M126.9 292.2h0.55M125.9 306.8h0.55M126.7 298.9h0.55M122.9 298.1h0.55M125.8 306.2h0.55M129.3 284.5h0.55M121.9 287.9h0.55M127.8 276.5h0.55M126.6 293.2h0.55M125.3 289.0h0.55M126.3 308.8h0.55M127.0 284.7h0.55M126.2 310.4h0.55M129.4 272.6h0.55M129.9 292.1h0.55M126.9 306.7h0.55M123.1 311.3h0.55M120.6 301.8h0.55M123.5 311.3h0.55M122.0 308.4h0.55M122.4 306.1h0.55M128.0 288.1h0.55M126.6 284.6h0.55M129.4 286.8h0.55M127.1 304.2h0.55M124.4 288.9h0.55M123.5 299.5h0.55M131.6 281.0h0.55M125.5 278.1h0.55M121.9 311.8h0.55M123.0 300.5h0.55M123.7 303.0h0.55M123.9 305.1h0.55M124.1 288.8h0.55M122.9 309.0h0.55M120.4 307.6h0.55M128.6 270.7h0.55M127.6 275.5h0.55M123.1 311.9h0.55M127.1 279.4h0.55M122.7 309.0h0.55M127.5 294.4h0.55M124.0 313.0h0.55M128.8 277.6h0.55M124.1 311.8h0.55M120.2 287.3h0.55M128.8 276.7h0.55M127.9 284.4h0.55M123.6 297.7h0.55M128.3 309.0h0.55M132.1 289.1h0.55M124.1 301.7h0.55M127.8 283.9h0.55M123.7 313.7h0.55M128.2 305.2h0.55M126.3 286.2h0.55M127.0 279.5h0.55M120.5 304.8h0.55M123.7 300.5h0.55M125.3 308.1h0.55M122.1 310.9h0.55M120.5 310.3h0.55M125.0 292.9h0.55M122.9 311.3h0.55M121.9 302.9h0.55M126.5 292.1h0.55M124.9 291.5h0.55M127.4 278.0h0.55M125.0 308.9h0.55M125.1 302.2h0.55M125.6 294.0h0.55M127.0 311.1h0.55M124.6 312.2h0.55M128.9 278.8h0.55M125.1 274.6h0.55M123.8 308.6h0.55M131.3 289.9h0.55M127.8 292.6h0.55M122.2 310.4h0.55M130.7 284.1h0.55M124.7 310.6h0.55M124.2 283.9h0.55M125.6 295.8h0.55M121.3 311.5h0.55M127.8 304.5h0.55M124.9 309.8h0.55M126.8 303.5h0.55M122.4 309.9h0.55M126.8 273.3h0.55M122.6 308.9h0.55M129.2 283.0h0.55M123.8 306.6h0.55M129.2 295.4h0.55M124.0 312.3h0.55M123.9 290.4h0.55M121.9 303.3h0.55M128.8 292.6h0.55M130.6 284.1h0.55M129.6 290.4h0.55M123.4 283.3h0.55M125.5 309.7h0.55M126.2 291.7h0.55M123.5 306.5h0.55M127.6 302.5h0.55M128.6 274.2h0.55M129.0 271.4h0.55M123.1 308.8h0.55M127.2 307.2h0.55M124.3 304.3h0.55M128.6 278.0h0.55M124.0 310.3h0.55M123.8 296.0h0.55M130.1 275.8h0.55M120.7 292.8h0.55M127.1 303.0h0.55M129.9 274.8h0.55M123.9 307.6h0.55M122.1 304.6h0.55M120.2 311.0h0.55M126.0 289.2h0.55M123.5 309.0h0.55M126.5 292.4h0.55M126.8 273.1h0.55M123.0 292.1h0.55M124.5 307.5h0.55M122.2 312.5h0.55M125.5 293.9h0.55M124.8 310.9h0.55M123.3 302.7h0.55M130.6 291.1h0.55M124.1 305.9h0.55M127.9 286.0h0.55M126.2 284.1h0.55M121.6 309.1h0.55M126.4 293.7h0.55M125.2 311.3h0.55M124.4 293.1h0.55M127.3 311.9h0.55M125.2 310.7h0.55M128.8 291.5h0.55M121.7 309.9h0.55M123.2 313.6h0.55M120.9 309.3h0.55M123.9 310.2h0.55M122.0 306.3h0.55M125.0 301.3h0.55M126.7 292.1h0.55M122.0 312.2h0.55M124.2 301.5h0.55M121.8 311.3h0.55M122.4 309.4h0.55M121.5 312.8h0.55M127.5 276.3h0.55M123.3 307.6h0.55M131.9 280.2h0.55M125.6 310.7h0.55M125.6 311.3h0.55M124.9 310.1h0.55M124.7 277.8h0.55M121.2 312.0h0.55M122.3 308.6h0.55M125.6 311.0h0.55M126.5 310.3h0.55M127.3 300.1h0.55M124.9 288.5h0.55M122.2 299.4h0.55M139.6 298.8h0.55M142.3 279.5h0.55M136.6 282.5h0.55M136.1 286.3h0.55M134.2 302.6h0.55M135.0 288.2h0.55M133.3 294.0h0.55M129.9 296.3h0.55M136.6 302.5h0.55M120.7 292.0h0.55M125.6 305.7h0.55M147.6 281.5h0.55M133.7 301.2h0.55M130.0 290.4h0.55M135.0 285.3h0.55M139.6 286.5h0.55M135.3 311.9h0.55M130.3 302.2h0.55M128.1 306.8h0.55M138.7 288.4h0.55M138.9 300.9h0.55M141.2 285.2h0.55M132.7 301.8h0.55M124.2 294.1h0.55M135.9 294.5h0.55M144.1 297.9h0.55M134.9 294.2h0.55M125.2 296.9h0.55M134.6 288.8h0.55M133.4 296.9h0.55M127.3 291.8h0.55M122.4 310.6h0.55M126.7 282.6h0.55M137.6 286.4h0.55M138.7 284.1h0.55M145.6 287.6h0.55M133.9 292.2h0.55M131.8 299.9h0.55M144.9 278.5h0.55M126.5 302.5h0.55M139.3 273.9h0.55M128.9 286.9h0.55M136.3 293.6h0.55M128.6 286.0h0.55M137.0 271.0h0.55M136.8 287.5h0.55M144.4 291.0h0.55M129.6 292.5h0.55M131.4 287.1h0.55M133.5 299.8h0.55M124.1 297.5h0.55M141.8 291.0h0.55M128.2 289.1h0.55M127.9 282.5h0.55M139.8 286.9h0.55M128.9 283.2h0.55M130.7 289.5h0.55M143.2 279.6h0.55M133.7 300.6h0.55M136.9 287.2h0.55M136.5 285.4h0.55M132.5 284.3h0.55M127.7 283.8h0.55M136.0 293.9h0.55M134.0 297.8h0.55M136.2 290.4h0.55M127.8 301.4h0.55M140.0 291.5h0.55M140.4 281.8h0.55M127.2 307.5h0.55M129.6 296.9h0.55M131.9 293.1h0.55M131.4 288.7h0.55M134.2 274.6h0.55M127.7 286.9h0.55M128.6 274.0h0.55M136.4 303.1h0.55M131.6 299.5h0.55M136.5 278.5h0.55M140.2 271.7h0.55M129.6 291.8h0.55M140.4 286.8h0.55M132.3 285.8h0.55M133.5 291.9h0.55M137.3 300.3h0.55M137.3 288.5h0.55M132.1 306.3h0.55M134.2 290.9h0.55M143.6 296.5h0.55M136.3 288.3h0.55M129.3 304.2h0.55M130.3 302.4h0.55M128.4 296.7h0.55M135.4 291.3h0.55M134.4 294.1h0.55M126.4 288.1h0.55M132.1 308.0h0.55M132.3 284.8h0.55M129.1 295.5h0.55M139.9 281.4h0.55M136.3 290.8h0.55M130.9 285.7h0.55M132.1 286.6h0.55M136.2 274.5h0.55M139.6 292.9h0.55M136.4 301.8h0.55M136.5 274.6h0.55M133.3 295.5h0.55M129.0 285.8h0.55M135.5 294.2h0.55M130.5 292.0h0.55M130.0 289.7h0.55M132.7 301.4h0.55M123.6 297.0h0.55M142.5 286.8h0.55M133.9 298.3h0.55M127.1 286.7h0.55M123.3 287.8h0.55M134.5 298.0h0.55M130.6 288.3h0.55M135.4 295.2h0.55M134.5 274.7h0.55M129.8 273.3h0.55M134.4 283.6h0.55M129.2 307.9h0.55M140.7 289.6h0.55M134.6 292.1h0.55M129.6 294.4h0.55M144.2 275.3h0.55M129.1 296.6h0.55M138.2 294.7h0.55M127.4 295.6h0.55M131.5 282.9h0.55M133.5 287.6h0.55M138.4 291.2h0.55M128.4 296.5h0.55M130.9 288.4h0.55M130.2 303.3h0.55M130.6 279.6h0.55M128.5 302.6h0.55M145.6 272.7h0.55M130.9 291.0h0.55M124.8 302.2h0.55M132.7 294.6h0.55M146.1 278.9h0.55M137.6 295.2h0.55M129.3 290.1h0.55M142.1 290.5h0.55M133.8 282.1h0.55M138.2 292.1h0.55M145.8 293.7h0.55M137.7 290.3h0.55M133.4 287.1h0.55M134.8 292.6h0.55M136.8 298.0h0.55M134.8 285.9h0.55M137.7 301.2h0.55M128.1 299.6h0.55M136.2 293.9h0.55M135.9 288.8h0.55M132.4 306.7h0.55M143.1 271.8h0.55M129.1 290.9h0.55M123.7 302.7h0.55M132.7 287.7h0.55M138.2 308.1h0.55M141.6 294.7h0.55M130.6 299.5h0.55M132.8 301.9h0.55M136.4 288.9h0.55M136.2 283.3h0.55M137.6 300.8h0.55M130.9 298.4h0.55M123.3 308.0h0.55M138.1 279.1h0.55M143.2 284.5h0.55M122.9 288.9h0.55M138.1 285.5h0.55M139.4 273.6h0.55M132.4 300.7h0.55M129.1 301.0h0.55M130.9 296.6h0.55M134.9 309.2h0.55M125.8 304.6h0.55M140.7 276.2h0.55M133.5 311.0h0.55M131.6 278.8h0.55M134.8 284.4h0.55M129.7 287.7h0.55M134.7 286.6h0.55M127.7 294.5h0.55M135.4 282.8h0.55M139.5 272.6h0.55M135.4 286.7h0.55" fill="none" stroke="#111" stroke-width="0.55" stroke-opacity="0.4"/>
<ellipse cx="126.8" cy="306.5" rx="2" ry="5" fill="url(#bg3)"/>
<ellipse cx="121.2" cy="311.5" rx="2" ry="2" fill="url(#bg4)"/>
<ellipse cx="132" cy="309" rx="1.6" ry="1.4" fill="url(#bg5)"/>
<ellipse cx="141" cy="300" rx="7" ry="3.5" fill="url(#bg6)" transform="rotate(-40 141 300)"/>
<rect x="118.3" y="266.3" width="48.8" height="47.9" fill="none" stroke="#b8b8b8" stroke-width="0.6"/>
<path d="M118.3,306.22h1.2M118.3,298.23h1.2M118.3,290.25h1.2M118.3,282.27h1.2M118.3,274.28h1.2M124.4,314.2v-1.2M130.5,314.2v-1.2M136.6,314.2v-1.2M142.7,314.2v-1.2M148.8,314.2v-1.2M154.9,314.2v-1.2M161,314.2v-1.2" fill="none" stroke="#888" stroke-width="0.5"/>
<path d="M128.5,309.6 L145.2,284 L158.5,285.6 L159.6,298.7 L134.8,314 Z" fill="none" stroke="#cc4458" stroke-width="1.05"/>
<path d="M151,304.4 L168.7,304.4" fill="none" stroke="#cc4458" stroke-width="0.9"/>
<path d="M168,302.7 L171.2,304.4 L168,306.1 Z" fill="#cc4458" stroke="none" stroke-width="1"/>
<text x="115.2" y="293.4" font-size="7.3" text-anchor="middle" textLength="10.7" lengthAdjust="spacingAndGlyphs" transform="rotate(-90 115.2 293.4)">SSC</text>
<text x="141.4" y="323.8" font-size="7.3" text-anchor="middle" textLength="12.5" lengthAdjust="spacingAndGlyphs">FSC</text>
<path d="M192.2 308.8h0.55M192.9 300.4h0.55M191.9 297.0h0.55M192.3 303.9h0.55M192.1 286.8h0.55M192.2 283.2h0.55M192.2 304.8h0.55M192.2 282.0h0.55M191.7 294.5h0.55M192.0 309.9h0.55M191.5 307.8h0.55M191.9 303.1h0.55M192.6 297.9h0.55M191.8 305.7h0.55M192.6 292.7h0.55M192.0 286.6h0.55M192.1 309.6h0.55M192.7 308.4h0.55M192.1 293.2h0.55M191.6 282.8h0.55M192.0 304.6h0.55M192.3 302.9h0.55M192.6 307.4h0.55M192.0 291.3h0.55M192.1 286.4h0.55M192.4 302.9h0.55M192.1 295.4h0.55M192.6 309.7h0.55M192.5 305.1h0.55M192.2 296.7h0.55M192.4 291.1h0.55M191.5 280.7h0.55M192.6 307.8h0.55M192.0 308.9h0.55M192.3 299.4h0.55M192.2 298.8h0.55M191.8 293.0h0.55M192.5 282.9h0.55M192.2 302.1h0.55M192.0 287.9h0.55M192.4 298.6h0.55M192.1 297.8h0.55M192.1 301.9h0.55M192.3 306.0h0.55M192.1 309.3h0.55M192.4 281.9h0.55M191.7 284.5h0.55M191.9 311.2h0.55M192.3 287.7h0.55M192.0 292.6h0.55M192.2 285.1h0.55M192.0 286.2h0.55M191.8 285.7h0.55M191.4 310.2h0.55M192.4 294.9h0.55M192.3 284.6h0.55M192.5 301.7h0.55M191.9 291.1h0.55M192.0 301.5h0.55M192.2 306.8h0.55M192.2 306.1h0.55M192.5 299.4h0.55M192.1 293.7h0.55M192.1 300.0h0.55M191.7 284.8h0.55M191.8 304.4h0.55M192.6 290.5h0.55M192.3 292.6h0.55M192.2 307.8h0.55M191.8 290.1h0.55M192.5 291.1h0.55M192.7 296.4h0.55M192.0 295.0h0.55M192.3 298.7h0.55M191.9 291.6h0.55M191.9 308.3h0.55M192.3 290.2h0.55M192.4 301.4h0.55M192.3 281.7h0.55M192.5 287.1h0.55M192.1 302.3h0.55M191.4 309.2h0.55M192.5 282.7h0.55M192.2 285.6h0.55M192.8 292.2h0.55M191.4 303.0h0.55M192.4 281.2h0.55M192.1 280.4h0.55M192.3 283.6h0.55M191.8 298.4h0.55M192.6 291.2h0.55M192.2 292.3h0.55M192.7 310.2h0.55M192.3 285.5h0.55M192.2 290.8h0.55M192.2 296.4h0.55M192.3 293.4h0.55M192.5 293.8h0.55M191.5 290.8h0.55M192.6 306.5h0.55M192.4 284.6h0.55M192.8 301.4h0.55M192.2 304.4h0.55M191.8 304.9h0.55M192.2 297.5h0.55M193.0 309.6h0.55M192.1 299.3h0.55M192.7 288.1h0.55M192.7 303.9h0.55M192.0 301.6h0.55M192.0 288.1h0.55M191.9 306.6h0.55M192.9 308.9h0.55M192.6 303.8h0.55M192.6 297.6h0.55M192.3 293.2h0.55M192.4 304.2h0.55M192.5 283.4h0.55M192.2 302.9h0.55M192.5 300.3h0.55M192.3 302.7h0.55M191.7 289.0h0.55M192.6 309.2h0.55M192.4 297.4h0.55M192.4 294.0h0.55M192.0 309.5h0.55M192.5 303.5h0.55M192.6 281.6h0.55M192.5 303.2h0.55M192.2 292.1h0.55M192.1 281.0h0.55M192.3 306.4h0.55M191.7 294.5h0.55M191.8 303.0h0.55M192.6 286.0h0.55M192.4 284.0h0.55M192.6 290.8h0.55M192.3 294.5h0.55M192.3 308.7h0.55M192.8 298.9h0.55M191.5 299.5h0.55M192.8 294.0h0.55M192.0 304.7h0.55M191.6 287.3h0.55M192.4 309.8h0.55M191.9 301.1h0.55M192.5 285.4h0.55M192.2 295.5h0.55M192.2 296.9h0.55M192.5 284.9h0.55M192.4 309.7h0.55M192.5 298.0h0.55M192.2 297.0h0.55M192.4 286.5h0.55M191.4 299.3h0.55M191.6 301.6h0.55M191.5 299.5h0.55M191.9 301.0h0.55M192.5 289.3h0.55M192.2 310.2h0.55M192.3 297.4h0.55M192.5 283.4h0.55M193.2 300.9h0.55M192.2 301.0h0.55M191.4 281.8h0.55M192.2 289.7h0.55M192.6 292.7h0.55M192.4 305.6h0.55M192.3 285.5h0.55M192.1 309.3h0.55M191.8 296.5h0.55M192.2 292.5h0.55M192.4 305.7h0.55M192.2 303.3h0.55M191.7 290.8h0.55M192.7 310.8h0.55M192.5 300.5h0.55M191.7 297.4h0.55M192.3 288.0h0.55M191.7 284.4h0.55M191.7 285.0h0.55M191.8 297.5h0.55M192.5 280.5h0.55M192.2 287.2h0.55M192.2 305.6h0.55M192.0 294.9h0.55M192.3 304.0h0.55M191.8 305.9h0.55M192.0 308.6h0.55M192.5 282.2h0.55M192.0 282.6h0.55M191.4 289.5h0.55M192.4 287.7h0.55M192.7 289.9h0.55M192.3 293.3h0.55M192.5 283.5h0.55M192.1 284.8h0.55M192.1 295.8h0.55M192.1 302.8h0.55M192.0 285.0h0.55M192.8 300.7h0.55M192.3 280.3h0.55M192.7 286.3h0.55M192.1 311.0h0.55M192.3 301.0h0.55M192.0 301.4h0.55M191.2 282.0h0.55M192.5 308.7h0.55M192.4 295.4h0.55M192.3 295.2h0.55M192.4 308.7h0.55M192.0 284.4h0.55M192.1 301.0h0.55M192.7 310.4h0.55M192.4 304.9h0.55M191.7 281.5h0.55M192.1 290.6h0.55M192.0 302.7h0.55M192.4 293.6h0.55M192.5 302.3h0.55M192.6 284.6h0.55M191.8 283.8h0.55M192.5 280.2h0.55M192.5 307.1h0.55M192.4 307.8h0.55M192.7 298.2h0.55M192.0 309.3h0.55M191.9 296.1h0.55M191.7 291.6h0.55M192.1 287.1h0.55M191.7 295.8h0.55M191.9 285.7h0.55M192.0 303.5h0.55M192.2 296.5h0.55M192.0 296.0h0.55M192.0 292.1h0.55M192.2 294.8h0.55M192.0 294.2h0.55M192.2 290.8h0.55M192.3 286.8h0.55M192.0 300.0h0.55M192.2 301.6h0.55M193.1 291.3h0.55M191.8 295.8h0.55M192.2 305.1h0.55M192.4 283.0h0.55M192.0 295.2h0.55M192.0 294.7h0.55M192.5 306.1h0.55M191.8 293.6h0.55M192.4 285.8h0.55M192.4 308.4h0.55M192.5 306.3h0.55M192.2 285.8h0.55M192.5 283.6h0.55M192.0 292.2h0.55M191.9 280.8h0.55M191.8 280.6h0.55M192.0 290.1h0.55M192.7 285.9h0.55M192.1 299.1h0.55M192.4 306.4h0.55M191.9 298.1h0.55M192.0 281.4h0.55M192.0 298.7h0.55M192.1 286.8h0.55M192.3 291.2h0.55M192.2 311.0h0.55M191.9 287.4h0.55M192.4 280.8h0.55M192.3 288.1h0.55M192.5 310.7h0.55M191.8 286.8h0.55M191.9 306.0h0.55M192.4 304.9h0.55M191.2 303.6h0.55M192.0 282.9h0.55M192.3 280.1h0.55M191.8 291.5h0.55M192.1 288.7h0.55M192.4 310.7h0.55M191.7 295.6h0.55M192.4 286.4h0.55M191.9 290.2h0.55M193.0 289.1h0.55M192.6 291.7h0.55M192.1 296.7h0.55M192.0 306.4h0.55M192.0 309.8h0.55M191.9 284.8h0.55M192.0 293.9h0.55M191.6 304.6h0.55M192.2 291.6h0.55M192.7 286.7h0.55M191.8 301.0h0.55M192.4 286.4h0.55M192.2 301.8h0.55M192.0 284.1h0.55M192.0 296.0h0.55M191.7 284.2h0.55M192.0 284.5h0.55M191.7 296.7h0.55M192.3 297.9h0.55M191.7 305.6h0.55M191.3 291.5h0.55M192.1 305.4h0.55M193.0 299.1h0.55M192.2 310.0h0.55M192.5 306.6h0.55M192.9 296.2h0.55M192.5 293.4h0.55M192.4 296.4h0.55M192.2 307.9h0.55M192.3 290.5h0.55M192.3 299.4h0.55M192.1 289.5h0.55M192.9 307.6h0.55M192.3 293.5h0.55M192.4 308.4h0.55M192.9 287.3h0.55M191.7 296.8h0.55M192.1 284.2h0.55M192.0 304.4h0.55M192.1 310.0h0.55M192.2 306.1h0.55M192.2 292.4h0.55M191.9 309.8h0.55M192.8 295.6h0.55M192.4 303.0h0.55M191.9 286.8h0.55M191.8 300.5h0.55M192.5 284.7h0.55M192.3 295.6h0.55M191.8 302.7h0.55M192.1 283.2h0.55M191.9 295.1h0.55M192.2 286.8h0.55M192.2 305.2h0.55M191.8 296.9h0.55M192.2 283.7h0.55M192.3 306.4h0.55M191.7 305.4h0.55M192.3 309.6h0.55M192.0 292.8h0.55M192.4 286.7h0.55M192.4 284.9h0.55M191.8 285.9h0.55M191.5 293.6h0.55M192.4 280.5h0.55M192.3 280.9h0.55M192.3 297.0h0.55M192.2 289.3h0.55M192.0 297.6h0.55M192.7 295.0h0.55M192.5 301.6h0.55M192.7 303.0h0.55M192.5 307.0h0.55M192.2 282.7h0.55M192.2 295.3h0.55M191.8 294.6h0.55M192.4 302.5h0.55M192.1 280.3h0.55M192.4 300.9h0.55M192.8 286.6h0.55M192.5 292.7h0.55M193.0 289.9h0.55M191.9 296.0h0.55M192.4 303.6h0.55M191.6 285.8h0.55M192.0 292.4h0.55M192.0 294.2h0.55M192.3 297.2h0.55M192.9 291.0h0.55M191.9 280.2h0.55M192.0 306.2h0.55M192.1 289.0h0.55M191.9 286.1h0.55M192.6 300.4h0.55M191.9 290.0h0.55M192.1 283.8h0.55M192.0 304.8h0.55M192.6 305.3h0.55M192.3 282.1h0.55M192.1 302.5h0.55M191.8 292.2h0.55M191.9 283.8h0.55M191.9 310.1h0.55M192.5 287.0h0.55M192.4 299.9h0.55M192.2 303.5h0.55M191.5 281.4h0.55M191.6 286.4h0.55M192.4 288.8h0.55M192.9 293.0h0.55M191.9 287.3h0.55M191.5 281.2h0.55M191.7 289.2h0.55M192.3 281.9h0.55M192.2 289.3h0.55M192.5 291.8h0.55M192.3 280.6h0.55M192.4 282.6h0.55M192.6 296.3h0.55M192.2 293.1h0.55M192.8 306.1h0.55M192.5 283.0h0.55M192.3 298.5h0.55M192.0 281.7h0.55M192.1 302.6h0.55M191.9 285.9h0.55M192.1 298.3h0.55M192.7 300.1h0.55M192.2 295.5h0.55M191.6 295.8h0.55M191.6 291.8h0.55M192.9 288.4h0.55M192.5 310.6h0.55M192.0 305.2h0.55M191.8 310.6h0.55M192.8 297.5h0.55M192.2 285.7h0.55M191.7 286.1h0.55M192.1 282.9h0.55M191.9 294.5h0.55M192.5 281.8h0.55M191.9 292.2h0.55M192.2 301.3h0.55M191.8 292.4h0.55M193.1 285.7h0.55M192.6 304.1h0.55M192.2 306.4h0.55M192.8 302.0h0.55M192.1 307.6h0.55M192.1 294.9h0.55M192.6 304.4h0.55M192.3 300.9h0.55M192.3 297.8h0.55M192.5 283.5h0.55M192.4 286.8h0.55M192.1 306.5h0.55M192.6 292.3h0.55M192.9 291.8h0.55M193.1 291.6h0.55M192.2 287.1h0.55M192.1 282.8h0.55M192.2 295.8h0.55M191.5 310.5h0.55M192.7 307.8h0.55M192.0 280.3h0.55M191.6 301.4h0.55M191.9 284.7h0.55M192.4 292.7h0.55M192.3 297.5h0.55M192.8 298.4h0.55M191.8 298.0h0.55M192.5 291.6h0.55M192.7 301.8h0.55M192.8 300.4h0.55M191.6 293.9h0.55M192.6 290.0h0.55M192.2 305.4h0.55M192.3 307.8h0.55M191.8 295.7h0.55M191.6 311.0h0.55M192.6 300.1h0.55M192.5 285.5h0.55M191.8 280.6h0.55M191.6 309.8h0.55M192.0 304.1h0.55M191.8 289.5h0.55M191.9 300.0h0.55M192.4 298.8h0.55M192.4 290.4h0.55M191.6 281.9h0.55M192.9 301.5h0.55M192.2 298.1h0.55M192.2 292.2h0.55M191.9 282.0h0.55M192.1 295.3h0.55M192.3 302.4h0.55M191.6 283.3h0.55M192.2 310.5h0.55M192.1 307.1h0.55M192.5 308.1h0.55M191.9 287.6h0.55M192.2 288.9h0.55M191.4 290.2h0.55M192.6 297.4h0.55M192.6 310.8h0.55M192.1 296.6h0.55M191.7 299.4h0.55M192.0 296.0h0.55M191.9 280.8h0.55M192.2 281.8h0.55M192.3 299.9h0.55M192.3 292.1h0.55M192.0 296.3h0.55M192.8 298.1h0.55M192.2 309.8h0.55M191.8 292.3h0.55M184.8 307.3h0.55M194.4 312.2h0.55M182.3 303.5h0.55M189.9 312.2h0.55M184.6 310.9h0.55M188.4 307.1h0.55M196.8 300.8h0.55M187.3 302.0h0.55M184.1 303.9h0.55M193.2 307.5h0.55M183.9 310.4h0.55M190.1 301.9h0.55M195.1 310.7h0.55M185.5 312.2h0.55M195.0 303.0h0.55M182.0 311.3h0.55M195.2 301.3h0.55M194.3 310.1h0.55M192.1 310.8h0.55M197.8 304.3h0.55M217.8 295.2h0.55M214.3 308.6h0.55M213.9 295.9h0.55M214.0 301.7h0.55M215.5 308.0h0.55M218.1 309.0h0.55M216.6 301.1h0.55M214.5 297.3h0.55M218.0 307.8h0.55M215.7 299.6h0.55M216.8 304.9h0.55M215.8 298.6h0.55M216.0 300.8h0.55M217.0 305.3h0.55M216.4 301.4h0.55M218.5 306.0h0.55M218.0 306.2h0.55M216.8 304.5h0.55M213.4 296.0h0.55M213.7 305.4h0.55M217.3 303.7h0.55M215.7 310.0h0.55M214.7 296.2h0.55M212.5 301.8h0.55M216.9 305.8h0.55M215.1 306.1h0.55M215.4 300.2h0.55M214.8 305.9h0.55M217.4 298.7h0.55M213.6 303.5h0.55M219.7 298.5h0.55M213.0 304.6h0.55M216.5 300.7h0.55M215.4 304.9h0.55M212.1 302.9h0.55M216.7 306.5h0.55M217.8 302.7h0.55M212.7 308.2h0.55M217.0 300.6h0.55M217.5 307.0h0.55M215.2 294.0h0.55M214.6 300.1h0.55M213.9 302.7h0.55M213.4 304.5h0.55M219.2 298.4h0.55M217.5 301.0h0.55M216.6 302.5h0.55M218.0 300.3h0.55M216.9 300.0h0.55M215.9 302.9h0.55M217.6 297.0h0.55M212.9 308.3h0.55M216.3 309.5h0.55M213.5 303.8h0.55M216.7 309.8h0.55M215.4 301.3h0.55M216.9 302.6h0.55M214.0 305.9h0.55M211.8 299.1h0.55M218.2 301.1h0.55M214.9 304.4h0.55M217.7 305.0h0.55M213.6 300.8h0.55M217.6 302.5h0.55M214.3 306.4h0.55M217.7 311.3h0.55M213.4 300.3h0.55M214.1 304.4h0.55M214.6 307.3h0.55M210.2 306.7h0.55" fill="none" stroke="#111" stroke-width="0.55" stroke-opacity="0.6"/>
<path d="M191.6,279.5 L192.6,279.5 L193.3,311 L191.2,311 Z" fill="#111" stroke="none" stroke-width="1"/>
<rect x="180.8" y="266.5" width="47.7" height="47.7" fill="none" stroke="#b8b8b8" stroke-width="0.6"/>
<path d="M180.8,306.25h1.2M180.8,298.3h1.2M180.8,290.35h1.2M180.8,282.4h1.2M180.8,274.45h1.2M186.76,314.2v-1.2M192.73,314.2v-1.2M198.69,314.2v-1.2M204.65,314.2v-1.2M210.61,314.2v-1.2M216.57,314.2v-1.2M222.54,314.2v-1.2" fill="none" stroke="#888" stroke-width="0.5"/>
<rect x="186.5" y="277.8" width="13.8" height="35.4" fill="none" stroke="#cc4458" stroke-width="1.05"/>
<rect x="207.7" y="283.5" width="15.7" height="29.7" fill="none" stroke="#cc4458" stroke-width="1.05"/>
<path d="M200.3,277.8 L200.3,270.4 L236.1,270.4" fill="none" stroke="#cc4458" stroke-width="0.9"/>
<path d="M235.4,268.7 L238.6,270.4 L235.4,272.1 Z" fill="#cc4458" stroke="none" stroke-width="1"/>
<text x="177" y="291.5" font-size="7.3" text-anchor="middle" textLength="10.2" lengthAdjust="spacingAndGlyphs" transform="rotate(-90 177 291.5)">SSC</text>
<text x="204.3" y="322.8" font-size="7.3" text-anchor="middle" textLength="13.1" lengthAdjust="spacingAndGlyphs">FITC</text>
<text x="204.3" y="281.3" font-size="7.2" textLength="21.1" lengthAdjust="spacingAndGlyphs">5TGM1</text>
<path d="M259.2 277.9h0.55M266.3 278.0h0.55M257.1 282.4h0.55M266.4 276.3h0.55M264.2 275.2h0.55M255.8 278.4h0.55M265.1 277.9h0.55M258.5 275.5h0.55M253.2 283.2h0.55M265.2 275.8h0.55M270.0 278.2h0.55M260.6 276.9h0.55M269.7 277.8h0.55M272.6 277.4h0.55M259.6 277.1h0.55M258.9 279.2h0.55M264.5 279.2h0.55M265.6 275.1h0.55M261.8 276.0h0.55M265.8 274.5h0.55M259.6 276.5h0.55M259.4 277.9h0.55M271.8 276.1h0.55M254.6 278.6h0.55M267.4 278.6h0.55M264.4 282.4h0.55M269.5 277.2h0.55M270.1 273.8h0.55M262.0 276.1h0.55M264.0 281.6h0.55M260.1 282.2h0.55M257.0 282.2h0.55M253.1 277.5h0.55M268.8 276.9h0.55M263.8 277.8h0.55M264.1 277.4h0.55M257.3 278.2h0.55M263.6 275.8h0.55M265.7 281.7h0.55M253.4 278.2h0.55M261.4 278.3h0.55M263.6 276.2h0.55M262.8 278.0h0.55M262.5 281.7h0.55M263.8 274.4h0.55M253.9 280.8h0.55M261.0 276.9h0.55M255.1 278.5h0.55M262.5 276.5h0.55M261.0 280.4h0.55M267.6 278.6h0.55M262.0 275.0h0.55M267.5 280.8h0.55M270.4 279.6h0.55M264.6 278.6h0.55M262.9 280.9h0.55M261.4 283.3h0.55M267.5 276.6h0.55M263.0 274.2h0.55M258.7 277.9h0.55M277.3 273.9h0.55M268.4 277.4h0.55M261.3 279.7h0.55M251.4 282.0h0.55M274.3 277.0h0.55M262.6 278.4h0.55M266.9 276.3h0.55M263.7 279.1h0.55M261.0 279.2h0.55M264.9 279.4h0.55M257.3 277.6h0.55M260.5 281.2h0.55M264.5 273.9h0.55M255.6 283.7h0.55M265.0 274.7h0.55M257.7 279.1h0.55M271.3 280.5h0.55M260.9 277.6h0.55M274.2 274.0h0.55M272.1 277.4h0.55M263.6 280.9h0.55M265.8 275.6h0.55M254.1 279.4h0.55M266.0 280.7h0.55M266.6 281.0h0.55M267.6 277.8h0.55M265.5 278.6h0.55M259.3 278.3h0.55M263.7 276.8h0.55M254.5 275.9h0.55M265.9 278.8h0.55M263.6 275.2h0.55M268.0 276.3h0.55M250.9 283.5h0.55M254.3 284.6h0.55M266.1 276.5h0.55M249.3 278.4h0.55M271.6 279.9h0.55M264.5 273.8h0.55M260.8 277.7h0.55M265.7 277.3h0.55M265.0 273.9h0.55M259.3 281.9h0.55M254.5 281.4h0.55M276.5 277.5h0.55M254.9 282.1h0.55M252.2 280.4h0.55M260.6 281.3h0.55M269.9 277.4h0.55M273.4 278.7h0.55M260.2 276.1h0.55M277.3 274.9h0.55M265.4 277.4h0.55M260.2 274.7h0.55M262.2 277.9h0.55M268.7 275.9h0.55M253.9 276.9h0.55M262.8 278.6h0.55M267.2 276.5h0.55M266.1 277.9h0.55M272.8 276.4h0.55M263.8 279.2h0.55M270.1 274.8h0.55M260.2 277.8h0.55M250.6 282.9h0.55M269.3 277.1h0.55M282.6 278.0h0.55M274.8 279.9h0.55M268.3 273.9h0.55M271.9 277.6h0.55M256.0 279.2h0.55M267.4 279.6h0.55M264.0 276.6h0.55M267.5 275.5h0.55M262.6 279.9h0.55M254.6 280.2h0.55M251.6 277.6h0.55M255.8 278.9h0.55M267.2 277.2h0.55M268.3 277.4h0.55M261.8 279.3h0.55M261.6 278.5h0.55M269.1 275.7h0.55M269.7 274.4h0.55M261.7 274.1h0.55M259.9 282.2h0.55M265.1 280.7h0.55M254.4 276.9h0.55M265.7 279.5h0.55M267.9 273.3h0.55M266.0 277.4h0.55M263.7 279.0h0.55M261.4 274.3h0.55M256.8 275.5h0.55M255.3 278.9h0.55M270.6 275.2h0.55M258.5 276.0h0.55M252.9 279.7h0.55M260.2 277.9h0.55M257.4 280.0h0.55M256.0 280.4h0.55M259.1 280.4h0.55M257.8 279.8h0.55M265.6 277.4h0.55M272.5 277.0h0.55M257.8 280.4h0.55M258.2 277.5h0.55M263.1 278.4h0.55M273.0 272.4h0.55M261.5 280.9h0.55M262.1 278.9h0.55M271.9 273.8h0.55M263.3 279.8h0.55M259.6 274.4h0.55M257.2 279.3h0.55M264.1 282.2h0.55M270.8 273.2h0.55M269.1 279.2h0.55M272.5 276.2h0.55M259.7 278.8h0.55M272.0 278.1h0.55M272.9 278.3h0.55M259.6 276.1h0.55M273.8 272.8h0.55M261.0 277.6h0.55M257.7 277.5h0.55M263.0 283.6h0.55M262.6 276.8h0.55M263.7 280.1h0.55M258.2 277.8h0.55M252.8 281.2h0.55M267.0 280.9h0.55M256.0 284.2h0.55M268.1 276.6h0.55M260.7 277.6h0.55M255.9 280.9h0.55M259.4 276.8h0.55M266.0 277.8h0.55M259.6 278.0h0.55M260.1 281.6h0.55M268.9 275.4h0.55M262.8 281.3h0.55M261.3 282.5h0.55M265.6 279.2h0.55M250.9 281.8h0.55M265.0 279.1h0.55M265.8 278.8h0.55M260.0 280.6h0.55M263.4 275.5h0.55M257.0 279.3h0.55M265.0 272.5h0.55M250.9 282.3h0.55M262.9 284.7h0.55M254.0 278.8h0.55M259.5 279.8h0.55M271.2 280.6h0.55M257.1 281.8h0.55M255.9 279.8h0.55M264.0 279.3h0.55M258.3 281.9h0.55M262.6 278.0h0.55M261.4 275.7h0.55M267.2 278.2h0.55M265.7 282.0h0.55M257.9 278.1h0.55M263.0 280.0h0.55M262.0 280.4h0.55M265.7 273.4h0.55M259.0 273.8h0.55M261.3 277.3h0.55M266.5 277.9h0.55M262.6 281.0h0.55M266.5 274.6h0.55M259.0 279.4h0.55M273.0 276.0h0.55M262.0 278.8h0.55M267.6 277.1h0.55M264.7 276.7h0.55M259.8 276.6h0.55M266.9 276.1h0.55M266.2 278.5h0.55M268.7 270.8h0.55M257.3 276.0h0.55M262.0 280.0h0.55M277.8 279.4h0.55M271.0 277.7h0.55M260.7 279.6h0.55M250.2 282.1h0.55M263.1 279.5h0.55M257.0 276.3h0.55M259.2 278.5h0.55M265.0 276.9h0.55M265.0 279.3h0.55M256.2 278.8h0.55M253.9 278.1h0.55M268.3 275.5h0.55M273.9 277.5h0.55M268.2 277.5h0.55M268.1 279.8h0.55M263.6 276.7h0.55M259.8 283.1h0.55M261.9 277.1h0.55M258.9 274.6h0.55M260.1 279.2h0.55M260.2 276.6h0.55M265.4 278.7h0.55M260.4 279.1h0.55M257.3 280.9h0.55M257.2 278.1h0.55M263.8 276.9h0.55M256.3 284.0h0.55M271.9 272.5h0.55M263.7 274.9h0.55M264.8 274.6h0.55M266.4 278.7h0.55M273.0 279.3h0.55M260.3 280.6h0.55M260.3 278.1h0.55M260.1 274.3h0.55M266.5 272.6h0.55M261.6 279.5h0.55M263.7 274.2h0.55M259.2 280.2h0.55M269.4 280.8h0.55M252.4 280.7h0.55M260.2 280.2h0.55M253.1 279.2h0.55M267.1 275.8h0.55M260.9 276.0h0.55M269.5 273.9h0.55M257.6 278.0h0.55M261.1 283.3h0.55M264.6 275.8h0.55M266.4 278.3h0.55M264.7 277.6h0.55M265.7 274.8h0.55M256.0 278.1h0.55M256.5 280.6h0.55M274.4 279.2h0.55M265.6 278.4h0.55M259.0 275.5h0.55M266.2 274.0h0.55M264.8 277.4h0.55M267.4 277.5h0.55M263.6 276.5h0.55M252.9 278.7h0.55M267.1 279.9h0.55M271.1 274.4h0.55M257.5 280.5h0.55M260.3 284.5h0.55M264.8 274.1h0.55M259.7 282.2h0.55M252.3 280.0h0.55M254.9 283.0h0.55M260.4 276.0h0.55M253.0 277.8h0.55M275.8 276.3h0.55M261.4 275.5h0.55M265.0 276.6h0.55M258.0 282.0h0.55M265.6 275.5h0.55M271.7 276.6h0.55M266.0 277.9h0.55M269.9 278.4h0.55M261.0 280.0h0.55M260.7 278.7h0.55M272.6 274.0h0.55M256.9 278.0h0.55M260.1 281.5h0.55M253.7 284.9h0.55M272.3 275.5h0.55M264.1 277.0h0.55M266.9 279.0h0.55M267.4 279.1h0.55M274.3 275.9h0.55M267.1 276.9h0.55M263.2 278.5h0.55M262.7 278.9h0.55M258.0 278.4h0.55M259.5 275.8h0.55M258.9 277.4h0.55M262.1 274.4h0.55M261.5 275.5h0.55M258.2 279.2h0.55M269.5 277.7h0.55M260.1 277.4h0.55M270.9 273.0h0.55M269.7 273.4h0.55M259.3 278.7h0.55M261.7 282.1h0.55M265.9 277.4h0.55M268.6 277.2h0.55M258.3 281.4h0.55M271.8 279.7h0.55M256.1 283.6h0.55M260.6 280.2h0.55M270.0 282.6h0.55M253.5 277.0h0.55M269.9 278.1h0.55M261.2 271.3h0.55M265.6 277.2h0.55M248.3 278.9h0.55M263.0 278.6h0.55M267.4 276.7h0.55M257.7 277.9h0.55M250.6 277.2h0.55M274.6 274.6h0.55M262.5 282.6h0.55M269.2 277.4h0.55M267.3 276.7h0.55M257.7 281.2h0.55M263.8 281.7h0.55M261.5 277.3h0.55M265.0 277.2h0.55M261.2 276.1h0.55M264.5 278.5h0.55M273.8 276.3h0.55M252.7 280.7h0.55M276.5 274.9h0.55M258.3 278.3h0.55M261.9 274.6h0.55M266.4 275.4h0.55M252.1 277.9h0.55M266.7 282.0h0.55M270.4 277.3h0.55M260.0 277.8h0.55M268.7 275.9h0.55M265.5 279.9h0.55M257.7 277.4h0.55M265.6 277.6h0.55M262.3 276.9h0.55M262.6 282.5h0.55M271.0 272.9h0.55M263.3 278.2h0.55M263.2 274.7h0.55M262.2 278.5h0.55M259.0 279.4h0.55M248.7 276.6h0.55M263.6 278.8h0.55M262.0 277.1h0.55M264.1 280.4h0.55M268.3 277.0h0.55M260.3 280.9h0.55M266.2 279.6h0.55M261.4 276.2h0.55M264.1 276.3h0.55M269.8 279.0h0.55M250.2 281.5h0.55M270.8 279.3h0.55M260.2 276.4h0.55M268.7 279.6h0.55M263.4 275.2h0.55M254.0 280.0h0.55M258.1 277.1h0.55M265.6 280.1h0.55M250.8 278.2h0.55M270.7 276.7h0.55M261.0 279.8h0.55M256.3 276.1h0.55M263.1 281.7h0.55M269.0 277.1h0.55M269.0 276.1h0.55M256.1 275.1h0.55M264.6 279.9h0.55M265.2 277.6h0.55M260.6 281.0h0.55M262.7 274.6h0.55M271.1 275.2h0.55M265.3 277.7h0.55M269.2 277.6h0.55M270.2 277.4h0.55M260.3 277.2h0.55M266.8 275.4h0.55M268.5 276.6h0.55M257.5 276.7h0.55M262.1 282.4h0.55M267.5 277.4h0.55M257.7 283.4h0.55M261.4 278.2h0.55M260.5 281.6h0.55M264.0 276.8h0.55M264.1 275.5h0.55M256.8 278.6h0.55M274.7 273.6h0.55M262.2 274.4h0.55M264.0 278.4h0.55M267.4 274.2h0.55M259.5 277.0h0.55M261.6 283.7h0.55M261.8 278.1h0.55M260.0 280.4h0.55M278.1 278.5h0.55M272.0 274.1h0.55M269.2 277.1h0.55M270.4 279.4h0.55M266.9 273.4h0.55M263.8 276.7h0.55M265.6 277.7h0.55M269.2 273.2h0.55M258.6 278.5h0.55M264.9 276.7h0.55M262.8 278.2h0.55M269.2 276.8h0.55M264.4 273.4h0.55M265.1 272.2h0.55M265.4 277.4h0.55M263.0 276.3h0.55M260.5 280.4h0.55M265.1 277.6h0.55M260.1 278.9h0.55M270.0 276.9h0.55M260.8 275.5h0.55M263.6 275.7h0.55M254.5 281.4h0.55M259.3 273.7h0.55M258.8 283.0h0.55M262.4 274.9h0.55M256.5 280.7h0.55M265.4 278.1h0.55M261.8 279.3h0.55M272.1 277.8h0.55M262.0 274.8h0.55M265.6 281.4h0.55M266.8 274.4h0.55M264.1 280.9h0.55M259.3 279.8h0.55M270.1 280.8h0.55M253.6 275.2h0.55M265.2 279.3h0.55M260.9 278.3h0.55M260.6 281.2h0.55M249.9 280.6h0.55M255.4 277.5h0.55M253.9 277.2h0.55M262.9 278.1h0.55M273.6 275.9h0.55M265.0 278.5h0.55M264.5 281.3h0.55M263.8 278.2h0.55M262.3 278.1h0.55M262.7 280.4h0.55M263.1 278.1h0.55M262.7 279.9h0.55M260.2 280.7h0.55M259.6 280.2h0.55M274.4 276.8h0.55M262.5 275.2h0.55M267.4 277.4h0.55M268.4 275.6h0.55M266.1 281.9h0.55M265.4 276.9h0.55M255.3 279.1h0.55M266.9 278.8h0.55M256.4 276.5h0.55M257.2 276.4h0.55M261.4 278.9h0.55M274.4 276.7h0.55M271.6 272.7h0.55M272.1 278.5h0.55M265.6 279.6h0.55M266.7 282.0h0.55M267.8 273.1h0.55M252.7 283.4h0.55M262.5 281.3h0.55M261.0 276.7h0.55M261.0 279.1h0.55M264.1 276.3h0.55M266.2 279.0h0.55M257.6 276.1h0.55M251.4 279.0h0.55M263.1 276.3h0.55M259.4 278.2h0.55M263.2 279.3h0.55M267.9 278.3h0.55M269.6 274.7h0.55M266.6 278.4h0.55M256.8 277.3h0.55M265.6 277.8h0.55M255.6 277.8h0.55M272.0 278.7h0.55M263.5 281.2h0.55M257.6 278.4h0.55M268.7 276.3h0.55M256.4 280.4h0.55M272.5 270.5h0.55M263.9 274.9h0.55M261.2 274.9h0.55M278.4 274.0h0.55M263.3 276.3h0.55M257.1 277.8h0.55M264.2 282.0h0.55M264.7 281.5h0.55M256.7 279.1h0.55M260.4 274.6h0.55M285.1 274.1h0.55M264.4 276.0h0.55M259.6 276.0h0.55M269.1 276.1h0.55M262.1 278.6h0.55M255.7 279.7h0.55M262.0 279.2h0.55M260.7 278.4h0.55M266.1 279.9h0.55M258.9 281.0h0.55M257.2 278.4h0.55M263.8 278.2h0.55M261.9 280.4h0.55M258.8 282.3h0.55M252.3 279.8h0.55M266.2 277.6h0.55M264.6 280.0h0.55M258.2 280.1h0.55M269.3 276.5h0.55M249.3 277.2h0.55M257.9 276.2h0.55M265.6 275.7h0.55M277.7 277.1h0.55M255.3 278.5h0.55M272.1 278.3h0.55M257.0 281.4h0.55M260.2 283.8h0.55M259.7 279.9h0.55M266.3 276.4h0.55M262.1 280.9h0.55M266.0 277.4h0.55M265.6 281.8h0.55M268.5 278.3h0.55M265.0 273.9h0.55M263.8 276.7h0.55M267.3 275.9h0.55M265.7 275.1h0.55M268.3 275.4h0.55M262.8 279.4h0.55M261.1 278.3h0.55M269.3 281.3h0.55M252.3 277.5h0.55M267.0 279.7h0.55M260.2 278.7h0.55M261.9 283.7h0.55M261.8 275.3h0.55M253.8 276.3h0.55M270.7 275.9h0.55M274.6 277.8h0.55M265.3 279.2h0.55M267.7 279.5h0.55M257.2 277.5h0.55M259.8 278.7h0.55M261.5 275.3h0.55M258.9 282.9h0.55M275.6 274.0h0.55M265.3 277.6h0.55M258.0 280.5h0.55M262.6 282.1h0.55M265.7 276.8h0.55M268.0 275.5h0.55M268.2 278.8h0.55M252.5 279.1h0.55M264.9 279.5h0.55M263.9 277.8h0.55M260.9 277.6h0.55M263.0 275.4h0.55M266.8 276.6h0.55M266.1 276.3h0.55M265.4 277.9h0.55M268.3 278.3h0.55M268.5 276.8h0.55M262.7 277.4h0.55M255.6 278.8h0.55M269.5 278.9h0.55M258.0 279.5h0.55M267.5 274.1h0.55M265.1 278.5h0.55M267.4 277.9h0.55M252.7 274.7h0.55M274.8 275.3h0.55M270.5 279.9h0.55M263.5 275.2h0.55M271.1 276.7h0.55M266.1 278.7h0.55M268.7 279.6h0.55M254.6 275.9h0.55M263.8 277.9h0.55M254.3 300.4h0.55M252.1 310.0h0.55M255.8 306.1h0.55M255.0 297.5h0.55M252.3 300.7h0.55M249.9 297.1h0.55M252.9 295.6h0.55M253.8 303.1h0.55M251.9 299.5h0.55M253.9 303.1h0.55M253.4 295.6h0.55M248.7 310.1h0.55M251.0 299.4h0.55M250.8 304.5h0.55M251.5 298.8h0.55M250.7 299.0h0.55M248.8 302.2h0.55M255.3 301.7h0.55M251.2 306.6h0.55M253.7 296.4h0.55M251.1 298.3h0.55M252.4 306.4h0.55M250.8 300.4h0.55M252.8 295.7h0.55M251.4 303.7h0.55M255.2 292.7h0.55M254.2 299.7h0.55M255.6 303.8h0.55M257.2 302.4h0.55M251.6 297.3h0.55M249.1 303.5h0.55M253.7 304.6h0.55M253.3 294.4h0.55M251.5 299.9h0.55M252.9 304.4h0.55M255.9 302.3h0.55M249.7 302.1h0.55M252.0 305.9h0.55M255.1 299.0h0.55M254.7 301.1h0.55M253.6 307.0h0.55M249.8 300.7h0.55M256.1 297.6h0.55M253.0 301.6h0.55M251.5 295.2h0.55M250.9 296.7h0.55M255.1 302.1h0.55M254.2 295.8h0.55M253.7 301.6h0.55M255.0 297.8h0.55M254.4 307.1h0.55M256.8 296.9h0.55M249.8 294.5h0.55M254.8 303.6h0.55M253.3 297.2h0.55M255.5 308.1h0.55M252.4 300.5h0.55M255.3 303.2h0.55M255.7 299.2h0.55M253.3 299.5h0.55M251.2 299.7h0.55M251.8 303.2h0.55M251.8 301.3h0.55M250.6 295.6h0.55M255.9 296.7h0.55M256.8 305.1h0.55M251.5 301.1h0.55M252.1 298.3h0.55M255.5 300.4h0.55M254.8 298.0h0.55M250.9 306.9h0.55M251.8 296.2h0.55M252.1 305.6h0.55M252.1 297.8h0.55M254.0 305.3h0.55M252.0 299.6h0.55M251.6 312.9h0.55M252.1 308.7h0.55M252.2 302.8h0.55M252.6 299.6h0.55M251.5 295.0h0.55M249.0 301.7h0.55M251.0 300.6h0.55M252.1 298.8h0.55M250.8 309.2h0.55M249.9 298.8h0.55M251.8 295.9h0.55M250.2 304.8h0.55M254.7 301.6h0.55M260.2 304.6h0.55M255.4 297.4h0.55M255.1 308.4h0.55M251.6 309.0h0.55M250.6 296.0h0.55M252.4 297.5h0.55M254.0 296.1h0.55M252.7 292.4h0.55M252.4 305.6h0.55M251.9 302.4h0.55M255.1 296.2h0.55M249.5 301.4h0.55M253.2 299.8h0.55M250.2 306.3h0.55M249.8 299.9h0.55M252.4 304.2h0.55M251.4 297.4h0.55M257.3 297.3h0.55M254.4 300.3h0.55M251.4 300.8h0.55M251.9 302.4h0.55M252.7 296.7h0.55M251.6 311.3h0.55M256.9 303.8h0.55M253.1 299.7h0.55M255.8 299.0h0.55M250.6 304.0h0.55M250.2 297.5h0.55M255.9 293.9h0.55M252.4 301.5h0.55M253.1 294.6h0.55M252.0 299.5h0.55M257.1 305.4h0.55M250.7 304.8h0.55M254.1 300.5h0.55M251.9 299.8h0.55M248.9 298.2h0.55M254.7 307.4h0.55M256.9 299.4h0.55M254.0 290.4h0.55M251.9 295.5h0.55M254.5 293.7h0.55M250.0 296.1h0.55M253.4 304.7h0.55M250.3 308.9h0.55M252.9 297.3h0.55M253.3 300.9h0.55M254.5 302.5h0.55M257.7 306.1h0.55M251.0 304.5h0.55M254.3 296.6h0.55M250.7 297.5h0.55M252.0 306.4h0.55M251.2 301.3h0.55M254.2 305.3h0.55M253.3 296.4h0.55M257.7 304.8h0.55M255.7 308.1h0.55M255.8 302.8h0.55M253.6 303.8h0.55M249.0 304.6h0.55M250.2 302.9h0.55M250.1 304.1h0.55M251.4 311.9h0.55M253.0 303.2h0.55M250.4 299.7h0.55M252.4 299.7h0.55M251.5 297.2h0.55M254.3 299.3h0.55M250.6 302.6h0.55M250.6 300.2h0.55M251.3 296.9h0.55M252.0 297.4h0.55M249.6 302.5h0.55M251.8 294.6h0.55M251.6 301.8h0.55M253.5 302.6h0.55M253.1 303.6h0.55M251.3 297.5h0.55M254.0 299.2h0.55M252.5 303.9h0.55M254.7 306.4h0.55M250.9 299.4h0.55M253.8 294.7h0.55M249.5 303.7h0.55M251.1 297.0h0.55M254.4 303.3h0.55M254.7 299.6h0.55M251.8 299.5h0.55M253.2 292.1h0.55M250.9 304.1h0.55M250.7 300.7h0.55M252.8 303.3h0.55M251.4 296.0h0.55M258.4 297.9h0.55M256.6 293.3h0.55M252.8 300.1h0.55M257.0 309.9h0.55M254.8 296.6h0.55M250.6 297.7h0.55M251.3 302.1h0.55M250.7 299.9h0.55M256.0 307.3h0.55M251.6 306.7h0.55M251.7 309.4h0.55M253.4 307.3h0.55M250.5 299.6h0.55M254.9 303.5h0.55M252.9 303.8h0.55M251.0 308.6h0.55M252.9 307.3h0.55M253.5 301.4h0.55M251.8 295.9h0.55M254.6 304.3h0.55M254.7 299.4h0.55M250.2 299.4h0.55M251.8 301.0h0.55M254.8 297.0h0.55M251.4 304.0h0.55M254.7 310.7h0.55M253.8 297.3h0.55M250.1 297.6h0.55M252.7 302.1h0.55M252.4 298.3h0.55M252.1 300.7h0.55M253.9 301.4h0.55M250.6 295.9h0.55M256.0 300.6h0.55M252.1 300.9h0.55M255.2 299.6h0.55M252.9 300.0h0.55M253.9 296.6h0.55M253.0 305.5h0.55M255.3 303.7h0.55M253.2 307.9h0.55M254.2 307.1h0.55M249.7 296.2h0.55M254.4 299.8h0.55M251.5 296.9h0.55M256.0 295.8h0.55M252.8 294.9h0.55M252.1 310.8h0.55M258.3 298.9h0.55M250.2 308.1h0.55M250.5 293.2h0.55M253.3 296.3h0.55M249.1 305.9h0.55M250.8 296.4h0.55M252.9 300.2h0.55M255.2 301.4h0.55M256.3 306.0h0.55M256.7 305.9h0.55M252.7 303.4h0.55M252.6 294.2h0.55M249.8 304.2h0.55M249.5 300.7h0.55M250.1 302.1h0.55M252.1 299.0h0.55M250.5 291.3h0.55M252.7 295.4h0.55M251.8 302.6h0.55M255.0 304.1h0.55M256.0 294.8h0.55M254.1 307.8h0.55M253.5 296.2h0.55M253.5 298.8h0.55M251.0 305.6h0.55M252.1 296.1h0.55M250.9 309.6h0.55M250.6 303.9h0.55M253.0 306.1h0.55M251.9 296.9h0.55M251.0 296.5h0.55M258.6 301.9h0.55M251.8 306.5h0.55M254.1 300.2h0.55M254.0 302.2h0.55M255.2 308.2h0.55M251.8 300.9h0.55M252.1 306.3h0.55M253.4 304.4h0.55M254.6 298.2h0.55M252.8 307.0h0.55M254.7 304.5h0.55M251.9 299.4h0.55M250.5 299.8h0.55M252.4 294.8h0.55M255.3 297.7h0.55M253.1 303.6h0.55M251.2 293.1h0.55M254.8 302.8h0.55M251.9 305.9h0.55M254.6 296.9h0.55M252.4 293.3h0.55M251.9 307.2h0.55M250.6 304.6h0.55M249.0 299.7h0.55M254.7 308.5h0.55M253.6 304.3h0.55M256.6 290.4h0.55M248.5 309.2h0.55M258.3 303.6h0.55M252.7 302.1h0.55M252.6 298.3h0.55M252.5 300.5h0.55M254.1 304.0h0.55M254.8 303.6h0.55M250.3 307.1h0.55M253.3 298.7h0.55M256.9 296.3h0.55M249.8 298.8h0.55M253.5 304.5h0.55M252.8 303.9h0.55M250.9 298.4h0.55M252.8 295.2h0.55M253.0 299.3h0.55M254.1 296.6h0.55M251.3 298.5h0.55M251.7 296.7h0.55M251.9 295.1h0.55M253.8 303.9h0.55M252.5 300.2h0.55M250.5 296.8h0.55M252.0 297.1h0.55M249.8 301.7h0.55M252.5 299.2h0.55M250.6 300.8h0.55M250.9 299.1h0.55M253.0 304.1h0.55M254.3 298.4h0.55M255.4 296.0h0.55M252.1 306.7h0.55M258.1 301.6h0.55M251.7 299.4h0.55M249.7 300.4h0.55M251.6 297.7h0.55M255.3 297.6h0.55M256.5 304.7h0.55M254.0 298.5h0.55M251.4 292.3h0.55M253.2 299.8h0.55M253.4 298.1h0.55M253.7 294.5h0.55M255.0 287.3h0.55M255.5 299.5h0.55M252.2 294.3h0.55M250.2 304.1h0.55M250.8 300.8h0.55M252.2 309.7h0.55M254.6 295.3h0.55M251.4 296.0h0.55M249.3 298.0h0.55M255.1 301.2h0.55M254.1 300.4h0.55M251.6 301.4h0.55M252.4 309.4h0.55M256.7 302.6h0.55M253.9 292.4h0.55M252.3 311.4h0.55M250.7 304.6h0.55M255.4 299.3h0.55M252.0 299.0h0.55M254.4 301.1h0.55M256.0 306.2h0.55M252.5 312.3h0.55M251.8 298.4h0.55M252.0 297.2h0.55M251.6 300.7h0.55M254.6 294.1h0.55M249.3 297.6h0.55M251.8 303.0h0.55M250.7 307.6h0.55M251.3 300.1h0.55M252.7 306.1h0.55M253.2 301.1h0.55M251.3 301.7h0.55M253.5 299.5h0.55M252.5 293.0h0.55M251.3 306.2h0.55M255.8 300.7h0.55M252.1 312.2h0.55M251.6 305.4h0.55M251.1 307.0h0.55M255.2 296.4h0.55M255.5 313.5h0.55M252.0 295.7h0.55M253.2 299.3h0.55M249.1 296.4h0.55M253.1 294.4h0.55M255.0 303.0h0.55M252.1 307.1h0.55M250.4 304.0h0.55M249.4 299.6h0.55M254.0 298.7h0.55M252.3 303.8h0.55M256.1 306.7h0.55M253.6 299.9h0.55M249.2 308.5h0.55M256.9 291.6h0.55M254.5 300.8h0.55M254.2 302.4h0.55M252.1 301.0h0.55M252.4 306.1h0.55M251.9 298.6h0.55M254.0 303.8h0.55M253.5 302.2h0.55M255.9 305.9h0.55M253.0 300.1h0.55M254.1 292.8h0.55M251.3 297.9h0.55M252.9 299.3h0.55M258.2 304.2h0.55M253.5 310.8h0.55M252.5 299.6h0.55M255.4 304.6h0.55M254.7 306.3h0.55M251.7 298.1h0.55M250.9 301.5h0.55M254.8 296.4h0.55M251.3 295.2h0.55M257.1 304.5h0.55M253.0 295.7h0.55M250.1 298.2h0.55M252.6 295.4h0.55M252.0 306.3h0.55M252.6 301.4h0.55M252.2 298.0h0.55M249.3 300.7h0.55M250.2 298.6h0.55M248.8 300.6h0.55M254.6 297.3h0.55M253.3 294.4h0.55M253.9 303.4h0.55M251.6 304.9h0.55M250.5 301.2h0.55M256.4 300.9h0.55M249.9 306.1h0.55M253.8 299.8h0.55M248.3 292.8h0.55M249.0 307.5h0.55M253.2 297.3h0.55M255.2 307.4h0.55M250.6 303.1h0.55M248.7 302.6h0.55M256.7 294.8h0.55M252.7 298.2h0.55M260.9 301.3h0.55M259.6 303.5h0.55M251.9 300.0h0.55M254.6 299.8h0.55M256.2 298.9h0.55M274.2 300.4h0.55M273.8 304.2h0.55M265.5 299.8h0.55M253.0 301.3h0.55M278.7 294.2h0.55M271.2 300.9h0.55M251.7 301.7h0.55M258.6 306.0h0.55M269.4 304.9h0.55M256.7 303.4h0.55M277.3 301.4h0.55M264.2 298.6h0.55M257.9 304.0h0.55M262.3 299.2h0.55M258.2 305.6h0.55M271.6 302.6h0.55M250.4 302.3h0.55M269.5 296.2h0.55M260.0 302.5h0.55M274.9 300.0h0.55M272.9 300.6h0.55M271.2 298.6h0.55M262.9 298.1h0.55M249.6 301.3h0.55M255.7 302.2h0.55M257.0 296.9h0.55M261.8 299.9h0.55M262.1 296.9h0.55M263.4 305.9h0.55M263.3 298.6h0.55M250.5 300.9h0.55M272.3 295.6h0.55M264.0 299.2h0.55M275.6 296.6h0.55M259.6 303.5h0.55M267.8 298.2h0.55M262.1 297.7h0.55M281.5 300.5h0.55M249.9 300.1h0.55M248.8 303.5h0.55M278.3 300.0h0.55M277.4 302.3h0.55M276.1 299.6h0.55M254.9 304.0h0.55M272.8 298.6h0.55M273.3 299.7h0.55M252.3 302.2h0.55M254.7 300.8h0.55M252.6 301.0h0.55M257.3 304.1h0.55M262.8 302.4h0.55M259.7 301.2h0.55M258.8 303.0h0.55M278.6 297.2h0.55M256.8 305.1h0.55M266.3 298.7h0.55M256.7 300.6h0.55M267.0 301.6h0.55M276.0 299.6h0.55M272.4 296.2h0.55M258.2 299.7h0.55M267.8 300.3h0.55M251.1 304.6h0.55M254.2 301.3h0.55M282.6 297.4h0.55M277.1 298.1h0.55M280.2 299.7h0.55M266.8 298.8h0.55M248.6 301.5h0.55M269.8 302.3h0.55M278.5 302.2h0.55M276.5 296.2h0.55M257.9 301.2h0.55M253.0 303.2h0.55M271.0 302.0h0.55M269.9 297.7h0.55M266.1 300.2h0.55M261.2 304.2h0.55M251.0 300.5h0.55M249.9 299.4h0.55M274.1 302.3h0.55M273.5 297.8h0.55M256.0 299.3h0.55M274.9 298.0h0.55M266.3 299.4h0.55M262.9 301.4h0.55M277.7 298.9h0.55M264.7 302.0h0.55M256.6 304.6h0.55M282.5 298.8h0.55M260.6 300.5h0.55M250.4 304.1h0.55M261.0 301.2h0.55M276.0 295.4h0.55M254.7 300.7h0.55M254.0 302.2h0.55M253.1 302.3h0.55M273.6 299.8h0.55M253.8 299.3h0.55M255.3 301.3h0.55M253.5 305.6h0.55M258.4 301.1h0.55M253.1 305.5h0.55M250.2 297.9h0.55M279.3 297.5h0.55M261.8 301.8h0.55M255.4 298.8h0.55M253.7 302.6h0.55M277.0 296.0h0.55M280.8 298.0h0.55M257.8 304.4h0.55M258.6 299.8h0.55M260.6 303.5h0.55M281.8 299.1h0.55M254.1 299.5h0.55M269.0 294.2h0.55M256.2 297.0h0.55M271.1 300.0h0.55M284.2 300.4h0.55M272.5 293.9h0.55M265.0 297.3h0.55M260.7 303.3h0.55M263.8 302.8h0.55M255.7 305.9h0.55M265.4 296.2h0.55M256.5 301.6h0.55M259.5 296.8h0.55M256.3 300.0h0.55M250.5 298.6h0.55M263.3 301.2h0.55M257.8 297.2h0.55M257.4 300.6h0.55M253.2 303.3h0.55M262.3 301.3h0.55M264.8 296.8h0.55M259.6 300.8h0.55M258.6 302.2h0.55M263.2 303.2h0.55M262.0 303.2h0.55M280.0 300.0h0.55M255.4 299.7h0.55M271.3 298.8h0.55M281.4 301.2h0.55M263.0 299.5h0.55M278.7 296.1h0.55M262.8 299.8h0.55M257.8 299.1h0.55M253.2 299.1h0.55M255.5 296.9h0.55M254.4 300.8h0.55M273.0 300.7h0.55M257.8 300.1h0.55M273.2 298.1h0.55M263.0 301.4h0.55M272.5 303.6h0.55M263.7 300.4h0.55M253.2 304.2h0.55M251.8 301.9h0.55M262.2 298.0h0.55M269.0 298.8h0.55M260.7 300.3h0.55M273.2 301.8h0.55M255.3 301.4h0.55M269.1 299.9h0.55M260.0 301.8h0.55M267.1 299.3h0.55M259.0 300.8h0.55M253.7 300.5h0.55M279.7 298.2h0.55M257.3 303.7h0.55M253.2 297.5h0.55M255.1 302.1h0.55M259.7 303.1h0.55M257.0 295.6h0.55M274.5 299.6h0.55M248.3 299.0h0.55M276.6 299.7h0.55M273.9 295.1h0.55M252.8 301.6h0.55M270.4 297.7h0.55M251.6 294.3h0.55M263.4 301.6h0.55M275.7 298.7h0.55M259.2 301.6h0.55M258.2 304.1h0.55M272.3 298.9h0.55M253.5 302.9h0.55M278.9 294.8h0.55M280.7 296.4h0.55M262.5 300.7h0.55M262.6 300.6h0.55M276.8 302.7h0.55M249.0 304.9h0.55M265.4 297.7h0.55M256.6 298.7h0.55M255.3 299.3h0.55M257.7 301.1h0.55M269.2 297.6h0.55M267.2 301.6h0.55M265.6 298.1h0.55M268.6 300.7h0.55M259.3 300.6h0.55M264.4 300.1h0.55M264.2 295.4h0.55M267.9 296.1h0.55M265.0 303.9h0.55M274.4 297.3h0.55M258.5 300.5h0.55M251.9 302.3h0.55M273.6 299.4h0.55M255.2 299.7h0.55M259.4 298.9h0.55M255.4 299.5h0.55M266.1 299.4h0.55M279.8 298.2h0.55M270.5 298.2h0.55M275.8 297.7h0.55M275.0 300.3h0.55M270.7 300.7h0.55M256.4 303.1h0.55M283.8 301.3h0.55M266.7 298.1h0.55M257.6 297.0h0.55M256.3 301.1h0.55M259.0 299.1h0.55M259.0 299.8h0.55M250.1 304.2h0.55M251.7 301.2h0.55M256.0 299.5h0.55M269.8 297.4h0.55M255.6 299.7h0.55M262.5 297.8h0.55M285.6 298.9h0.55M258.9 302.7h0.55M275.2 298.5h0.55M261.7 301.6h0.55M277.7 302.1h0.55M257.1 302.0h0.55M253.3 304.5h0.55M278.8 300.0h0.55M256.4 299.6h0.55M267.9 300.4h0.55M264.0 299.2h0.55M252.6 301.3h0.55M276.1 297.3h0.55M260.9 301.4h0.55M263.7 298.0h0.55M267.1 297.3h0.55M259.9 298.5h0.55M260.8 299.5h0.55M255.4 296.0h0.55M254.6 302.2h0.55M251.3 304.7h0.55M251.9 302.0h0.55M264.5 299.3h0.55M263.5 303.6h0.55M268.0 301.4h0.55M253.4 305.4h0.55M275.7 296.7h0.55M261.9 303.1h0.55M280.9 299.5h0.55M256.7 300.2h0.55M266.8 301.8h0.55M264.1 297.3h0.55M269.6 301.1h0.55M272.9 301.8h0.55M265.6 299.7h0.55M258.3 303.8h0.55M262.0 298.7h0.55M281.4 296.7h0.55M259.6 299.3h0.55M270.7 295.3h0.55M251.5 301.5h0.55M271.0 300.7h0.55M264.3 304.5h0.55M263.2 296.9h0.55M266.7 299.7h0.55M260.3 303.9h0.55M257.3 301.9h0.55M250.8 301.2h0.55M265.3 301.0h0.55M257.0 302.0h0.55M252.5 302.6h0.55M263.9 303.8h0.55M274.2 299.5h0.55M283.0 299.8h0.55M262.7 299.9h0.55M252.8 297.2h0.55M277.9 296.8h0.55M264.3 298.9h0.55M258.4 301.8h0.55M257.0 301.0h0.55M263.5 300.7h0.55M262.8 302.2h0.55M260.3 300.7h0.55M278.7 298.8h0.55M281.4 300.4h0.55M263.3 304.3h0.55M264.6 300.7h0.55M280.8 297.5h0.55M267.2 296.7h0.55M250.8 298.6h0.55M256.1 302.2h0.55M268.7 303.1h0.55M265.5 300.9h0.55M261.5 303.0h0.55M270.0 296.7h0.55M262.7 301.8h0.55M263.9 296.7h0.55M267.6 296.3h0.55M259.0 300.8h0.55M256.1 304.6h0.55M259.7 300.7h0.55M253.0 300.6h0.55M261.5 299.2h0.55M271.0 298.9h0.55M269.0 299.3h0.55M254.4 300.8h0.55M264.3 301.8h0.55M276.0 296.1h0.55M250.2 299.5h0.55M275.7 297.9h0.55M277.6 298.9h0.55M268.8 303.4h0.55M271.8 303.9h0.55M274.3 292.9h0.55M265.3 299.9h0.55M276.9 297.5h0.55M257.6 299.2h0.55M252.6 302.1h0.55M265.9 302.8h0.55M256.9 301.3h0.55M264.4 299.0h0.55M261.1 299.2h0.55M265.6 302.1h0.55M278.9 299.6h0.55M262.1 300.7h0.55M255.9 299.9h0.55M255.6 301.7h0.55M256.4 298.7h0.55M254.4 302.5h0.55M251.3 300.9h0.55M269.5 294.4h0.55M265.8 300.7h0.55M272.6 303.3h0.55M264.5 304.4h0.55M254.8 300.1h0.55M252.1 303.6h0.55M270.7 296.3h0.55M251.8 304.2h0.55M285.2 298.6h0.55M254.0 300.1h0.55M251.1 300.8h0.55M269.4 297.3h0.55M254.8 298.5h0.55M263.6 295.1h0.55M253.4 297.9h0.55M258.8 300.4h0.55M269.7 295.4h0.55M275.9 296.7h0.55M255.2 298.8h0.55M261.7 300.1h0.55M263.9 301.6h0.55M261.2 302.3h0.55M260.5 302.5h0.55M262.6 299.6h0.55M259.7 301.5h0.55M277.0 301.1h0.55M255.3 297.3h0.55M282.2 297.8h0.55M265.3 300.8h0.55M254.4 303.8h0.55M279.8 301.6h0.55M264.2 298.7h0.55M254.0 303.1h0.55M258.7 296.6h0.55M262.1 302.5h0.55M256.4 299.7h0.55M259.3 301.8h0.55M265.4 300.3h0.55M261.1 299.0h0.55M253.0 302.8h0.55M267.8 301.7h0.55M262.3 302.9h0.55M268.7 299.5h0.55M255.6 300.6h0.55M255.7 300.4h0.55M255.7 301.2h0.55M279.9 300.1h0.55M259.0 302.1h0.55M274.6 299.4h0.55M258.6 299.7h0.55M267.7 300.7h0.55M260.7 297.8h0.55M251.4 304.5h0.55M269.9 299.4h0.55M251.7 300.4h0.55M267.4 301.1h0.55M255.4 298.1h0.55M275.2 299.0h0.55M272.0 302.6h0.55M260.8 300.9h0.55M255.5 299.2h0.55M276.6 296.2h0.55M282.9 298.1h0.55M269.8 302.0h0.55M251.8 301.0h0.55M255.9 301.5h0.55M252.1 299.1h0.55M255.2 301.8h0.55M254.8 303.7h0.55M263.0 300.2h0.55M262.1 299.2h0.55M251.1 302.8h0.55M269.7 299.4h0.55M259.8 299.1h0.55M258.3 300.6h0.55M265.8 299.0h0.55M261.4 299.7h0.55M260.2 302.8h0.55M254.4 305.2h0.55M271.3 299.8h0.55M256.2 304.1h0.55M257.5 300.0h0.55M262.2 305.2h0.55M262.9 300.4h0.55M249.9 299.7h0.55M270.1 297.3h0.55M269.8 303.3h0.55M264.4 298.6h0.55M267.4 299.1h0.55M280.4 294.8h0.55M272.2 297.0h0.55M282.6 296.5h0.55M259.0 300.9h0.55M277.7 296.1h0.55M261.2 300.4h0.55M259.2 304.0h0.55M252.1 298.4h0.55M259.9 301.3h0.55M269.4 299.5h0.55M253.2 302.0h0.55M278.7 299.2h0.55M258.9 300.1h0.55M259.7 295.2h0.55M253.1 302.9h0.55M256.9 302.0h0.55M271.2 302.7h0.55M272.7 298.7h0.55M267.5 297.8h0.55M259.1 302.0h0.55M260.4 302.6h0.55M263.2 303.8h0.55M272.9 298.7h0.55M259.6 299.9h0.55M260.3 298.2h0.55M263.2 301.7h0.55M251.0 300.2h0.55M276.5 303.4h0.55M271.6 298.5h0.55M264.9 302.0h0.55M260.9 302.6h0.55M254.6 301.6h0.55M256.9 300.6h0.55M276.4 299.6h0.55M264.9 302.6h0.55M254.1 298.2h0.55M268.5 300.3h0.55M269.4 302.0h0.55M269.3 298.8h0.55M268.7 297.7h0.55M261.9 302.7h0.55M264.2 298.0h0.55M263.7 299.8h0.55M260.0 300.7h0.55M279.5 298.4h0.55M250.2 301.9h0.55M259.5 299.5h0.55M279.4 299.9h0.55M273.6 302.5h0.55M253.0 302.8h0.55M259.7 297.0h0.55M277.3 298.9h0.55M260.0 298.2h0.55M283.8 298.0h0.55M255.1 302.0h0.55M259.1 299.2h0.55M269.4 301.5h0.55M257.0 299.5h0.55M269.0 307.5h0.55M262.4 288.2h0.55M293.1 281.8h0.55M273.3 297.2h0.55M264.1 296.3h0.55M268.0 305.4h0.55M274.1 300.7h0.55M274.8 299.4h0.55M266.5 274.7h0.55M265.4 282.6h0.55M249.6 302.6h0.55M272.6 289.6h0.55M280.7 271.0h0.55M254.7 300.3h0.55M250.8 307.1h0.55M271.9 311.5h0.55M287.7 286.4h0.55M264.5 287.5h0.55M283.6 288.8h0.55M281.4 312.6h0.55M282.7 291.1h0.55M282.4 290.2h0.55M275.1 286.9h0.55M291.1 312.4h0.55M274.6 293.1h0.55M253.6 293.4h0.55M290.8 278.9h0.55M283.9 279.5h0.55M281.1 280.7h0.55M275.8 302.9h0.55M254.7 302.4h0.55M254.7 302.9h0.55M268.6 288.3h0.55M253.6 299.1h0.55M268.1 284.9h0.55M267.1 294.0h0.55M266.1 293.3h0.55M258.5 302.2h0.55M271.7 281.0h0.55M265.3 286.4h0.55M267.1 285.7h0.55M263.2 300.0h0.55M270.4 292.9h0.55M259.3 299.5h0.55M263.3 295.6h0.55M272.6 288.1h0.55M259.2 294.9h0.55M261.6 295.0h0.55M269.4 285.3h0.55M270.2 283.9h0.55M273.5 280.9h0.55M257.7 301.1h0.55M262.5 289.5h0.55M268.2 291.2h0.55M263.9 299.0h0.55M256.9 298.3h0.55M258.2 296.2h0.55M253.0 300.7h0.55M261.7 293.7h0.55M254.9 299.9h0.55M255.8 301.5h0.55M258.4 303.0h0.55M276.8 287.4h0.55M268.8 286.7h0.55M262.8 296.7h0.55M269.8 288.2h0.55M272.2 284.4h0.55M261.7 294.5h0.55M260.5 300.7h0.55M263.9 294.4h0.55M268.2 293.8h0.55M269.9 284.3h0.55M263.3 293.2h0.55M264.6 287.8h0.55M255.0 295.7h0.55M256.4 297.1h0.55M258.6 294.2h0.55M263.6 291.2h0.55M252.1 303.7h0.55M259.0 291.3h0.55M267.2 281.1h0.55M259.4 299.7h0.55M266.3 289.3h0.55M262.6 297.8h0.55M269.4 284.1h0.55M265.6 293.0h0.55M269.0 287.1h0.55M270.0 291.9h0.55M266.4 294.3h0.55M270.3 291.8h0.55M255.5 306.5h0.55M260.0 286.5h0.55M259.5 302.1h0.55M255.8 299.2h0.55M270.6 286.6h0.55M262.0 296.9h0.55M255.8 301.4h0.55M265.8 286.8h0.55M251.1 302.0h0.55M263.1 292.7h0.55M255.5 300.5h0.55M253.9 305.8h0.55M267.3 289.8h0.55M254.3 303.2h0.55M270.0 290.8h0.55M267.5 286.8h0.55M271.4 286.4h0.55M273.5 284.5h0.55M261.8 284.6h0.55M258.4 296.2h0.55M258.8 298.5h0.55M273.7 280.5h0.55M259.2 299.1h0.55M279.0 283.7h0.55M260.5 298.7h0.55M264.4 295.4h0.55M266.1 290.3h0.55M254.8 303.1h0.55M262.8 293.6h0.55M271.5 283.8h0.55M251.3 304.7h0.55M267.3 293.0h0.55M262.6 290.6h0.55M276.9 284.1h0.55M276.4 281.7h0.55M257.8 294.9h0.55M255.3 304.3h0.55M266.2 292.8h0.55M248.7 303.2h0.55M268.4 287.3h0.55M278.1 280.9h0.55M254.9 295.4h0.55M264.9 287.4h0.55M265.9 289.5h0.55M251.4 303.0h0.55M256.0 301.5h0.55M264.3 295.9h0.55M259.6 294.4h0.55M265.8 285.1h0.55M259.5 299.2h0.55M253.1 304.2h0.55M258.5 295.8h0.55M263.8 288.0h0.55M261.8 292.9h0.55M251.2 302.5h0.55M266.5 288.5h0.55M254.2 304.5h0.55M257.4 299.9h0.55M255.1 297.7h0.55M272.2 286.1h0.55M253.3 303.9h0.55M251.4 296.8h0.55M252.6 307.8h0.55M263.0 292.3h0.55M253.7 307.1h0.55M251.2 307.1h0.55M264.2 288.0h0.55M257.9 298.3h0.55M264.9 294.1h0.55M262.1 289.8h0.55M259.4 291.9h0.55M273.6 282.3h0.55M276.1 278.3h0.55M259.1 301.0h0.55M257.8 296.7h0.55M260.1 294.2h0.55M265.4 288.5h0.55M260.2 300.9h0.55M262.4 290.9h0.55M265.7 291.5h0.55M267.1 292.4h0.55M260.6 296.6h0.55M265.9 288.1h0.55M252.3 306.9h0.55M262.9 289.3h0.55M261.8 297.1h0.55M271.6 282.4h0.55M254.0 300.9h0.55M256.1 303.5h0.55M261.1 300.5h0.55M271.8 277.9h0.55M270.9 283.1h0.55M254.5 297.8h0.55M262.1 302.7h0.55M265.0 291.9h0.55M274.6 286.1h0.55M261.2 298.5h0.55M270.5 283.2h0.55M252.7 302.8h0.55M281.8 280.7h0.55M257.7 290.5h0.55M265.8 294.1h0.55M253.7 302.0h0.55M254.5 303.5h0.55M263.8 299.3h0.55M264.3 285.2h0.55M262.7 290.0h0.55M254.1 304.8h0.55M257.3 296.4h0.55M260.4 297.9h0.55M273.6 280.7h0.55M264.9 291.1h0.55M251.3 301.1h0.55M252.3 308.3h0.55M261.8 290.5h0.55M261.8 294.1h0.55M268.6 285.3h0.55M271.3 283.9h0.55M270.8 285.5h0.55M267.6 282.8h0.55M271.7 289.3h0.55M252.9 301.7h0.55M258.2 301.0h0.55M263.8 293.6h0.55M256.6 299.0h0.55M261.1 282.8h0.55M262.3 289.5h0.55M263.0 294.1h0.55M273.3 281.0h0.55M263.1 289.0h0.55M262.2 284.5h0.55M266.1 288.5h0.55M253.3 302.2h0.55M263.4 297.6h0.55M271.2 286.4h0.55M266.0 284.7h0.55M254.2 297.8h0.55M270.8 280.8h0.55M270.2 281.4h0.55M267.0 291.2h0.55M265.7 284.3h0.55M253.1 301.3h0.55M266.8 284.6h0.55M259.9 298.5h0.55M266.1 289.9h0.55M249.4 298.9h0.55M251.6 300.2h0.55M264.1 288.7h0.55M258.1 302.8h0.55M268.6 291.8h0.55M252.2 300.8h0.55M266.8 287.6h0.55M261.4 297.8h0.55M265.7 289.8h0.55M277.2 279.7h0.55M261.5 291.4h0.55M258.2 295.1h0.55M258.9 295.3h0.55M260.7 296.1h0.55M261.3 291.0h0.55M260.2 292.2h0.55M274.6 280.8h0.55M262.5 290.4h0.55M258.2 298.0h0.55M271.2 284.8h0.55M261.8 292.7h0.55M257.4 286.5h0.55M274.8 281.7h0.55M254.2 302.3h0.55M269.1 292.0h0.55M258.7 306.5h0.55M253.5 295.4h0.55M270.0 289.6h0.55M256.4 297.4h0.55M255.0 302.4h0.55M257.5 300.2h0.55M265.5 289.6h0.55M262.2 300.9h0.55M267.5 288.2h0.55M268.9 290.7h0.55M258.8 287.4h0.55M274.4 281.1h0.55M258.6 298.0h0.55M273.1 287.2h0.55M265.1 296.9h0.55M269.7 287.8h0.55M268.2 286.6h0.55M260.2 298.4h0.55M250.2 300.7h0.55M266.0 287.7h0.55M255.4 305.5h0.55M266.0 291.0h0.55M271.5 285.0h0.55M255.7 304.5h0.55M262.3 290.6h0.55M260.1 296.1h0.55M253.6 303.2h0.55M274.0 284.9h0.55M252.5 302.2h0.55M266.7 286.4h0.55M270.0 281.5h0.55M257.6 300.3h0.55M279.7 282.0h0.55M255.7 297.6h0.55M264.5 288.2h0.55M262.4 295.5h0.55M275.5 283.8h0.55M274.1 290.6h0.55M259.1 300.7h0.55M262.9 291.3h0.55M262.1 290.2h0.55M267.1 286.7h0.55M258.9 296.4h0.55M272.3 288.5h0.55M261.2 304.3h0.55M264.4 288.1h0.55M264.5 291.9h0.55M260.1 300.0h0.55M261.8 296.1h0.55M261.6 298.2h0.55M256.3 298.4h0.55M253.9 301.0h0.55M276.7 287.8h0.55M273.3 284.3h0.55M273.9 281.0h0.55M267.3 285.1h0.55M265.0 289.6h0.55M270.4 282.9h0.55M258.9 294.1h0.55M253.3 305.9h0.55M275.0 280.4h0.55M267.1 291.4h0.55M269.0 284.3h0.55M273.4 291.0h0.55" fill="none" stroke="#111" stroke-width="0.55" stroke-opacity="0.45"/>
<ellipse cx="262.5" cy="277.3" rx="6.5" ry="2.8" fill="url(#bg7)" transform="rotate(-12 262.5 277.3)"/>
<ellipse cx="252.5" cy="301" rx="2.8" ry="6" fill="url(#bg8)"/>
<ellipse cx="259" cy="302" rx="6" ry="4.5" fill="url(#bg9)"/>
<rect x="247.8" y="266.5" width="48" height="48.5" fill="none" stroke="#b8b8b8" stroke-width="0.6"/>
<path d="M247.8,306.92h1.2M247.8,298.83h1.2M247.8,290.75h1.2M247.8,282.67h1.2M247.8,274.58h1.2M253.8,315v-1.2M259.8,315v-1.2M265.8,315v-1.2M271.8,315v-1.2M277.8,315v-1.2M283.8,315v-1.2M289.8,315v-1.2" fill="none" stroke="#888" stroke-width="0.5"/>
<rect x="249.6" y="292.7" width="38.2" height="20.8" fill="none" stroke="#cc4458" stroke-width="1.05"/>
<path d="M287.8,292.7 L298.1,292.7" fill="none" stroke="#cc4458" stroke-width="0.9"/>
<path d="M297.4,291 L300.6,292.7 L297.4,294.4 Z" fill="#cc4458" stroke="none" stroke-width="1"/>
<text x="243.3" y="295.3" font-size="7.3" text-anchor="middle" textLength="34.7" lengthAdjust="spacingAndGlyphs" transform="rotate(-90 243.3 295.3)">GR1 PE-Cy5</text>
<text x="272.3" y="322.8" font-size="7.3" text-anchor="middle" textLength="11.5" lengthAdjust="spacingAndGlyphs">SSC</text>
<path d="M333.6 295.7h0.55M340.1 292.3h0.55M330.8 287.2h0.55M336.7 290.7h0.55M335.3 283.7h0.55M339.3 287.0h0.55M336.5 286.6h0.55M334.6 283.5h0.55M337.3 285.7h0.55M328.8 288.8h0.55M334.9 290.4h0.55M337.9 283.9h0.55M334.4 287.5h0.55M335.3 284.4h0.55M335.3 290.5h0.55M339.4 291.9h0.55M337.7 280.0h0.55M334.0 285.9h0.55M324.8 292.1h0.55M338.2 287.5h0.55M336.3 289.0h0.55M334.2 291.6h0.55M341.4 290.0h0.55M333.0 288.3h0.55M338.4 289.7h0.55M332.6 290.4h0.55M337.6 289.3h0.55M333.5 287.5h0.55M328.3 287.4h0.55M333.4 286.7h0.55M334.0 286.6h0.55M335.3 287.8h0.55M332.9 287.1h0.55M334.7 289.0h0.55M336.5 286.5h0.55M332.1 282.7h0.55M330.6 288.7h0.55M331.8 292.3h0.55M334.4 286.4h0.55M334.4 285.9h0.55M332.8 287.7h0.55M329.9 287.9h0.55M334.7 284.9h0.55M338.6 288.6h0.55M338.8 285.6h0.55M330.6 284.0h0.55M329.5 281.9h0.55M340.5 286.1h0.55M335.7 285.9h0.55M334.5 292.2h0.55M328.9 284.6h0.55M335.5 284.8h0.55M337.4 291.4h0.55M338.1 289.8h0.55M334.4 290.5h0.55M332.2 284.0h0.55M334.1 286.8h0.55M339.3 284.6h0.55M339.0 285.2h0.55M330.6 282.5h0.55M334.9 283.2h0.55M335.7 287.7h0.55M333.6 281.8h0.55M333.2 288.8h0.55M328.7 289.6h0.55M335.1 285.9h0.55M335.7 289.5h0.55M334.9 285.2h0.55M337.8 285.5h0.55M336.3 290.4h0.55M339.6 292.2h0.55M338.6 288.0h0.55M334.3 288.1h0.55M336.9 296.4h0.55M337.3 285.1h0.55M340.3 282.8h0.55M338.5 283.7h0.55M331.2 286.0h0.55M334.0 283.5h0.55M337.2 287.2h0.55M339.7 284.5h0.55M328.6 289.6h0.55M334.2 290.4h0.55M326.8 283.8h0.55M335.3 293.3h0.55M330.7 281.9h0.55M333.4 291.7h0.55M340.6 283.5h0.55M332.9 282.1h0.55M332.0 284.7h0.55M336.5 290.9h0.55M343.4 286.5h0.55M337.9 288.2h0.55M335.4 293.3h0.55M337.5 292.2h0.55M336.1 290.1h0.55M336.8 287.2h0.55M332.6 286.3h0.55M335.0 286.4h0.55M333.8 285.4h0.55M338.0 286.8h0.55M334.6 286.9h0.55M339.6 285.9h0.55M340.0 285.0h0.55M340.4 289.3h0.55M333.3 288.9h0.55M339.0 284.7h0.55M334.2 288.4h0.55M334.3 286.7h0.55M335.1 288.4h0.55M337.7 291.9h0.55M333.9 296.2h0.55M333.9 292.8h0.55M334.6 283.2h0.55M333.5 286.5h0.55M338.8 281.5h0.55M332.8 287.1h0.55M337.3 288.7h0.55M338.0 287.0h0.55M334.2 291.1h0.55M341.0 288.6h0.55M335.6 285.0h0.55M342.4 288.7h0.55M337.2 282.8h0.55M337.1 294.7h0.55M334.4 286.9h0.55M340.4 287.0h0.55M338.0 293.3h0.55M330.9 285.1h0.55M337.4 287.9h0.55M335.2 287.0h0.55M335.5 288.6h0.55M333.3 286.7h0.55M335.8 284.3h0.55M336.6 281.0h0.55M337.2 287.2h0.55M330.9 291.5h0.55M330.9 293.6h0.55M332.5 291.1h0.55M334.8 292.3h0.55M334.2 290.6h0.55M333.9 281.9h0.55M336.4 288.9h0.55M336.4 292.5h0.55M332.4 283.3h0.55M335.9 285.5h0.55M334.7 287.5h0.55M332.2 290.8h0.55M334.6 292.8h0.55M335.9 290.7h0.55M334.0 285.6h0.55M333.2 284.9h0.55M336.6 287.9h0.55M331.3 282.9h0.55M332.0 282.1h0.55M331.9 283.0h0.55M337.5 284.1h0.55M333.0 287.2h0.55M335.1 288.8h0.55M337.7 289.4h0.55M333.8 291.2h0.55M336.3 285.4h0.55M340.2 284.0h0.55M336.7 291.2h0.55M335.4 288.5h0.55M335.4 289.5h0.55M335.8 287.5h0.55M337.5 281.9h0.55M335.9 286.6h0.55M341.8 288.4h0.55M332.7 289.5h0.55M333.7 284.0h0.55M334.0 289.0h0.55M339.1 290.6h0.55M335.8 287.0h0.55M335.7 291.1h0.55M334.6 291.0h0.55M332.3 287.5h0.55M337.7 289.6h0.55M335.7 286.0h0.55M328.8 286.2h0.55M332.1 286.3h0.55M340.5 285.2h0.55M338.0 287.5h0.55M331.2 287.8h0.55M337.6 284.0h0.55M331.0 286.4h0.55M337.5 285.7h0.55M336.5 288.9h0.55M335.1 288.8h0.55M339.4 286.9h0.55M336.1 284.3h0.55M332.5 287.2h0.55M337.8 285.5h0.55M330.2 290.3h0.55M343.2 279.9h0.55M331.3 287.9h0.55M336.7 284.7h0.55M336.2 290.8h0.55M334.1 289.7h0.55M335.5 284.7h0.55M332.9 285.7h0.55M339.6 290.9h0.55M335.9 282.9h0.55M333.3 286.3h0.55M328.4 287.4h0.55M336.0 283.6h0.55M333.5 286.2h0.55M341.4 289.5h0.55M337.7 287.8h0.55M330.6 290.2h0.55M332.7 281.8h0.55M337.5 286.5h0.55M335.0 289.0h0.55M334.2 288.7h0.55M339.4 286.6h0.55M333.8 287.6h0.55M337.2 286.3h0.55M335.3 285.5h0.55M334.8 289.1h0.55M332.2 287.0h0.55M330.0 285.4h0.55M335.3 289.1h0.55M331.5 287.2h0.55M331.8 288.4h0.55M335.9 288.8h0.55M334.3 283.3h0.55M333.1 283.5h0.55M332.7 287.3h0.55M338.7 285.6h0.55M332.4 288.1h0.55M328.0 293.4h0.55M329.7 290.5h0.55M338.4 290.4h0.55M334.7 289.7h0.55M333.8 290.3h0.55M332.8 285.1h0.55M336.3 286.2h0.55M337.3 285.0h0.55M335.9 284.6h0.55M334.7 293.9h0.55M331.3 283.9h0.55M329.5 286.8h0.55M340.5 286.2h0.55M338.2 287.0h0.55M332.8 293.4h0.55M338.7 282.1h0.55M331.7 288.7h0.55M337.2 286.8h0.55M336.1 289.1h0.55M333.8 290.5h0.55M332.1 289.7h0.55M338.1 288.1h0.55M333.8 287.4h0.55M327.5 288.3h0.55M330.2 281.6h0.55M337.6 284.8h0.55M336.2 287.6h0.55M329.0 284.8h0.55M334.1 288.9h0.55M335.2 283.8h0.55M333.2 287.8h0.55M330.7 286.2h0.55M333.1 281.2h0.55M340.9 290.1h0.55M333.4 290.3h0.55M331.5 292.0h0.55M333.7 287.9h0.55M333.0 287.8h0.55M336.1 287.6h0.55M332.2 289.7h0.55M336.9 287.5h0.55M338.6 285.3h0.55M339.3 287.0h0.55M340.1 286.2h0.55M334.1 288.1h0.55M338.7 291.8h0.55M333.5 285.4h0.55M337.6 291.2h0.55M337.4 286.5h0.55M339.3 287.4h0.55M335.6 289.3h0.55M333.1 280.8h0.55M335.7 289.6h0.55M336.5 289.1h0.55M335.6 290.6h0.55M335.4 291.9h0.55M335.2 289.9h0.55M333.1 288.4h0.55M336.4 287.9h0.55M340.2 287.6h0.55M338.8 288.5h0.55M338.7 284.8h0.55M333.8 290.4h0.55M332.2 288.7h0.55M336.9 288.1h0.55M336.5 289.1h0.55M334.2 288.7h0.55M333.3 286.2h0.55M329.6 287.2h0.55M332.7 299.0h0.55M333.3 301.2h0.55M331.1 307.7h0.55M336.3 295.2h0.55M336.2 298.7h0.55M334.4 299.4h0.55M328.2 293.4h0.55M326.8 303.1h0.55M336.2 309.5h0.55M334.1 295.5h0.55M326.6 311.2h0.55M334.4 297.8h0.55M334.4 313.3h0.55M335.3 298.9h0.55M330.9 312.5h0.55M336.5 301.4h0.55M333.4 312.8h0.55M327.7 310.7h0.55M328.4 310.3h0.55M329.5 307.4h0.55M338.4 306.1h0.55M331.7 296.9h0.55M332.5 312.3h0.55M334.9 293.7h0.55M335.2 290.7h0.55M333.2 302.7h0.55M330.5 290.7h0.55M332.8 301.9h0.55M334.6 294.1h0.55M330.6 306.8h0.55M330.8 293.8h0.55M333.4 313.1h0.55M334.8 293.9h0.55M335.8 306.1h0.55M332.6 294.1h0.55M330.5 295.8h0.55M332.7 297.7h0.55M330.8 304.2h0.55M333.4 296.9h0.55M336.5 305.0h0.55M338.7 291.8h0.55M330.0 295.6h0.55M331.7 308.7h0.55M329.4 312.3h0.55M335.6 304.6h0.55M333.5 308.1h0.55M332.6 295.0h0.55M330.1 296.2h0.55M331.1 300.7h0.55M332.2 312.0h0.55M332.7 309.9h0.55M332.8 292.6h0.55M327.1 311.7h0.55M331.3 302.8h0.55M327.3 292.3h0.55M333.2 313.0h0.55M333.9 299.8h0.55M334.2 292.2h0.55M330.6 302.9h0.55M332.4 288.4h0.55M340.5 296.5h0.55M334.1 309.4h0.55M334.1 307.4h0.55M336.4 294.7h0.55M333.1 302.9h0.55M336.5 299.4h0.55M330.1 297.8h0.55M330.8 303.6h0.55M330.6 290.8h0.55M335.2 290.8h0.55M330.5 292.1h0.55M334.7 295.9h0.55M325.1 294.7h0.55M332.3 291.1h0.55M327.9 291.8h0.55M329.0 300.3h0.55M334.7 310.3h0.55M337.0 293.1h0.55M335.2 313.5h0.55M334.7 293.5h0.55M329.7 299.9h0.55M328.8 313.5h0.55M331.6 300.7h0.55M333.8 292.8h0.55M331.2 307.5h0.55M334.0 301.0h0.55M329.6 313.1h0.55M330.6 302.9h0.55M327.7 301.6h0.55M331.5 313.2h0.55M335.0 295.1h0.55M336.1 301.7h0.55M334.7 301.1h0.55M330.7 302.2h0.55M332.7 292.7h0.55M332.2 291.8h0.55M332.8 302.5h0.55M329.1 299.2h0.55M334.8 304.5h0.55M335.4 292.8h0.55M333.8 301.4h0.55M330.0 313.4h0.55M334.0 310.8h0.55M340.8 291.3h0.55M332.3 295.6h0.55M326.6 312.2h0.55M331.4 296.8h0.55M331.8 302.0h0.55M330.3 307.9h0.55M336.0 292.6h0.55M333.3 312.3h0.55M328.6 313.2h0.55M328.4 303.2h0.55M332.7 296.7h0.55M329.9 310.5h0.55M327.2 308.8h0.55M333.7 290.3h0.55M332.6 290.6h0.55M337.5 305.8h0.55M331.2 302.9h0.55M333.4 294.1h0.55M330.8 294.9h0.55M333.7 309.1h0.55M332.0 301.2h0.55M335.5 296.1h0.55M333.8 297.9h0.55M333.3 297.0h0.55M340.0 290.3h0.55M332.7 299.4h0.55M334.9 291.6h0.55M328.3 309.0h0.55M338.6 293.9h0.55M333.0 298.4h0.55M332.8 291.5h0.55M335.3 299.2h0.55M334.3 298.5h0.55M334.4 301.6h0.55M330.5 301.7h0.55M331.0 295.9h0.55M332.1 296.5h0.55M329.6 312.7h0.55M331.4 290.7h0.55M329.9 293.2h0.55M332.9 296.1h0.55M337.1 292.1h0.55M330.9 304.1h0.55M332.7 296.6h0.55M333.5 305.0h0.55M337.7 301.6h0.55M339.1 308.9h0.55M330.4 307.1h0.55M330.4 307.6h0.55M330.3 291.2h0.55M333.6 309.4h0.55M336.7 307.8h0.55M330.7 311.3h0.55M333.1 302.0h0.55M327.8 303.4h0.55M330.7 306.8h0.55M328.8 309.8h0.55M336.2 298.8h0.55M335.5 295.1h0.55M331.3 312.4h0.55M328.9 308.7h0.55M334.7 305.7h0.55M330.3 292.8h0.55M332.0 296.0h0.55M331.4 308.5h0.55M334.4 310.1h0.55M337.3 290.1h0.55M333.5 310.1h0.55M336.5 311.9h0.55M328.0 311.4h0.55M330.2 308.4h0.55M336.8 294.8h0.55M334.3 304.5h0.55M332.5 294.3h0.55M332.2 293.5h0.55M334.4 311.7h0.55M339.4 308.3h0.55M334.1 306.8h0.55M330.0 295.8h0.55M330.1 311.7h0.55M331.3 289.8h0.55M337.4 290.6h0.55M329.5 312.1h0.55M327.8 293.6h0.55M330.9 302.0h0.55M335.2 298.7h0.55M334.4 294.8h0.55M336.8 308.1h0.55M333.7 313.1h0.55M334.5 298.2h0.55M331.4 297.0h0.55M332.8 293.3h0.55M330.6 312.3h0.55M329.8 300.1h0.55M325.6 310.3h0.55M332.4 301.6h0.55M332.9 297.8h0.55M334.8 301.4h0.55M333.4 310.8h0.55M331.9 304.2h0.55M330.5 296.8h0.55M336.4 304.6h0.55M334.1 306.7h0.55M335.1 310.9h0.55M333.0 300.6h0.55M330.1 308.5h0.55M329.3 306.4h0.55M330.8 301.2h0.55M330.6 301.3h0.55M329.4 294.5h0.55M331.6 293.0h0.55M331.3 303.8h0.55M331.8 291.8h0.55M336.4 304.0h0.55M329.8 308.1h0.55M336.2 291.8h0.55M331.8 298.9h0.55M332.7 314.3h0.55M333.1 305.5h0.55M329.7 313.7h0.55M333.6 300.0h0.55M338.2 292.8h0.55M339.2 301.5h0.55M336.9 313.3h0.55M335.9 303.1h0.55M336.8 300.6h0.55M335.0 294.9h0.55M329.7 313.8h0.55M335.9 306.2h0.55M333.1 299.9h0.55M333.1 293.9h0.55M335.7 309.8h0.55M335.3 304.3h0.55M333.5 294.0h0.55M331.8 311.8h0.55M334.1 294.5h0.55M336.0 297.2h0.55M333.2 298.8h0.55M335.5 291.0h0.55M335.5 296.7h0.55M333.8 302.5h0.55M333.3 301.1h0.55M330.4 294.0h0.55M337.7 290.3h0.55M333.4 306.7h0.55M332.8 310.2h0.55M332.7 310.3h0.55M337.2 306.1h0.55M332.0 311.2h0.55M333.0 301.8h0.55M334.5 308.1h0.55M336.7 295.0h0.55M338.5 295.3h0.55M328.5 307.3h0.55M329.9 298.4h0.55M328.0 301.2h0.55M331.5 310.4h0.55M335.2 297.9h0.55M333.4 299.3h0.55M332.6 310.6h0.55M331.4 291.5h0.55M335.1 309.7h0.55M332.0 306.6h0.55M337.9 299.7h0.55M334.4 303.6h0.55M330.1 308.0h0.55M328.8 291.4h0.55M340.3 291.3h0.55M330.6 294.0h0.55M334.9 299.0h0.55M335.8 309.1h0.55M332.0 302.0h0.55M325.4 297.6h0.55M333.4 291.1h0.55M333.6 307.0h0.55M334.4 301.7h0.55M331.9 287.2h0.55M330.2 304.2h0.55M333.4 290.9h0.55M332.8 293.1h0.55M338.2 307.1h0.55M334.8 290.6h0.55M331.4 298.8h0.55M334.8 313.2h0.55M334.7 301.9h0.55M336.4 312.8h0.55M335.3 301.7h0.55M334.3 295.3h0.55M332.4 307.1h0.55M334.6 293.2h0.55M332.0 289.5h0.55M334.6 303.8h0.55M327.4 312.5h0.55M338.0 296.0h0.55M334.2 304.7h0.55M338.7 303.2h0.55M332.2 307.0h0.55M332.1 309.2h0.55M335.4 292.4h0.55M332.9 305.8h0.55M334.7 298.5h0.55M331.5 295.9h0.55M334.9 305.3h0.55M331.2 297.1h0.55M331.3 303.0h0.55M334.2 307.6h0.55M334.3 295.0h0.55M327.6 306.8h0.55M333.6 302.1h0.55M329.8 299.2h0.55M332.5 295.6h0.55M328.3 290.3h0.55M335.1 303.6h0.55M334.9 314.3h0.55M333.7 293.3h0.55M332.4 305.7h0.55M331.8 305.9h0.55M331.4 304.6h0.55M333.4 307.3h0.55M338.3 309.5h0.55M331.8 311.7h0.55M326.4 301.8h0.55M330.3 313.6h0.55M328.4 304.3h0.55M331.3 311.7h0.55M335.3 304.3h0.55M330.9 308.0h0.55M338.8 292.4h0.55M337.0 302.5h0.55M331.0 300.6h0.55M336.0 298.5h0.55M328.7 303.6h0.55M334.2 303.2h0.55M330.9 301.3h0.55M329.5 310.1h0.55M332.8 304.9h0.55M336.7 301.6h0.55M334.0 307.6h0.55M331.9 299.1h0.55M329.9 296.8h0.55M335.4 291.2h0.55M332.7 308.4h0.55M335.4 293.8h0.55M327.5 307.4h0.55M336.5 309.3h0.55M339.0 308.2h0.55M330.1 297.5h0.55M332.0 303.1h0.55M331.0 310.4h0.55M334.1 303.7h0.55M332.6 306.3h0.55M337.3 296.4h0.55M332.0 293.6h0.55M333.1 291.1h0.55M330.5 289.4h0.55M333.9 290.7h0.55M334.4 291.4h0.55M332.9 307.4h0.55M336.4 294.1h0.55M335.2 300.6h0.55M332.7 291.8h0.55M334.0 306.5h0.55M336.2 305.8h0.55M331.7 290.6h0.55M328.9 306.1h0.55M330.5 290.9h0.55M332.5 310.8h0.55M331.0 298.3h0.55M337.0 291.4h0.55M334.0 293.6h0.55M334.5 313.5h0.55M332.5 310.4h0.55M331.1 294.1h0.55M334.0 296.7h0.55M335.7 302.9h0.55M333.2 295.5h0.55M337.4 292.7h0.55M329.4 304.4h0.55M334.5 296.7h0.55M327.0 299.7h0.55M333.0 300.6h0.55M334.8 302.1h0.55M332.4 295.2h0.55M331.4 313.8h0.55M330.5 293.9h0.55M336.0 301.7h0.55M327.9 306.9h0.55M334.4 301.7h0.55M334.1 309.5h0.55M331.5 303.3h0.55M329.4 306.7h0.55M327.5 293.3h0.55M330.7 305.8h0.55M329.2 313.8h0.55M333.5 308.7h0.55M331.9 307.5h0.55M328.4 312.1h0.55M334.0 301.0h0.55M338.6 300.4h0.55M329.1 311.5h0.55M330.2 314.2h0.55M338.1 291.8h0.55M332.3 299.5h0.55M335.8 307.6h0.55M329.3 311.2h0.55M333.4 306.6h0.55M334.0 306.3h0.55M331.9 305.9h0.55M332.2 296.3h0.55M331.0 294.9h0.55M337.8 308.0h0.55M330.1 293.8h0.55M330.6 302.3h0.55M330.7 292.7h0.55M328.8 302.8h0.55M328.8 294.7h0.55M336.0 305.7h0.55M333.2 311.2h0.55M328.7 314.2h0.55M334.6 302.8h0.55M331.4 309.9h0.55M332.5 305.3h0.55M335.3 302.0h0.55M334.1 310.0h0.55M331.8 295.4h0.55M334.3 292.5h0.55M332.4 305.3h0.55M328.3 292.9h0.55M334.3 291.0h0.55M331.3 309.0h0.55M333.7 313.3h0.55M331.7 307.2h0.55M336.6 294.8h0.55M331.9 312.1h0.55M334.6 308.6h0.55M333.1 309.2h0.55M333.8 307.3h0.55M336.9 307.5h0.55M338.0 300.4h0.55M332.1 298.7h0.55M334.8 304.9h0.55M331.7 292.6h0.55M332.9 302.7h0.55M333.6 295.7h0.55M328.7 309.4h0.55M332.7 299.0h0.55M332.0 299.5h0.55M336.7 312.5h0.55M335.4 297.8h0.55M333.0 289.1h0.55M330.9 308.1h0.55M331.6 304.5h0.55M331.5 292.9h0.55M335.5 292.7h0.55M331.0 291.9h0.55M333.4 294.3h0.55M326.7 288.6h0.55M334.8 304.4h0.55M332.6 296.4h0.55M333.6 295.8h0.55M332.5 309.0h0.55M331.0 307.4h0.55M334.9 289.5h0.55M331.8 298.9h0.55M336.8 311.0h0.55M331.4 310.4h0.55M334.4 296.3h0.55M333.4 293.7h0.55M334.7 296.1h0.55M333.3 302.0h0.55M331.9 307.3h0.55M332.6 310.6h0.55M328.6 312.0h0.55M337.9 295.6h0.55M332.9 307.5h0.55M331.9 305.2h0.55M331.0 310.5h0.55M331.9 304.6h0.55M328.1 313.3h0.55M333.1 292.7h0.55M331.8 300.3h0.55M334.6 307.0h0.55M335.3 304.3h0.55M332.1 307.8h0.55M333.7 290.6h0.55M330.8 293.0h0.55M334.1 309.6h0.55M334.8 300.7h0.55M331.5 305.2h0.55M329.9 298.7h0.55M331.7 307.9h0.55M337.0 302.1h0.55M327.7 311.9h0.55M331.7 300.0h0.55M334.1 304.0h0.55M333.1 298.9h0.55M331.6 293.3h0.55M335.2 311.4h0.55M332.4 308.4h0.55M332.7 302.5h0.55M334.6 295.3h0.55M332.8 296.7h0.55M331.2 305.6h0.55M338.3 298.4h0.55M332.8 300.2h0.55M334.5 303.0h0.55M335.0 294.4h0.55M337.8 300.0h0.55M331.9 292.2h0.55M333.0 293.1h0.55M332.5 308.2h0.55M330.2 310.2h0.55M335.0 291.3h0.55M335.1 294.4h0.55M335.1 301.7h0.55M335.1 298.8h0.55M331.8 296.7h0.55M328.5 311.6h0.55M329.2 308.8h0.55M329.0 307.4h0.55M334.5 298.2h0.55M331.6 313.1h0.55M330.7 293.5h0.55M332.9 313.4h0.55M337.0 309.1h0.55M329.2 314.5h0.55M333.9 303.9h0.55M329.8 312.2h0.55M335.2 304.0h0.55M335.8 302.7h0.55M333.6 307.5h0.55M332.9 297.3h0.55M334.0 306.6h0.55M329.2 295.9h0.55M332.3 313.4h0.55M327.0 308.6h0.55M334.4 308.3h0.55M331.4 295.7h0.55M333.7 310.0h0.55M334.7 313.6h0.55M336.6 310.1h0.55M330.0 296.6h0.55M332.1 298.3h0.55M334.4 292.4h0.55M328.6 308.0h0.55M337.0 298.1h0.55M334.4 298.0h0.55M336.4 300.3h0.55M329.6 301.3h0.55M332.6 295.3h0.55M330.6 311.9h0.55M332.6 312.1h0.55M337.9 299.4h0.55M335.6 292.9h0.55M330.5 308.1h0.55M333.6 290.7h0.55M333.2 301.5h0.55M331.6 300.2h0.55M332.3 294.2h0.55M334.9 297.5h0.55M335.0 312.9h0.55M335.3 300.1h0.55M339.7 306.1h0.55M329.5 300.2h0.55M335.9 294.7h0.55M331.8 299.5h0.55M331.4 313.1h0.55M335.0 297.5h0.55M333.9 292.7h0.55M331.6 300.7h0.55M334.1 307.5h0.55M335.9 307.6h0.55M333.3 293.6h0.55M333.6 309.4h0.55M327.9 310.8h0.55M335.3 311.2h0.55M330.1 306.8h0.55M332.6 293.6h0.55M332.4 290.7h0.55M335.8 294.5h0.55M331.1 303.0h0.55M332.3 310.3h0.55M338.6 295.2h0.55M332.8 313.5h0.55M337.5 293.4h0.55M331.3 291.6h0.55M336.8 308.3h0.55M330.7 310.8h0.55M331.1 292.9h0.55M330.8 308.2h0.55M333.6 308.0h0.55M334.6 307.0h0.55M333.9 312.0h0.55M329.8 303.2h0.55M332.4 307.7h0.55M333.8 298.1h0.55M328.3 313.3h0.55M332.6 309.0h0.55M330.8 306.9h0.55M334.2 312.5h0.55M336.1 304.6h0.55M333.8 311.1h0.55M331.5 301.8h0.55M334.7 291.3h0.55M332.7 313.9h0.55M333.0 305.7h0.55M331.3 295.5h0.55M332.6 303.9h0.55M332.1 310.8h0.55M332.8 302.4h0.55M329.1 313.6h0.55M335.7 297.9h0.55M337.4 290.9h0.55M332.1 306.7h0.55M332.0 300.6h0.55M332.6 302.7h0.55M332.0 313.1h0.55M332.2 293.7h0.55M330.0 305.0h0.55M336.8 291.9h0.55M334.7 296.8h0.55M331.2 309.4h0.55M332.5 304.9h0.55M334.9 313.0h0.55M331.2 308.1h0.55M332.2 292.6h0.55M330.9 307.5h0.55M335.6 308.3h0.55M331.6 313.4h0.55M329.3 304.1h0.55M334.6 302.3h0.55M334.1 299.2h0.55M334.5 307.3h0.55M334.9 299.8h0.55M332.7 287.6h0.55M319.1 309.9h0.55M351.1 310.3h0.55M349.2 293.5h0.55M343.9 275.3h0.55M341.3 285.2h0.55M327.8 283.5h0.55M316.6 304.9h0.55M346.6 270.4h0.55M335.6 271.0h0.55M337.0 277.2h0.55M355.3 283.7h0.55M336.0 281.3h0.55M352.8 270.4h0.55M326.3 279.7h0.55M345.8 286.0h0.55" fill="none" stroke="#111" stroke-width="0.55" stroke-opacity="0.45"/>
<ellipse cx="335.5" cy="287" rx="3.5" ry="3" fill="url(#bg10)"/>
<rect x="311.2" y="266.5" width="47.6" height="48.5" fill="none" stroke="#b8b8b8" stroke-width="0.6"/>
<path d="M311.2,306.92h1.2M311.2,298.83h1.2M311.2,290.75h1.2M311.2,282.67h1.2M311.2,274.58h1.2M317.15,315v-1.2M323.1,315v-1.2M329.05,315v-1.2M335,315v-1.2M340.95,315v-1.2M346.9,315v-1.2M352.85,315v-1.2" fill="none" stroke="#888" stroke-width="0.5"/>
<rect x="325.8" y="278.4" width="15.7" height="15.4" fill="none" stroke="#cc4458" stroke-width="1.05"/>
<text x="307" y="295" font-size="7.3" text-anchor="middle" textLength="38.4" lengthAdjust="spacingAndGlyphs" transform="rotate(-90 307 295)">F4/80 PE-Cy7</text>
<text x="336.4" y="322.8" font-size="7.3" text-anchor="middle" textLength="49.6" lengthAdjust="spacingAndGlyphs">CD115 APC-Cy7</text>
<path d="M404.6 292.3h0.55M405.3 297.0h0.55M404.3 295.4h0.55M397.8 293.9h0.55M403.0 296.5h0.55M398.6 294.0h0.55M397.2 295.0h0.55M402.9 294.9h0.55M408.4 296.8h0.55M401.9 292.7h0.55M401.0 296.9h0.55M405.8 293.0h0.55M402.2 293.2h0.55M405.0 295.1h0.55M400.0 291.8h0.55M407.1 290.2h0.55M396.2 285.1h0.55M409.7 292.9h0.55M405.6 296.2h0.55M405.5 298.0h0.55M400.9 294.5h0.55M406.0 296.2h0.55M399.9 292.2h0.55M397.5 295.3h0.55M400.7 289.7h0.55M400.6 295.5h0.55M403.2 293.8h0.55M403.1 296.5h0.55M398.3 292.0h0.55M406.0 296.8h0.55M397.6 292.3h0.55M407.7 296.8h0.55M402.1 297.6h0.55M407.4 298.8h0.55M397.6 290.5h0.55M400.8 294.4h0.55M401.3 295.3h0.55M407.8 297.9h0.55M406.1 294.5h0.55M408.4 295.9h0.55M403.4 294.5h0.55M396.1 301.1h0.55M402.5 297.3h0.55M410.6 293.9h0.55M398.4 297.6h0.55M403.4 291.6h0.55M406.0 294.5h0.55M399.2 286.8h0.55M399.0 295.7h0.55M398.9 297.5h0.55M410.4 295.5h0.55M403.4 294.3h0.55M405.6 294.6h0.55M406.3 298.9h0.55M405.6 291.6h0.55M404.9 293.7h0.55M403.7 297.5h0.55M400.2 295.1h0.55M407.8 292.0h0.55M401.9 296.7h0.55M401.7 297.6h0.55M399.0 289.9h0.55M403.9 294.1h0.55M403.7 297.4h0.55M406.3 293.4h0.55M401.2 288.6h0.55M399.1 295.3h0.55M403.3 290.0h0.55M405.4 294.4h0.55M406.5 293.4h0.55M406.0 291.1h0.55M396.0 292.1h0.55M405.1 295.8h0.55M395.9 295.0h0.55M404.9 299.6h0.55M405.3 296.1h0.55M396.9 295.6h0.55M395.6 293.6h0.55M401.3 291.6h0.55M399.0 294.1h0.55M404.6 292.5h0.55M403.6 296.7h0.55M402.5 300.3h0.55M401.5 292.3h0.55M395.8 297.8h0.55M405.0 293.9h0.55M403.7 294.1h0.55M405.7 294.5h0.55M403.4 294.3h0.55M399.4 287.8h0.55M404.5 290.7h0.55M404.0 296.5h0.55M409.3 292.2h0.55M403.1 297.4h0.55M400.2 292.7h0.55M404.2 300.8h0.55M406.4 297.4h0.55M399.1 296.5h0.55M406.6 290.7h0.55M402.6 293.9h0.55M404.9 289.2h0.55M405.1 294.5h0.55M401.6 288.1h0.55M395.2 292.9h0.55M404.9 295.8h0.55M405.2 289.4h0.55M403.3 298.6h0.55M397.0 296.5h0.55M400.0 296.2h0.55M402.9 289.6h0.55M398.8 298.4h0.55M402.2 298.3h0.55M403.8 297.2h0.55M401.2 295.2h0.55M401.2 297.3h0.55M400.5 297.9h0.55M408.2 290.8h0.55M402.0 296.2h0.55M408.9 298.0h0.55M402.9 289.3h0.55M405.6 292.7h0.55M403.2 295.7h0.55M397.5 297.7h0.55M405.8 296.3h0.55M404.7 295.6h0.55M397.6 293.0h0.55M405.5 293.5h0.55M402.6 295.6h0.55M402.9 295.3h0.55M404.3 294.5h0.55M398.6 293.7h0.55M406.0 292.5h0.55M404.2 295.4h0.55M399.4 286.0h0.55M402.5 292.2h0.55M400.3 297.3h0.55M399.8 295.6h0.55M403.0 295.1h0.55M409.6 288.5h0.55M406.0 294.1h0.55M401.6 292.5h0.55M402.7 294.6h0.55M399.3 299.5h0.55M399.9 294.1h0.55M398.0 295.0h0.55M403.8 297.8h0.55M406.0 293.0h0.55M408.3 294.2h0.55M408.1 299.7h0.55M401.1 291.3h0.55M404.5 298.8h0.55M404.0 297.8h0.55M404.7 297.2h0.55M407.3 293.6h0.55M397.5 294.1h0.55M399.7 290.9h0.55M402.0 296.7h0.55M396.0 289.9h0.55M405.4 291.8h0.55M401.2 298.6h0.55M406.5 295.6h0.55M404.5 286.3h0.55M404.5 295.7h0.55M397.6 295.1h0.55M404.2 294.2h0.55M405.4 297.2h0.55M402.7 293.8h0.55M398.4 297.9h0.55M400.5 295.5h0.55M408.0 296.8h0.55M398.0 294.2h0.55M400.0 289.5h0.55M399.7 296.3h0.55M403.7 293.9h0.55M403.2 291.0h0.55M399.8 294.0h0.55M405.4 293.5h0.55M402.0 295.5h0.55M407.8 290.7h0.55M404.4 295.1h0.55M402.3 295.2h0.55M395.5 294.6h0.55M401.7 290.8h0.55M405.5 294.1h0.55M401.3 296.8h0.55M399.3 292.3h0.55M405.5 297.1h0.55M409.7 293.1h0.55M397.4 290.0h0.55M398.3 294.8h0.55M401.7 292.5h0.55M399.0 292.4h0.55M401.2 298.1h0.55M404.8 298.6h0.55M405.4 296.8h0.55M406.7 295.9h0.55M408.0 297.9h0.55M409.0 295.2h0.55M399.8 302.1h0.55M401.5 296.1h0.55M401.2 292.4h0.55M404.1 291.1h0.55M402.0 298.8h0.55M403.0 297.0h0.55M404.8 295.7h0.55M402.9 296.3h0.55M399.1 296.3h0.55M398.7 292.2h0.55M400.5 290.5h0.55M395.6 295.7h0.55M404.3 296.5h0.55M410.4 295.0h0.55M405.2 292.3h0.55M405.0 291.1h0.55M409.5 291.6h0.55M401.1 296.8h0.55M394.7 298.5h0.55M399.2 295.1h0.55M406.0 295.0h0.55M405.8 293.0h0.55M404.6 287.9h0.55M407.9 292.5h0.55M399.5 294.6h0.55M408.6 292.4h0.55M402.4 293.4h0.55M399.2 290.6h0.55M404.6 296.6h0.55M399.9 295.2h0.55M404.1 295.6h0.55M401.9 294.6h0.55M403.5 291.3h0.55M402.0 296.9h0.55M400.5 298.5h0.55M401.7 291.2h0.55M401.5 290.4h0.55M404.7 289.7h0.55M402.6 293.8h0.55M401.4 295.8h0.55M403.5 292.8h0.55M405.4 293.1h0.55M405.7 298.5h0.55M403.9 297.3h0.55M397.8 296.2h0.55M397.2 294.0h0.55M405.0 286.4h0.55M399.7 292.2h0.55M399.2 294.6h0.55M404.8 291.0h0.55M400.3 288.9h0.55M400.0 288.2h0.55M397.2 295.9h0.55M405.6 292.1h0.55M403.8 292.2h0.55M406.3 299.8h0.55M393.8 291.9h0.55M400.2 293.1h0.55M408.1 299.2h0.55M402.5 296.4h0.55M396.9 293.6h0.55M401.5 294.1h0.55M403.6 289.8h0.55M398.8 300.9h0.55M396.4 294.7h0.55M405.1 296.0h0.55M402.7 289.6h0.55M400.8 289.8h0.55M409.5 295.6h0.55M405.1 295.1h0.55M401.1 298.1h0.55M405.6 296.4h0.55M404.6 296.7h0.55M401.5 295.8h0.55M402.8 293.7h0.55M404.8 300.9h0.55M395.3 298.8h0.55M401.0 298.1h0.55M398.9 293.9h0.55M406.1 294.3h0.55M403.7 290.9h0.55M398.4 299.5h0.55M403.1 294.2h0.55M397.6 291.4h0.55M398.8 294.4h0.55M402.1 292.7h0.55M400.1 294.8h0.55M406.7 290.3h0.55M397.5 297.9h0.55M397.4 293.3h0.55M402.9 300.0h0.55M395.3 285.8h0.55M402.2 297.7h0.55M403.0 292.1h0.55M403.2 288.3h0.55M405.4 299.0h0.55M401.8 297.0h0.55M398.8 299.0h0.55M400.2 292.1h0.55M399.8 289.2h0.55M404.9 300.5h0.55M397.4 293.9h0.55M404.1 292.8h0.55M397.0 295.5h0.55M406.1 294.8h0.55M398.7 293.6h0.55M395.6 294.3h0.55M406.8 297.9h0.55M402.2 295.8h0.55M400.7 294.9h0.55M400.4 295.0h0.55M400.7 295.1h0.55M405.0 294.4h0.55M397.9 296.0h0.55M401.6 293.0h0.55M404.5 292.0h0.55M405.8 296.2h0.55M400.0 292.4h0.55M402.1 291.8h0.55M405.9 287.7h0.55M403.0 293.5h0.55M398.6 296.4h0.55M400.8 295.9h0.55M401.0 293.7h0.55M404.4 297.4h0.55M406.0 294.4h0.55M407.8 293.5h0.55M397.7 288.9h0.55M397.4 291.9h0.55M396.2 295.5h0.55M402.6 294.4h0.55M403.3 294.2h0.55M401.6 293.5h0.55M402.6 291.1h0.55M407.0 299.2h0.55M402.6 301.4h0.55M399.1 297.2h0.55M396.8 296.3h0.55M399.9 297.5h0.55M402.9 297.4h0.55M404.7 296.1h0.55M401.5 299.3h0.55M403.8 296.0h0.55M407.6 293.7h0.55M408.7 297.8h0.55M402.8 290.1h0.55M406.8 293.6h0.55M402.9 294.9h0.55M405.9 296.4h0.55M396.1 292.5h0.55M403.7 295.0h0.55M405.3 296.2h0.55M408.3 292.3h0.55M407.1 295.7h0.55M403.6 296.6h0.55M401.3 296.7h0.55M401.8 296.7h0.55M399.8 298.1h0.55M397.1 292.5h0.55M402.3 295.2h0.55M399.7 293.3h0.55M403.4 297.7h0.55M407.1 293.1h0.55M402.3 293.6h0.55M397.1 293.2h0.55M406.5 290.4h0.55M412.6 297.5h0.55M408.6 295.1h0.55M394.4 295.8h0.55M408.1 292.8h0.55M407.0 296.8h0.55M405.3 296.8h0.55M404.6 296.5h0.55M406.7 295.8h0.55M404.8 295.8h0.55M403.0 291.9h0.55M396.2 291.4h0.55M398.1 290.0h0.55M405.0 293.5h0.55M407.0 304.0h0.55M405.3 293.1h0.55M403.9 293.9h0.55M403.5 300.8h0.55M408.2 298.4h0.55M403.5 299.9h0.55M405.5 297.2h0.55M398.4 292.7h0.55M403.1 293.9h0.55M400.7 288.4h0.55M399.9 294.2h0.55M403.6 291.3h0.55M402.1 300.0h0.55M403.1 288.6h0.55M401.9 294.5h0.55M407.0 295.1h0.55M407.4 295.5h0.55M406.7 298.6h0.55M408.0 295.1h0.55M404.8 306.4h0.55M398.2 295.1h0.55M404.2 292.4h0.55M405.5 294.0h0.55M405.3 295.1h0.55M399.2 297.7h0.55M409.6 297.3h0.55M403.5 289.3h0.55M403.7 294.4h0.55M399.7 288.7h0.55M404.1 297.5h0.55M405.1 301.4h0.55M395.8 295.6h0.55M402.4 298.8h0.55M402.4 291.6h0.55M402.3 295.8h0.55M399.9 292.1h0.55M403.5 297.2h0.55M401.7 296.0h0.55M400.8 293.5h0.55M403.2 297.5h0.55M408.1 294.1h0.55M404.1 300.5h0.55M405.5 293.4h0.55M404.0 290.2h0.55M395.1 292.2h0.55M400.0 290.4h0.55M406.2 293.1h0.55M402.8 294.7h0.55M401.8 290.9h0.55M409.4 288.5h0.55M402.4 296.6h0.55M401.8 294.2h0.55M403.6 295.2h0.55M401.4 297.8h0.55M404.3 299.1h0.55M402.9 288.5h0.55M396.7 293.0h0.55M404.2 289.5h0.55M400.6 298.3h0.55M403.7 292.4h0.55M402.2 294.9h0.55M401.1 293.6h0.55M400.3 295.2h0.55M408.1 299.0h0.55M398.2 301.6h0.55M402.1 290.3h0.55M397.3 295.0h0.55M403.4 292.6h0.55M399.7 293.9h0.55M403.5 296.6h0.55M404.5 287.3h0.55M400.5 295.3h0.55M403.9 297.0h0.55M397.3 299.3h0.55M398.4 293.9h0.55M400.9 293.1h0.55M399.8 297.0h0.55M405.3 295.6h0.55M398.1 292.6h0.55M402.4 295.7h0.55M400.6 293.7h0.55M411.8 294.7h0.55M401.5 287.0h0.55M399.9 299.5h0.55M405.5 290.9h0.55M405.3 295.0h0.55M399.8 296.9h0.55M400.4 293.6h0.55M402.6 295.2h0.55M401.0 295.4h0.55M402.6 295.1h0.55M403.9 292.6h0.55M397.8 294.3h0.55M406.9 295.5h0.55M403.4 292.3h0.55M398.6 290.7h0.55M399.4 293.4h0.55M397.2 294.2h0.55M397.1 296.5h0.55M402.5 289.2h0.55M400.6 295.2h0.55M403.9 296.9h0.55M401.3 294.1h0.55M401.7 296.2h0.55M400.1 294.0h0.55M403.1 293.5h0.55M398.8 298.7h0.55M404.3 291.7h0.55M409.4 292.2h0.55M399.5 293.4h0.55M404.4 299.1h0.55M407.3 296.2h0.55M402.8 296.5h0.55M399.8 292.4h0.55M404.4 295.1h0.55M403.4 291.4h0.55M403.4 290.1h0.55M405.8 294.6h0.55M400.3 293.1h0.55M412.3 304.1h0.55M400.1 298.7h0.55M392.5 298.0h0.55M402.6 295.3h0.55M393.6 289.8h0.55M401.7 293.9h0.55M403.5 301.1h0.55M399.3 298.6h0.55M401.3 297.2h0.55M396.6 297.2h0.55M403.1 296.4h0.55M397.1 289.1h0.55M392.9 303.5h0.55M407.0 297.4h0.55M402.1 295.3h0.55M404.7 300.6h0.55M398.4 297.5h0.55M406.6 288.5h0.55M393.8 293.3h0.55M392.3 294.0h0.55M394.4 294.2h0.55M403.4 290.4h0.55M400.8 302.6h0.55M401.4 290.2h0.55M396.0 301.6h0.55M398.4 293.0h0.55M405.4 292.6h0.55M392.6 299.0h0.55M400.3 292.9h0.55M403.3 301.3h0.55M407.4 296.5h0.55M403.2 298.4h0.55M390.1 304.0h0.55M395.7 293.4h0.55M394.6 291.4h0.55M407.5 296.1h0.55M396.2 287.3h0.55M401.3 295.8h0.55M393.2 295.6h0.55M387.8 299.1h0.55M391.9 298.4h0.55M400.8 285.9h0.55M392.6 292.9h0.55M405.5 298.9h0.55M404.4 304.0h0.55M398.2 293.6h0.55M387.5 291.1h0.55M403.9 292.0h0.55M394.2 300.6h0.55M383.5 302.7h0.55M408.8 287.5h0.55M403.3 296.0h0.55M406.3 294.4h0.55M399.3 302.8h0.55M396.1 298.0h0.55M404.4 295.5h0.55M406.0 298.5h0.55M405.7 287.9h0.55M393.2 297.4h0.55M408.0 302.9h0.55M400.2 292.5h0.55M392.8 286.8h0.55M396.8 298.8h0.55M399.7 289.0h0.55M399.5 296.3h0.55M395.1 303.0h0.55M403.1 301.3h0.55M400.8 291.4h0.55M407.4 301.3h0.55M396.2 289.7h0.55M405.6 293.4h0.55M392.3 295.7h0.55M403.9 292.5h0.55M400.4 300.8h0.55M405.2 288.6h0.55M405.0 304.5h0.55M406.3 295.6h0.55M402.6 288.5h0.55M396.2 293.6h0.55M414.1 296.1h0.55M393.6 304.1h0.55M408.4 288.2h0.55M398.8 288.0h0.55M407.1 285.2h0.55M412.6 291.0h0.55M393.1 306.1h0.55M403.7 297.7h0.55M405.9 291.3h0.55M406.0 294.7h0.55M403.6 297.2h0.55M409.4 289.9h0.55M390.8 299.2h0.55M416.0 298.7h0.55M399.0 299.3h0.55M392.0 296.5h0.55M388.9 296.6h0.55M405.0 304.2h0.55M396.8 300.5h0.55M409.2 291.1h0.55M398.3 287.2h0.55M394.3 298.1h0.55M386.5 294.6h0.55M405.0 302.9h0.55M383.4 297.9h0.55M396.0 285.1h0.55M393.3 298.9h0.55M400.0 299.4h0.55M398.1 299.2h0.55M393.6 291.4h0.55M399.1 287.7h0.55M408.4 294.9h0.55M393.6 291.9h0.55M393.7 296.6h0.55M397.7 300.2h0.55M392.4 295.7h0.55M390.0 293.8h0.55M409.2 295.5h0.55M406.1 295.8h0.55M392.8 291.8h0.55M392.6 297.7h0.55M401.7 310.1h0.55M411.3 300.1h0.55M393.6 296.6h0.55M394.1 307.3h0.55M392.1 300.6h0.55M395.5 302.9h0.55M401.4 299.4h0.55M382.4 285.7h0.55M405.3 285.1h0.55M399.8 292.5h0.55M409.1 293.8h0.55M380.0 289.3h0.55M391.9 302.4h0.55M407.6 307.5h0.55" fill="none" stroke="#111" stroke-width="0.55" stroke-opacity="0.6"/>
<ellipse cx="402.7" cy="294.2" rx="5" ry="4.2" fill="url(#bg11)"/>
<rect x="376.5" y="266.1" width="48.2" height="48.1" fill="none" stroke="#b8b8b8" stroke-width="0.6"/>
<path d="M376.5,306.18h1.2M376.5,298.17h1.2M376.5,290.15h1.2M376.5,282.13h1.2M376.5,274.12h1.2M382.52,314.2v-1.2M388.55,314.2v-1.2M394.57,314.2v-1.2M400.6,314.2v-1.2M406.62,314.2v-1.2M412.65,314.2v-1.2M418.68,314.2v-1.2" fill="none" stroke="#888" stroke-width="0.5"/>
<rect x="379.2" y="276.5" width="30.4" height="12.7" fill="none" stroke="#cc4458" stroke-width="1.05"/>
<rect x="409.3" y="289.2" width="12.9" height="24.3" fill="none" stroke="#cc4458" stroke-width="1.05"/>
<text x="372.6" y="297" font-size="7.3" text-anchor="middle" textLength="33.1" lengthAdjust="spacingAndGlyphs" transform="rotate(-90 372.6 297)">CD86 BV421</text>
<text x="401.5" y="322.8" font-size="7.3" text-anchor="middle" textLength="28.5" lengthAdjust="spacingAndGlyphs">CD206 PE</text>
<path d="M163.0 358.6h0.55M121.1 363.6h0.55M135.3 360.9h0.55M127.0 351.3h0.55M130.2 364.2h0.55M162.6 349.9h0.55M142.2 362.3h0.55M154.1 349.5h0.55M131.3 363.1h0.55M133.3 355.9h0.55M147.9 358.6h0.55M163.8 349.0h0.55M128.9 351.7h0.55M160.3 372.4h0.55M121.8 341.0h0.55M129.8 368.9h0.55M150.8 340.6h0.55M155.3 372.8h0.55M156.5 349.0h0.55M156.7 345.0h0.55M161.9 339.5h0.55M137.1 347.0h0.55M156.8 368.2h0.55M143.5 357.7h0.55M132.4 360.0h0.55M121.2 366.2h0.55M163.0 354.0h0.55M140.3 359.9h0.55M136.5 375.7h0.55M128.8 355.4h0.55M145.1 361.7h0.55M133.7 372.1h0.55M153.8 361.4h0.55M141.2 361.0h0.55M145.7 360.5h0.55M134.7 374.0h0.55M142.7 359.4h0.55M135.4 371.2h0.55M147.4 361.5h0.55M145.6 360.4h0.55M131.1 370.7h0.55M145.2 362.0h0.55M154.6 360.6h0.55M141.2 364.5h0.55M147.1 360.2h0.55M144.5 361.0h0.55M135.0 371.9h0.55M133.7 375.2h0.55M140.4 366.3h0.55M147.0 357.8h0.55M131.5 372.3h0.55M133.3 367.7h0.55M140.3 367.7h0.55M147.2 363.9h0.55M138.3 371.0h0.55M145.6 361.5h0.55M145.7 364.4h0.55M139.3 374.6h0.55M147.9 365.4h0.55M147.1 364.4h0.55M136.5 375.7h0.55M145.7 362.9h0.55M137.7 372.6h0.55M137.6 370.2h0.55M134.0 369.7h0.55M131.7 374.5h0.55M147.4 364.0h0.55M144.0 363.8h0.55M143.9 366.7h0.55M153.0 363.3h0.55M135.8 372.4h0.55M149.8 359.9h0.55M136.3 371.3h0.55M133.5 370.4h0.55M140.1 372.3h0.55M147.6 364.0h0.55M144.3 359.1h0.55M151.4 360.1h0.55M138.0 371.1h0.55M147.1 358.8h0.55M145.0 365.0h0.55M144.3 363.0h0.55M142.3 361.5h0.55M132.5 373.2h0.55M144.7 362.6h0.55M137.5 366.0h0.55M153.1 356.1h0.55M142.9 370.0h0.55M135.0 368.7h0.55M151.6 361.1h0.55M137.2 370.4h0.55M144.2 361.5h0.55M130.2 372.1h0.55M133.1 374.1h0.55M150.0 368.1h0.55M140.1 368.2h0.55M148.9 361.1h0.55M137.3 367.6h0.55M140.4 369.5h0.55M136.3 367.3h0.55M145.5 364.0h0.55M142.7 368.7h0.55M132.8 371.6h0.55M138.6 370.8h0.55M138.9 369.8h0.55M139.3 369.8h0.55M145.6 367.2h0.55M136.9 374.9h0.55M130.1 373.1h0.55M147.6 359.5h0.55M133.5 369.7h0.55M138.3 373.2h0.55M147.4 361.7h0.55M138.5 370.6h0.55M136.8 367.0h0.55M140.9 367.3h0.55M141.6 372.4h0.55M146.6 365.1h0.55M138.9 365.5h0.55M140.3 364.8h0.55M141.2 370.9h0.55M148.1 363.4h0.55M139.9 369.0h0.55M132.6 373.4h0.55M135.4 370.1h0.55M140.9 365.3h0.55M140.2 360.1h0.55M139.1 366.8h0.55M145.4 365.6h0.55M141.5 367.9h0.55M150.6 362.5h0.55M133.6 370.6h0.55M134.7 370.9h0.55M148.4 359.2h0.55M148.6 364.9h0.55M149.9 360.8h0.55M147.6 359.1h0.55M147.4 362.9h0.55M135.4 371.0h0.55M144.7 362.1h0.55M146.2 360.0h0.55M136.1 373.0h0.55M141.1 368.1h0.55M148.1 362.3h0.55M145.0 366.6h0.55M138.3 369.8h0.55M140.8 366.7h0.55M148.4 360.6h0.55M144.1 362.0h0.55M155.3 356.6h0.55M143.5 372.3h0.55M145.9 363.1h0.55M142.8 368.9h0.55M149.9 356.2h0.55M138.7 371.5h0.55M133.6 370.3h0.55M137.1 367.1h0.55M135.7 366.8h0.55M144.6 358.2h0.55M139.1 371.2h0.55M135.3 368.6h0.55M144.5 365.0h0.55M145.2 361.4h0.55M151.0 353.5h0.55M152.1 354.2h0.55M151.4 360.4h0.55M141.1 365.1h0.55M138.3 365.7h0.55M146.6 365.4h0.55M150.2 361.3h0.55M146.8 360.6h0.55M134.0 372.6h0.55M141.3 370.4h0.55M132.7 371.3h0.55M143.3 366.1h0.55M137.3 374.0h0.55M141.9 366.1h0.55M135.5 373.8h0.55M146.5 359.9h0.55M139.8 366.1h0.55M133.6 373.5h0.55M141.0 368.8h0.55M139.3 368.7h0.55M135.8 374.9h0.55M144.7 366.4h0.55M139.7 372.1h0.55M148.6 363.9h0.55M146.1 367.6h0.55M136.7 369.8h0.55M132.9 368.0h0.55M137.9 366.0h0.55M132.5 373.7h0.55M153.0 359.8h0.55M135.2 368.3h0.55M150.0 357.5h0.55M134.7 375.1h0.55M148.0 360.0h0.55M141.5 366.8h0.55M141.8 362.2h0.55M133.2 374.0h0.55M144.2 361.4h0.55M130.2 374.8h0.55M146.1 368.2h0.55M134.9 369.2h0.55M139.3 369.3h0.55M153.5 359.1h0.55M135.4 374.2h0.55M131.3 375.6h0.55M140.2 367.5h0.55M150.6 358.7h0.55M145.7 358.8h0.55M139.6 367.9h0.55M144.3 360.6h0.55M140.6 365.0h0.55M136.5 364.7h0.55M135.6 368.7h0.55M135.2 371.9h0.55M150.4 360.4h0.55M143.8 362.9h0.55M145.2 365.6h0.55M141.0 368.4h0.55M133.3 370.2h0.55M143.5 363.1h0.55M135.2 375.7h0.55M151.7 359.8h0.55M143.5 364.3h0.55M149.4 355.0h0.55M129.1 374.5h0.55M152.2 355.8h0.55M136.7 369.7h0.55M143.9 367.4h0.55M131.9 373.1h0.55M150.0 360.7h0.55M136.3 371.4h0.55M139.8 368.0h0.55M143.1 362.5h0.55M137.4 369.5h0.55M152.1 359.1h0.55M147.9 361.5h0.55M148.3 359.0h0.55M142.9 368.3h0.55M147.4 360.8h0.55M146.2 357.7h0.55M150.3 358.4h0.55M151.8 358.7h0.55M133.2 369.9h0.55M138.0 367.8h0.55M135.8 366.2h0.55M147.1 363.7h0.55M141.5 365.4h0.55M146.4 364.0h0.55M150.1 363.8h0.55M145.8 366.0h0.55M144.3 367.0h0.55M134.6 367.4h0.55M141.3 367.5h0.55M148.4 364.3h0.55M146.6 361.8h0.55M150.6 366.2h0.55M138.9 369.0h0.55M148.7 357.9h0.55M150.6 356.6h0.55M140.6 370.3h0.55M147.7 357.7h0.55M130.8 374.3h0.55M140.2 363.8h0.55M131.2 376.3h0.55M139.6 369.0h0.55M130.0 371.4h0.55M140.4 370.7h0.55M152.8 357.8h0.55M150.9 361.8h0.55M140.0 370.1h0.55M145.2 364.6h0.55M148.4 360.2h0.55M139.5 371.7h0.55M153.0 360.2h0.55M139.8 365.1h0.55M152.4 365.6h0.55M147.3 361.8h0.55M147.9 359.5h0.55M147.2 357.6h0.55M129.9 374.5h0.55M137.0 370.5h0.55M140.9 369.5h0.55M145.1 360.6h0.55M151.7 359.9h0.55M134.0 373.4h0.55M148.0 358.6h0.55M149.9 359.2h0.55M131.1 372.7h0.55M137.2 367.1h0.55M137.1 367.2h0.55M133.1 371.5h0.55M132.8 372.6h0.55M152.4 359.3h0.55M149.8 357.3h0.55M144.6 362.5h0.55M136.3 373.6h0.55M146.0 367.3h0.55M140.4 363.5h0.55M144.5 363.1h0.55M136.5 372.7h0.55M138.5 370.5h0.55M131.1 376.6h0.55M147.8 359.6h0.55M150.6 365.1h0.55M145.0 362.9h0.55M138.1 371.3h0.55M150.7 366.1h0.55M138.5 373.2h0.55M141.2 367.4h0.55M148.6 358.0h0.55M134.7 372.0h0.55M140.0 370.9h0.55M153.0 356.2h0.55M140.7 361.7h0.55M154.8 359.9h0.55M140.7 368.7h0.55M133.6 372.6h0.55M154.0 359.7h0.55M135.9 370.5h0.55M141.4 366.3h0.55M133.3 373.6h0.55M137.8 369.9h0.55M140.1 364.2h0.55M142.4 367.7h0.55M138.2 367.9h0.55M136.9 368.7h0.55M131.8 374.1h0.55M149.8 358.5h0.55M134.1 369.5h0.55M137.9 368.8h0.55M140.8 368.2h0.55M138.7 371.2h0.55M133.3 373.5h0.55M149.3 354.9h0.55M142.9 363.0h0.55M131.1 375.6h0.55M142.9 364.8h0.55M137.3 372.1h0.55M132.8 373.8h0.55M134.5 370.0h0.55M133.7 374.5h0.55M152.2 360.1h0.55M148.6 362.0h0.55M146.5 360.7h0.55M141.8 371.9h0.55M141.9 366.0h0.55M141.2 368.7h0.55M130.7 370.4h0.55M131.4 373.2h0.55M145.4 361.8h0.55M143.0 364.6h0.55M136.0 364.7h0.55M132.6 372.0h0.55M133.5 372.8h0.55M138.6 374.5h0.55M143.7 364.9h0.55M137.9 369.0h0.55M140.0 369.7h0.55M142.9 361.7h0.55M142.5 362.2h0.55M146.3 362.9h0.55M141.6 365.1h0.55M125.9 375.8h0.55M133.0 371.5h0.55M142.5 364.2h0.55M127.1 373.7h0.55M131.8 375.7h0.55M141.9 364.7h0.55M143.8 367.2h0.55M145.9 362.6h0.55M142.6 358.4h0.55M142.6 365.6h0.55M150.0 356.8h0.55M131.3 376.5h0.55M130.4 373.8h0.55M128.6 370.8h0.55M149.7 358.8h0.55M129.5 371.6h0.55M141.2 373.0h0.55M123.7 374.4h0.55M145.4 365.3h0.55M145.7 361.6h0.55M139.0 367.3h0.55M133.3 374.5h0.55M147.2 362.2h0.55M130.7 374.9h0.55M132.0 376.7h0.55M142.4 367.5h0.55M148.4 361.0h0.55M135.2 369.1h0.55M147.8 359.3h0.55M143.6 360.4h0.55M149.7 359.6h0.55M150.8 358.6h0.55M143.3 365.3h0.55M142.6 366.1h0.55M143.3 372.5h0.55M142.7 368.7h0.55M142.0 360.0h0.55M132.7 366.0h0.55M134.7 367.8h0.55M148.1 362.1h0.55M128.2 372.9h0.55M139.4 369.0h0.55M138.0 364.2h0.55M148.0 360.4h0.55M147.9 359.0h0.55M140.4 368.1h0.55M140.8 367.4h0.55M133.1 372.0h0.55M144.1 361.2h0.55M136.4 369.6h0.55M135.6 369.7h0.55M146.9 359.1h0.55M134.9 373.8h0.55M131.8 377.0h0.55M156.0 356.8h0.55M149.5 362.5h0.55M141.9 370.3h0.55M157.8 356.8h0.55M135.0 360.0h0.55M149.4 359.9h0.55M144.5 364.4h0.55M145.8 361.5h0.55M148.9 358.5h0.55M140.5 370.4h0.55M142.0 360.8h0.55M134.1 371.2h0.55M140.4 373.7h0.55M130.2 369.7h0.55M134.6 371.7h0.55M150.6 358.7h0.55M150.2 364.2h0.55M147.3 360.8h0.55M134.7 367.0h0.55M140.1 364.8h0.55M142.6 366.3h0.55M146.1 359.7h0.55M135.7 371.8h0.55M132.3 372.8h0.55M138.7 368.8h0.55M147.2 362.8h0.55M147.9 360.1h0.55M148.3 362.7h0.55M146.3 365.0h0.55M138.9 365.8h0.55M147.2 361.3h0.55M144.1 367.0h0.55M143.9 364.1h0.55M144.2 358.6h0.55M131.6 373.8h0.55M145.8 360.7h0.55M153.2 357.1h0.55M136.5 369.7h0.55M147.3 363.8h0.55M136.5 368.2h0.55M146.4 365.1h0.55M134.2 367.2h0.55M143.0 366.3h0.55M144.3 363.3h0.55M135.9 370.8h0.55M142.7 363.6h0.55M140.1 365.8h0.55M135.6 371.1h0.55M137.6 364.0h0.55M149.7 358.0h0.55M142.8 368.2h0.55M143.6 365.4h0.55M139.9 364.6h0.55M155.6 361.1h0.55M134.6 370.0h0.55M140.9 370.2h0.55M147.7 360.0h0.55M143.8 367.0h0.55M145.4 363.5h0.55M135.3 369.2h0.55M138.2 371.9h0.55M132.9 374.7h0.55M146.6 358.4h0.55M136.9 368.0h0.55M149.2 359.7h0.55M136.2 370.1h0.55M138.5 371.3h0.55M146.3 357.0h0.55M140.4 364.8h0.55M138.9 363.5h0.55M146.3 356.4h0.55M137.0 376.1h0.55M131.1 374.2h0.55M140.2 369.4h0.55M137.4 369.3h0.55M141.1 365.8h0.55M134.7 371.1h0.55M139.6 370.3h0.55M142.8 359.7h0.55M139.5 369.1h0.55M139.7 368.8h0.55M136.4 373.7h0.55M142.4 370.1h0.55M146.1 359.5h0.55M141.5 367.0h0.55M133.9 371.9h0.55M140.8 367.4h0.55M140.3 372.5h0.55M131.9 371.4h0.55M143.5 362.3h0.55M148.2 359.0h0.55M141.0 365.7h0.55M128.0 374.4h0.55M137.4 367.8h0.55M146.8 360.5h0.55M147.0 360.3h0.55M128.5 377.0h0.55M143.7 362.7h0.55M147.0 365.4h0.55M148.9 361.1h0.55M139.2 365.4h0.55M148.6 365.7h0.55M151.9 359.7h0.55M140.5 369.1h0.55M147.1 367.2h0.55M150.9 359.9h0.55M133.4 373.7h0.55M138.3 370.2h0.55M140.8 372.0h0.55M138.2 366.6h0.55M142.4 368.1h0.55M137.0 371.1h0.55M145.0 366.1h0.55M136.8 372.2h0.55M146.7 362.3h0.55M138.3 368.6h0.55M142.4 360.6h0.55M146.7 366.2h0.55M139.0 369.0h0.55M142.8 360.1h0.55M152.4 359.5h0.55M136.7 369.0h0.55M142.6 361.4h0.55M134.4 374.3h0.55M138.3 370.4h0.55M134.9 369.7h0.55M152.1 365.6h0.55M136.2 376.4h0.55M135.8 367.6h0.55M135.7 366.5h0.55M140.1 365.7h0.55M150.8 360.9h0.55M136.1 375.0h0.55M141.4 368.2h0.55M138.8 370.1h0.55M137.0 367.1h0.55M149.1 368.9h0.55M142.1 361.2h0.55M135.9 373.8h0.55M136.3 373.8h0.55M143.8 359.3h0.55M147.0 364.8h0.55M131.1 368.9h0.55M144.7 360.5h0.55M133.5 374.3h0.55M133.9 371.7h0.55M138.3 367.2h0.55M149.6 360.6h0.55M142.2 370.2h0.55M136.5 371.4h0.55M143.2 363.5h0.55M143.9 367.0h0.55M140.5 364.2h0.55M149.8 360.9h0.55M131.5 375.4h0.55M140.2 371.3h0.55M141.7 369.2h0.55M137.5 368.8h0.55M133.7 373.3h0.55M139.2 370.0h0.55M137.4 375.4h0.55M135.3 369.8h0.55M152.5 357.8h0.55M149.0 355.1h0.55M143.0 366.5h0.55M151.0 360.3h0.55M151.0 359.0h0.55M147.2 359.5h0.55M138.9 371.6h0.55M134.3 370.2h0.55M139.0 369.1h0.55M136.1 369.0h0.55M151.3 358.4h0.55M134.1 366.9h0.55M148.0 362.3h0.55M135.2 373.7h0.55M139.7 366.8h0.55M148.8 362.9h0.55M133.6 373.2h0.55M147.5 360.3h0.55M138.9 367.3h0.55M141.2 368.7h0.55M134.3 369.2h0.55M147.1 358.1h0.55M141.3 365.6h0.55M129.8 373.7h0.55M148.8 361.9h0.55M133.7 368.0h0.55M130.5 375.1h0.55M146.3 361.4h0.55M139.7 363.9h0.55M139.3 368.3h0.55M144.9 366.1h0.55M140.4 368.0h0.55M137.4 369.6h0.55M148.0 362.9h0.55M129.2 373.7h0.55M146.7 360.6h0.55M152.8 358.2h0.55M142.1 362.9h0.55M142.5 363.9h0.55M136.7 370.0h0.55M147.5 364.9h0.55M151.8 356.2h0.55M135.7 371.6h0.55M135.6 373.8h0.55M151.5 360.4h0.55M137.4 369.9h0.55M148.6 360.7h0.55M147.0 357.8h0.55M145.6 360.6h0.55M144.8 361.6h0.55M139.0 365.7h0.55M148.9 359.5h0.55M141.6 365.8h0.55M142.2 370.2h0.55M138.7 374.6h0.55M135.4 368.0h0.55M145.9 364.8h0.55M145.7 362.0h0.55M146.0 367.2h0.55M149.2 361.5h0.55M150.6 361.9h0.55M144.4 366.5h0.55M141.0 364.9h0.55M134.2 368.3h0.55M138.1 369.4h0.55M134.7 375.2h0.55M147.6 358.7h0.55M148.3 364.2h0.55M127.5 371.3h0.55M143.6 366.0h0.55M146.6 365.4h0.55M144.1 369.4h0.55M145.8 362.2h0.55M132.4 368.9h0.55M131.3 374.1h0.55M141.4 364.8h0.55M140.4 366.6h0.55M138.0 371.0h0.55M138.3 370.6h0.55M145.8 367.8h0.55M132.2 376.5h0.55M143.6 365.3h0.55M141.7 365.1h0.55M151.9 361.8h0.55M130.6 369.5h0.55M146.0 363.1h0.55M134.7 369.7h0.55M141.9 367.3h0.55M145.2 365.5h0.55M133.1 372.5h0.55M139.5 368.6h0.55M139.2 369.0h0.55M145.7 362.5h0.55M134.5 369.9h0.55M150.5 362.0h0.55M138.4 371.2h0.55M138.7 371.5h0.55M147.6 370.4h0.55M138.6 368.9h0.55M127.8 374.8h0.55M129.5 374.9h0.55M124.4 367.6h0.55M126.7 379.3h0.55M127.0 371.8h0.55M127.5 375.2h0.55M129.5 368.8h0.55M128.5 374.0h0.55M128.6 377.2h0.55M122.2 376.6h0.55M127.9 370.6h0.55M126.6 377.1h0.55M123.8 376.5h0.55M128.6 379.6h0.55M125.1 371.1h0.55M129.0 372.3h0.55M127.7 364.1h0.55M131.9 366.7h0.55M123.4 375.1h0.55M127.9 370.5h0.55M122.3 375.3h0.55M127.4 370.1h0.55M127.2 371.3h0.55M124.7 375.8h0.55M126.9 373.5h0.55M124.3 370.8h0.55M126.3 371.2h0.55M127.6 373.5h0.55M126.4 372.7h0.55M127.7 376.9h0.55M124.6 376.7h0.55M128.8 376.1h0.55M125.7 374.1h0.55M131.3 368.6h0.55M128.6 372.4h0.55M130.4 373.8h0.55M128.7 371.1h0.55M125.8 379.1h0.55M124.2 371.5h0.55M126.4 368.9h0.55M128.2 369.0h0.55M127.0 372.5h0.55M122.3 373.9h0.55M123.6 373.4h0.55M122.0 371.4h0.55M128.6 374.3h0.55M129.2 379.1h0.55M128.4 372.6h0.55M126.6 375.6h0.55M124.3 369.6h0.55M126.9 379.6h0.55M124.5 374.2h0.55M125.4 375.9h0.55M127.6 373.2h0.55M128.8 372.4h0.55M126.6 374.4h0.55M128.5 370.4h0.55M125.9 370.6h0.55M128.1 374.8h0.55M127.3 368.7h0.55M125.2 368.2h0.55M124.0 370.7h0.55M127.5 375.1h0.55M123.1 375.6h0.55M127.6 379.0h0.55M128.7 367.9h0.55M127.9 374.2h0.55M127.6 370.7h0.55M129.9 373.7h0.55M125.7 366.8h0.55M126.3 368.4h0.55M123.8 379.2h0.55M126.7 376.8h0.55M129.2 376.0h0.55M126.0 369.1h0.55M126.5 373.8h0.55M126.6 372.2h0.55M127.2 368.2h0.55M129.1 369.1h0.55M127.1 370.2h0.55M129.7 371.3h0.55M124.9 372.0h0.55M128.7 368.9h0.55M124.1 371.4h0.55M128.5 362.7h0.55M126.5 376.7h0.55M126.6 366.6h0.55M126.0 375.5h0.55M124.5 372.2h0.55M125.5 374.7h0.55M132.1 373.6h0.55M124.1 379.3h0.55M126.3 371.8h0.55M127.9 376.1h0.55M127.3 374.6h0.55M127.3 368.9h0.55M128.5 376.4h0.55M125.2 367.0h0.55M125.6 374.0h0.55M129.9 374.1h0.55M120.0 371.1h0.55M127.0 374.2h0.55M123.7 372.0h0.55M127.2 375.8h0.55M128.6 379.3h0.55M125.4 371.7h0.55M125.9 375.1h0.55M131.1 374.0h0.55M127.2 370.0h0.55M124.2 379.7h0.55M126.7 378.4h0.55M128.6 371.5h0.55M127.4 370.0h0.55M128.2 372.7h0.55M128.5 377.8h0.55M125.6 376.2h0.55M127.8 371.4h0.55M127.5 377.8h0.55M127.2 376.8h0.55M127.6 377.9h0.55M126.6 372.1h0.55M128.2 365.0h0.55M125.8 378.8h0.55M130.3 371.5h0.55M125.3 374.7h0.55M128.8 379.6h0.55M130.1 370.7h0.55M128.7 371.4h0.55M129.2 375.0h0.55M130.0 373.0h0.55M128.7 368.7h0.55M124.8 375.1h0.55M127.1 376.5h0.55M131.8 371.0h0.55M124.4 369.4h0.55M125.6 377.5h0.55M127.7 372.2h0.55M128.3 372.7h0.55M127.5 373.2h0.55M124.0 376.2h0.55M127.1 371.1h0.55M127.3 370.6h0.55M126.8 371.9h0.55M127.6 369.9h0.55M126.7 371.8h0.55M124.8 373.0h0.55M128.4 375.9h0.55M127.6 372.8h0.55M129.0 372.2h0.55M128.4 367.0h0.55M124.4 370.6h0.55M129.3 372.3h0.55M127.9 369.2h0.55M130.5 379.7h0.55M126.9 370.8h0.55M127.5 372.4h0.55M125.9 364.2h0.55M127.4 365.2h0.55M125.8 367.7h0.55M131.2 368.6h0.55M126.1 374.6h0.55M126.3 374.1h0.55M128.9 370.9h0.55M128.0 372.8h0.55M124.1 374.3h0.55M124.6 377.0h0.55M127.0 373.9h0.55M129.1 370.2h0.55M125.2 378.5h0.55M128.5 374.8h0.55M122.7 373.3h0.55M124.9 371.0h0.55M123.4 367.2h0.55M126.0 374.6h0.55M125.9 372.5h0.55M127.1 378.1h0.55M125.7 373.7h0.55M132.9 373.1h0.55M128.7 368.8h0.55M124.7 371.6h0.55M133.6 370.9h0.55M130.0 371.4h0.55M124.2 366.3h0.55M127.3 377.1h0.55M125.2 371.7h0.55M124.5 370.5h0.55M129.2 371.2h0.55M124.7 375.4h0.55M127.5 373.0h0.55M131.4 374.3h0.55M129.5 368.6h0.55M126.8 377.8h0.55M128.6 376.5h0.55M123.7 372.2h0.55M130.6 378.5h0.55M120.2 366.2h0.55M130.0 376.1h0.55M129.9 362.9h0.55M127.2 376.1h0.55M129.7 369.6h0.55M129.3 376.1h0.55M125.8 379.0h0.55M129.8 376.4h0.55M126.0 374.2h0.55M126.9 379.3h0.55M132.4 370.0h0.55M131.4 374.8h0.55M125.5 370.5h0.55M130.4 374.3h0.55M125.5 372.5h0.55M126.1 372.7h0.55M131.0 370.7h0.55M126.3 362.0h0.55M128.1 376.6h0.55M131.6 370.9h0.55M120.5 376.9h0.55M119.0 377.6h0.55M119.7 377.2h0.55M121.2 378.8h0.55M121.5 378.4h0.55M121.8 377.4h0.55M122.6 377.8h0.55M123.4 375.0h0.55M123.9 377.7h0.55M121.4 379.5h0.55M121.4 376.8h0.55M119.1 378.7h0.55M121.2 376.1h0.55M122.9 379.0h0.55M124.6 378.0h0.55M119.0 377.7h0.55M122.2 378.9h0.55M122.1 378.2h0.55M120.8 377.2h0.55M122.5 376.9h0.55M121.8 376.3h0.55M120.9 379.3h0.55M120.1 377.5h0.55M122.0 379.4h0.55M119.9 377.3h0.55M121.5 376.9h0.55M121.1 376.9h0.55M122.0 376.7h0.55M120.2 375.4h0.55M119.7 375.2h0.55M120.8 379.1h0.55M119.7 378.3h0.55M120.5 377.0h0.55M119.4 377.1h0.55M120.4 376.3h0.55M123.3 378.3h0.55M120.7 378.0h0.55M124.8 378.5h0.55M120.1 377.5h0.55M122.9 378.2h0.55M120.5 377.7h0.55M119.2 377.0h0.55M120.3 377.2h0.55M123.2 377.6h0.55M122.9 377.5h0.55M120.1 377.3h0.55M122.8 379.7h0.55M121.3 379.5h0.55M120.2 378.5h0.55M119.5 379.0h0.55M120.1 378.5h0.55M119.0 379.8h0.55M123.7 377.1h0.55M121.1 376.0h0.55M120.7 375.3h0.55M122.2 377.4h0.55M122.9 377.5h0.55M120.6 376.2h0.55M122.0 377.3h0.55M119.0 375.2h0.55M122.6 377.4h0.55M120.9 376.7h0.55M120.1 377.5h0.55M121.3 375.7h0.55M125.1 378.9h0.55M122.9 376.5h0.55M120.0 377.5h0.55M123.7 377.5h0.55M123.2 376.3h0.55M120.4 378.6h0.55M121.7 374.5h0.55M119.2 376.8h0.55M119.8 376.5h0.55M120.5 377.8h0.55M119.5 379.4h0.55M120.7 375.2h0.55M121.8 378.9h0.55M121.7 377.6h0.55M122.1 379.0h0.55M120.2 379.7h0.55M119.9 378.0h0.55M122.3 376.1h0.55M120.2 374.2h0.55M120.4 375.5h0.55M121.1 376.8h0.55M119.9 377.0h0.55M120.3 377.5h0.55M120.6 379.3h0.55M122.7 373.6h0.55M123.2 377.2h0.55M121.6 376.1h0.55M122.0 378.4h0.55M120.1 375.8h0.55M121.8 378.2h0.55M119.5 374.2h0.55M119.2 378.1h0.55M123.1 376.0h0.55M120.1 375.8h0.55M121.6 376.3h0.55M123.8 378.4h0.55M120.7 376.9h0.55M122.7 376.9h0.55M120.4 377.7h0.55M122.7 379.7h0.55M124.6 355.8h0.55M125.8 367.9h0.55M127.4 356.7h0.55M124.1 370.1h0.55M127.3 365.0h0.55M132.7 355.0h0.55M127.0 354.8h0.55M119.8 359.7h0.55M123.4 366.9h0.55M121.8 377.3h0.55M125.4 368.6h0.55M128.2 346.6h0.55M123.1 376.3h0.55M133.1 341.1h0.55M128.2 349.0h0.55M129.8 374.8h0.55M124.6 370.2h0.55M125.1 345.0h0.55M124.2 374.9h0.55M123.9 370.7h0.55M124.3 378.0h0.55M125.2 373.9h0.55M127.7 364.4h0.55M134.4 339.6h0.55M123.2 370.8h0.55M123.5 359.6h0.55M123.3 379.0h0.55M124.6 367.0h0.55M123.2 366.1h0.55M121.2 371.2h0.55M126.8 354.2h0.55M121.8 370.1h0.55M129.3 342.5h0.55M125.9 363.4h0.55M123.5 372.3h0.55M132.4 340.8h0.55M129.5 367.0h0.55M124.8 373.4h0.55M124.2 364.2h0.55M129.4 342.8h0.55M122.4 371.6h0.55M130.7 349.9h0.55M130.5 358.7h0.55M125.5 371.2h0.55M129.4 351.9h0.55M126.8 360.3h0.55M129.9 361.4h0.55M131.3 341.6h0.55M125.5 360.9h0.55M128.6 362.4h0.55M121.5 379.1h0.55M126.4 370.2h0.55M127.4 364.8h0.55M124.2 366.2h0.55M121.9 376.2h0.55M122.1 365.7h0.55M121.5 375.9h0.55M125.3 378.3h0.55M122.8 364.2h0.55M128.6 377.0h0.55M125.8 376.7h0.55M121.8 376.6h0.55M132.4 341.8h0.55M125.8 378.7h0.55M132.4 355.8h0.55M122.7 377.7h0.55M123.4 374.5h0.55M130.8 347.6h0.55M128.0 360.5h0.55M126.2 376.2h0.55M127.8 353.7h0.55M131.5 341.5h0.55M122.9 366.5h0.55M122.2 376.7h0.55M123.6 377.1h0.55M125.8 368.8h0.55M125.8 366.4h0.55M128.3 360.6h0.55M128.2 345.7h0.55M130.9 349.0h0.55M122.8 374.4h0.55M129.0 346.5h0.55M126.3 349.4h0.55M126.7 361.1h0.55M130.4 350.4h0.55M124.1 376.4h0.55M129.9 347.0h0.55M126.4 353.6h0.55M127.6 347.8h0.55M125.4 362.9h0.55M124.2 365.0h0.55M127.4 346.4h0.55M122.6 371.2h0.55M123.3 373.7h0.55M132.6 344.5h0.55M126.8 342.3h0.55M127.4 372.9h0.55M123.3 358.5h0.55M130.5 342.2h0.55M131.3 361.5h0.55M130.3 348.0h0.55M128.2 370.1h0.55M124.4 377.8h0.55M127.0 374.2h0.55M126.4 355.5h0.55M123.8 376.3h0.55M122.5 379.3h0.55M120.5 377.0h0.55M126.1 374.0h0.55M128.7 345.8h0.55M125.9 375.5h0.55M120.9 377.8h0.55M125.3 376.3h0.55M121.5 363.3h0.55M128.2 359.9h0.55M123.1 374.0h0.55M121.4 373.9h0.55M124.5 371.4h0.55M126.9 342.9h0.55M128.1 361.6h0.55M124.9 347.8h0.55M127.4 354.1h0.55M126.1 369.6h0.55M129.7 341.9h0.55M123.8 358.0h0.55M120.6 376.8h0.55M122.9 363.6h0.55M131.4 339.1h0.55M124.7 372.2h0.55M127.9 354.1h0.55M124.0 377.4h0.55M133.0 339.3h0.55M126.2 366.6h0.55M125.5 354.4h0.55M126.5 357.7h0.55M120.8 375.8h0.55M125.3 355.9h0.55M121.9 378.1h0.55M124.2 371.7h0.55M132.0 343.6h0.55M132.4 344.4h0.55M125.3 360.2h0.55M128.4 365.3h0.55M130.2 342.4h0.55M126.7 368.4h0.55M122.9 367.3h0.55M122.7 372.7h0.55M126.9 363.2h0.55M124.0 359.8h0.55M120.4 369.6h0.55M121.9 373.2h0.55M125.4 363.4h0.55M121.6 379.2h0.55M126.5 360.8h0.55M124.2 374.4h0.55M133.2 343.5h0.55M126.8 342.6h0.55M122.9 375.8h0.55M126.1 365.9h0.55M126.6 369.2h0.55M127.8 354.9h0.55M124.6 366.7h0.55M124.3 379.0h0.55M123.7 356.9h0.55M124.6 378.5h0.55M128.3 366.1h0.55M123.6 363.3h0.55M132.9 340.0h0.55M127.4 352.8h0.55M132.1 349.4h0.55M124.4 375.8h0.55M121.9 375.9h0.55M127.2 352.3h0.55M120.6 376.0h0.55M124.4 370.7h0.55M123.5 366.2h0.55M129.0 361.4h0.55M128.2 350.4h0.55M126.4 367.1h0.55M130.4 342.1h0.55M125.8 354.2h0.55M126.6 374.0h0.55M127.1 365.7h0.55M128.9 337.8h0.55M125.7 378.0h0.55M122.0 376.3h0.55M129.4 343.1h0.55M128.4 346.5h0.55M122.1 368.5h0.55M126.6 367.2h0.55M127.1 339.5h0.55M122.0 374.9h0.55M125.5 371.0h0.55M127.3 350.8h0.55M127.1 361.4h0.55M121.1 372.8h0.55M131.6 340.5h0.55M128.0 356.8h0.55M126.1 376.0h0.55M122.5 364.7h0.55M122.8 377.4h0.55M126.0 365.6h0.55M121.3 377.2h0.55M124.8 372.9h0.55M133.6 341.5h0.55M124.7 352.1h0.55M126.5 364.3h0.55M129.4 351.8h0.55M133.7 340.7h0.55M130.4 355.2h0.55M127.5 348.9h0.55M130.1 349.6h0.55M125.4 372.5h0.55M131.3 369.0h0.55M125.4 362.7h0.55M121.0 378.9h0.55M127.0 354.9h0.55M133.4 341.4h0.55M126.3 356.8h0.55M127.9 364.0h0.55M126.3 377.6h0.55M123.1 371.1h0.55M124.2 357.3h0.55M122.5 376.2h0.55M127.6 354.7h0.55M128.1 373.3h0.55M126.3 364.0h0.55M131.7 341.7h0.55M121.7 378.8h0.55M125.0 359.0h0.55M128.1 371.9h0.55M129.8 365.3h0.55M131.6 349.5h0.55M122.3 378.5h0.55M127.1 366.0h0.55M122.3 379.6h0.55M121.3 375.1h0.55M122.4 363.4h0.55M124.2 378.7h0.55M123.5 364.4h0.55M128.8 359.8h0.55M125.3 375.7h0.55M123.2 370.8h0.55M121.2 363.4h0.55M127.3 365.1h0.55M125.7 361.3h0.55M135.0 343.6h0.55M123.5 378.8h0.55M123.3 376.9h0.55M127.6 361.8h0.55M130.9 347.7h0.55M129.1 349.3h0.55M133.7 360.0h0.55M119.5 374.2h0.55M130.2 370.5h0.55M127.1 347.0h0.55M129.9 355.5h0.55M119.0 378.2h0.55M125.8 348.2h0.55M122.6 361.2h0.55M127.1 360.1h0.55M123.1 364.7h0.55M124.2 374.7h0.55M128.2 353.6h0.55M127.2 365.0h0.55M123.1 374.9h0.55M124.6 379.4h0.55M126.0 354.1h0.55M126.3 375.4h0.55M124.3 373.3h0.55M123.1 377.2h0.55M132.0 337.5h0.55M128.0 339.4h0.55M126.5 372.7h0.55M123.1 374.8h0.55M127.0 371.9h0.55M126.4 360.2h0.55M126.4 361.3h0.55M129.6 342.8h0.55M126.9 341.3h0.55M132.6 339.7h0.55M124.1 369.1h0.55M121.8 371.8h0.55M125.8 352.2h0.55M122.3 348.4h0.55M126.3 378.2h0.55M131.6 346.1h0.55M127.0 353.6h0.55M129.2 356.3h0.55M125.0 372.3h0.55M130.0 349.1h0.55M124.4 375.0h0.55M121.4 371.9h0.55M122.7 377.5h0.55M119.6 376.5h0.55M123.1 375.7h0.55M122.9 377.1h0.55M124.4 349.6h0.55M124.5 367.7h0.55M128.7 344.5h0.55M127.1 348.9h0.55M129.7 350.4h0.55M123.1 371.6h0.55M124.0 359.9h0.55M126.4 363.1h0.55M128.6 352.1h0.55M126.0 369.1h0.55M126.9 377.0h0.55M121.5 379.2h0.55M119.6 377.0h0.55M121.5 379.6h0.55M124.6 360.6h0.55M126.8 371.1h0.55M122.7 373.9h0.55M129.2 362.6h0.55M123.9 377.2h0.55M122.5 379.6h0.55M125.4 377.9h0.55M120.3 374.4h0.55M123.7 378.6h0.55M123.9 371.7h0.55M130.7 339.5h0.55M122.2 360.9h0.55M127.4 374.3h0.55M123.3 360.0h0.55M125.1 376.9h0.55M121.0 377.6h0.55M128.7 353.5h0.55M133.1 339.4h0.55M129.8 339.6h0.55M128.5 369.5h0.55M129.8 374.0h0.55M119.5 377.9h0.55M122.6 366.2h0.55M122.9 373.4h0.55M131.5 339.6h0.55M127.5 345.9h0.55M123.6 377.1h0.55M120.8 376.8h0.55M127.4 341.1h0.55M131.6 341.0h0.55M121.1 377.1h0.55M136.5 339.9h0.55M122.1 371.8h0.55M125.8 364.6h0.55M126.0 373.2h0.55M125.9 348.7h0.55M121.3 376.9h0.55M125.3 374.6h0.55M125.3 374.4h0.55M131.7 349.2h0.55M127.1 368.3h0.55M123.4 372.8h0.55M130.4 365.6h0.55M122.7 375.8h0.55M126.0 367.2h0.55M121.4 371.4h0.55M125.8 346.1h0.55M125.1 359.7h0.55M128.1 378.0h0.55M130.4 360.1h0.55M121.0 371.3h0.55M122.2 371.2h0.55M127.5 359.2h0.55M126.0 353.1h0.55M123.4 341.0h0.55M126.7 372.5h0.55M124.1 377.9h0.55M123.1 372.5h0.55M124.0 378.3h0.55M124.9 370.4h0.55M132.9 342.4h0.55M124.5 376.6h0.55M128.7 359.7h0.55M127.4 373.7h0.55M126.5 357.9h0.55M123.9 373.1h0.55M127.5 346.3h0.55M125.1 372.1h0.55M125.0 376.8h0.55M130.1 341.8h0.55M127.1 370.6h0.55M123.7 361.3h0.55M126.4 371.6h0.55M121.1 376.6h0.55M127.3 372.2h0.55M126.4 367.5h0.55M124.5 376.1h0.55M127.4 355.3h0.55M129.8 340.5h0.55M122.6 373.2h0.55M126.1 373.9h0.55M124.3 366.9h0.55M125.7 369.4h0.55M121.6 373.1h0.55M125.0 376.8h0.55M125.8 376.0h0.55M122.2 374.5h0.55M126.1 374.3h0.55M128.7 350.7h0.55M122.8 377.0h0.55M129.0 355.7h0.55M124.7 374.8h0.55M123.9 361.6h0.55M124.0 372.7h0.55M121.4 375.3h0.55M127.7 362.4h0.55M131.4 347.1h0.55M129.2 377.3h0.55M136.4 343.8h0.55M125.9 365.6h0.55M130.9 352.6h0.55M126.3 350.8h0.55M126.0 369.6h0.55M125.8 359.2h0.55M123.8 368.4h0.55M126.0 364.6h0.55M128.4 363.2h0.55M125.2 376.7h0.55M126.9 341.1h0.55M125.4 363.0h0.55M123.9 376.6h0.55M129.6 360.7h0.55M124.8 360.8h0.55M125.4 374.5h0.55M126.9 361.9h0.55M123.1 369.7h0.55M125.9 341.7h0.55M127.3 373.3h0.55M125.6 377.4h0.55M125.1 374.8h0.55M125.2 350.1h0.55M130.7 369.2h0.55M124.2 343.6h0.55M125.9 358.7h0.55M133.3 339.2h0.55M123.8 371.3h0.55M122.6 378.0h0.55M122.1 357.3h0.55M126.3 345.6h0.55M127.0 359.5h0.55M132.8 358.2h0.55M131.3 369.1h0.55M121.5 363.7h0.55M132.5 351.7h0.55M142.2 350.1h0.55M140.5 357.2h0.55M132.3 367.8h0.55M125.2 354.7h0.55M131.6 339.3h0.55M131.4 358.4h0.55M123.5 357.7h0.55M141.5 356.9h0.55M135.2 368.4h0.55M134.6 368.1h0.55M139.2 371.8h0.55M140.3 347.8h0.55M137.6 364.6h0.55M137.9 373.6h0.55M135.7 352.9h0.55M139.3 363.4h0.55M133.9 362.5h0.55M134.8 359.5h0.55M136.1 352.7h0.55M138.4 357.4h0.55M144.4 351.9h0.55M134.7 346.8h0.55M147.5 344.6h0.55M130.9 358.1h0.55M134.0 357.0h0.55M144.1 345.3h0.55M132.6 355.2h0.55M137.6 340.7h0.55M140.0 349.8h0.55M125.4 377.8h0.55M126.0 370.6h0.55M134.1 352.1h0.55M124.0 360.0h0.55M138.5 353.5h0.55M130.5 369.1h0.55M134.2 358.3h0.55M128.8 350.3h0.55M131.2 362.7h0.55M131.5 362.6h0.55M132.4 357.0h0.55M133.7 361.1h0.55M120.5 368.9h0.55M132.8 355.0h0.55M139.8 362.9h0.55M140.8 358.4h0.55M136.7 356.7h0.55M138.5 348.4h0.55M133.2 361.2h0.55M133.1 347.8h0.55M133.4 354.7h0.55M130.1 366.3h0.55M140.4 353.2h0.55M127.0 362.0h0.55M132.8 349.7h0.55M130.3 362.1h0.55M130.4 364.5h0.55M126.1 369.9h0.55M129.7 362.3h0.55M134.0 353.3h0.55M140.2 337.3h0.55M135.1 362.3h0.55M132.5 358.4h0.55M127.1 363.1h0.55M134.9 351.8h0.55M134.0 354.5h0.55M127.8 362.2h0.55M129.2 369.1h0.55M129.2 373.6h0.55M133.8 357.6h0.55M129.5 365.1h0.55M127.7 349.6h0.55M136.5 337.7h0.55M140.7 347.4h0.55M143.4 351.9h0.55M143.8 337.0h0.55M131.2 362.2h0.55M130.5 361.1h0.55M132.9 364.1h0.55M142.5 332.1h0.55M137.7 344.7h0.55M143.7 336.9h0.55M128.8 366.2h0.55M132.8 364.4h0.55M136.1 349.2h0.55M124.0 375.7h0.55M132.6 357.8h0.55M132.0 357.0h0.55M129.5 361.8h0.55M135.4 345.8h0.55M124.3 370.3h0.55M139.2 348.6h0.55M132.9 354.2h0.55M136.3 355.0h0.55M130.5 353.9h0.55M136.6 358.5h0.55M131.3 363.2h0.55M134.9 339.5h0.55M130.4 362.6h0.55M141.5 354.6h0.55M126.4 371.4h0.55M132.2 366.1h0.55M125.4 350.8h0.55M124.2 370.7h0.55M141.1 353.7h0.55M134.9 355.8h0.55M135.1 348.0h0.55M141.3 358.2h0.55M139.7 352.1h0.55M139.0 361.7h0.55M149.1 354.1h0.55M129.4 354.6h0.55M139.2 357.4h0.55M137.2 355.3h0.55M129.0 362.9h0.55M125.0 367.4h0.55M147.7 352.3h0.55M128.7 354.6h0.55M148.5 350.9h0.55M130.8 365.2h0.55M131.9 350.3h0.55M134.8 361.2h0.55M141.8 340.4h0.55M142.9 348.1h0.55M121.8 376.1h0.55M140.0 357.1h0.55M139.0 345.8h0.55M137.0 341.1h0.55M144.0 352.5h0.55M137.0 355.8h0.55M137.8 356.1h0.55M128.2 359.4h0.55M122.2 360.0h0.55M132.9 361.7h0.55M147.6 332.5h0.55M146.8 343.3h0.55M131.3 359.1h0.55M147.3 337.3h0.55M131.6 364.2h0.55M139.8 356.1h0.55M134.7 365.4h0.55M128.0 375.9h0.55M130.9 363.4h0.55M128.3 357.2h0.55M140.0 357.4h0.55M132.8 365.4h0.55M121.4 369.7h0.55M123.4 375.0h0.55M128.9 361.8h0.55M128.8 379.4h0.55M143.3 335.5h0.55M138.0 351.7h0.55M143.0 353.0h0.55M129.4 357.8h0.55M134.3 371.7h0.55M134.5 352.7h0.55M131.5 366.8h0.55M132.1 374.0h0.55M139.4 354.4h0.55M134.6 354.3h0.55M119.4 379.7h0.55M143.2 348.2h0.55M135.7 344.8h0.55M132.7 360.2h0.55M133.5 358.5h0.55M140.1 358.6h0.55M138.8 348.7h0.55M130.8 360.3h0.55M124.1 353.7h0.55M136.0 356.0h0.55M134.5 367.3h0.55M120.8 372.1h0.55M132.5 347.8h0.55M138.1 366.2h0.55M124.9 365.6h0.55M139.9 353.1h0.55M131.2 368.2h0.55M123.4 366.1h0.55M130.0 360.4h0.55M126.2 365.6h0.55M141.6 355.1h0.55M126.0 359.9h0.55M129.3 349.0h0.55M138.5 358.2h0.55M132.9 371.1h0.55M138.4 349.1h0.55M134.2 356.3h0.55M133.9 368.9h0.55M141.8 343.0h0.55M146.0 334.1h0.55" fill="none" stroke="#111" stroke-width="0.55" stroke-opacity="0.4"/>
<ellipse cx="127.6" cy="372" rx="2.2" ry="5" fill="url(#bg12)"/>
<ellipse cx="121.2" cy="377.5" rx="2" ry="2" fill="url(#bg13)"/>
<ellipse cx="133" cy="375" rx="1.6" ry="1.4" fill="url(#bg14)"/>
<ellipse cx="142" cy="366" rx="7" ry="3.5" fill="url(#bg15)" transform="rotate(-40 142 366)"/>
<rect x="118.4" y="331.5" width="47.7" height="48.9" fill="none" stroke="#b8b8b8" stroke-width="0.6"/>
<path d="M118.4,372.25h1.2M118.4,364.1h1.2M118.4,355.95h1.2M118.4,347.8h1.2M118.4,339.65h1.2M124.36,380.4v-1.2M130.32,380.4v-1.2M136.29,380.4v-1.2M142.25,380.4v-1.2M148.21,380.4v-1.2M154.18,380.4v-1.2M160.14,380.4v-1.2" fill="none" stroke="#888" stroke-width="0.5"/>
<path d="M128.1,375 L145.8,348.1 L158.4,349.9 L159.3,363.2 L132.7,378.8 Z" fill="none" stroke="#cc4458" stroke-width="1.05"/>
<path d="M152,368.5 L169.3,368.5" fill="none" stroke="#cc4458" stroke-width="0.9"/>
<path d="M168.6,366.8 L171.8,368.5 L168.6,370.2 Z" fill="#cc4458" stroke="none" stroke-width="1"/>
<text x="114.6" y="357.3" font-size="7.3" text-anchor="middle" textLength="10.7" lengthAdjust="spacingAndGlyphs" transform="rotate(-90 114.6 357.3)">SSC</text>
<text x="141.5" y="388.9" font-size="7.3" text-anchor="middle" textLength="11.5" lengthAdjust="spacingAndGlyphs">FSC</text>
<path d="M191.1 379.7h0.55M191.9 373.6h0.55M191.4 370.3h0.55M190.7 375.0h0.55M191.1 365.2h0.55M189.9 378.5h0.55M189.9 362.9h0.55M191.7 368.0h0.55M192.9 370.9h0.55M191.6 364.0h0.55M191.8 360.8h0.55M190.6 374.6h0.55M191.6 362.2h0.55M190.7 367.2h0.55M191.6 368.8h0.55M192.1 353.3h0.55M192.0 358.7h0.55M190.9 368.5h0.55M192.3 364.8h0.55M190.1 363.8h0.55M191.5 379.6h0.55M190.2 365.3h0.55M190.6 373.4h0.55M191.8 367.1h0.55M191.6 375.6h0.55M191.0 362.4h0.55M191.3 361.8h0.55M191.5 372.1h0.55M191.0 372.4h0.55M192.4 376.9h0.55M191.0 370.7h0.55M192.1 371.9h0.55M192.2 370.3h0.55M191.9 372.4h0.55M191.8 370.7h0.55M191.6 367.6h0.55M189.6 367.6h0.55M191.3 365.2h0.55M190.9 374.0h0.55M191.1 356.9h0.55M190.8 367.3h0.55M192.4 369.4h0.55M191.8 365.3h0.55M190.8 360.2h0.55M191.9 368.1h0.55M190.7 368.2h0.55M192.3 372.5h0.55M192.0 373.6h0.55M191.5 368.0h0.55M191.3 370.3h0.55M189.7 369.3h0.55M191.3 363.7h0.55M190.8 373.6h0.55M191.0 367.5h0.55M192.7 363.2h0.55M191.3 365.9h0.55M190.8 367.1h0.55M191.8 366.6h0.55M192.2 371.6h0.55M190.3 368.2h0.55M191.1 361.7h0.55M189.7 372.9h0.55M191.6 373.9h0.55M192.7 371.7h0.55M191.6 374.2h0.55M191.2 366.0h0.55M192.2 371.1h0.55M190.8 365.9h0.55M190.2 378.1h0.55M191.0 365.5h0.55M190.8 365.4h0.55M191.4 368.1h0.55M192.0 355.8h0.55M191.4 376.1h0.55M191.4 365.1h0.55M193.1 365.4h0.55M191.9 369.1h0.55M191.2 363.1h0.55M191.5 368.9h0.55M193.0 360.6h0.55M189.9 370.6h0.55M189.9 354.2h0.55M191.0 373.5h0.55M189.6 360.6h0.55M192.7 363.6h0.55M190.5 367.1h0.55M192.8 367.0h0.55M192.0 367.1h0.55M190.3 369.2h0.55M189.7 372.9h0.55M189.8 368.6h0.55M189.4 367.4h0.55M191.7 364.3h0.55M193.1 367.9h0.55M191.7 360.8h0.55M190.8 369.0h0.55M192.0 370.8h0.55M190.0 360.7h0.55M190.3 373.4h0.55M189.7 361.9h0.55M191.4 367.6h0.55M191.2 363.9h0.55M191.6 367.3h0.55M191.1 369.0h0.55M191.1 367.0h0.55M192.3 371.3h0.55M191.4 368.5h0.55M192.5 361.4h0.55M189.5 368.0h0.55M189.7 362.7h0.55M191.5 368.9h0.55M191.0 364.2h0.55M190.0 364.4h0.55M190.5 367.7h0.55M192.1 366.4h0.55M190.3 369.9h0.55M192.4 369.4h0.55M190.9 366.0h0.55M191.0 362.8h0.55M192.1 366.4h0.55M193.0 373.7h0.55M190.9 364.1h0.55M189.7 367.9h0.55M191.6 366.1h0.55M191.2 370.1h0.55M190.6 367.6h0.55M191.1 375.2h0.55M191.9 367.4h0.55M190.4 367.2h0.55M190.6 366.1h0.55M191.6 371.8h0.55M192.2 365.1h0.55M191.5 367.7h0.55M192.1 378.5h0.55M192.2 372.2h0.55M191.5 370.4h0.55M189.5 369.5h0.55M191.2 367.7h0.55M191.5 362.1h0.55M190.9 371.9h0.55M191.9 368.8h0.55M191.8 364.1h0.55M192.7 357.9h0.55M191.0 364.2h0.55M190.9 369.0h0.55M191.4 372.6h0.55M193.0 370.4h0.55M190.5 368.0h0.55M190.6 364.1h0.55M190.9 372.5h0.55M190.6 369.5h0.55M190.6 372.1h0.55M192.3 361.0h0.55M192.0 363.8h0.55M191.6 367.5h0.55M192.1 361.9h0.55M193.0 369.6h0.55M190.7 374.0h0.55M192.5 370.5h0.55M190.8 364.1h0.55M190.5 375.7h0.55M191.4 367.8h0.55M191.0 373.8h0.55M191.0 372.1h0.55M189.7 364.2h0.55M191.6 363.3h0.55M193.0 358.1h0.55M191.6 370.5h0.55M191.7 367.6h0.55M191.5 365.0h0.55M188.9 376.9h0.55M191.3 376.6h0.55M191.3 373.3h0.55M192.5 365.2h0.55M189.2 373.7h0.55M193.0 360.7h0.55M190.8 367.6h0.55M191.1 370.9h0.55M191.2 370.8h0.55M190.6 360.4h0.55M192.9 369.2h0.55M191.7 362.4h0.55M191.7 367.7h0.55M191.7 368.6h0.55M192.2 374.7h0.55M191.0 366.1h0.55M192.0 361.0h0.55M190.7 366.2h0.55M189.4 377.2h0.55M191.1 366.9h0.55M190.2 370.6h0.55M190.9 362.2h0.55M191.6 375.4h0.55M190.0 367.8h0.55M193.3 367.0h0.55M190.7 375.7h0.55M191.5 372.5h0.55M192.8 371.1h0.55M191.6 377.3h0.55M190.0 362.5h0.55M191.1 365.0h0.55M191.2 358.9h0.55M189.8 371.4h0.55M191.1 370.0h0.55M191.0 367.9h0.55M189.9 376.5h0.55M192.2 361.5h0.55M190.9 369.7h0.55M190.9 367.7h0.55M191.5 359.1h0.55M192.0 370.3h0.55M190.4 367.1h0.55M191.2 366.7h0.55M191.3 360.6h0.55M191.4 370.0h0.55M191.6 370.2h0.55M190.8 368.7h0.55M192.2 368.4h0.55M191.5 368.3h0.55M191.8 361.8h0.55M191.2 372.1h0.55M190.5 370.7h0.55M190.9 366.0h0.55M190.3 363.6h0.55M192.4 361.0h0.55M191.4 361.4h0.55M193.1 371.4h0.55M190.6 362.5h0.55M191.1 369.6h0.55M192.8 375.0h0.55M190.4 369.1h0.55M192.1 364.6h0.55M190.9 372.5h0.55M190.1 368.2h0.55M191.2 366.6h0.55M191.3 360.1h0.55M192.0 365.8h0.55M193.1 377.6h0.55M190.9 377.4h0.55M192.6 364.1h0.55M191.1 373.8h0.55M190.6 366.3h0.55M189.0 361.2h0.55M190.2 364.6h0.55M190.6 369.3h0.55M191.5 366.2h0.55M190.1 369.2h0.55M191.9 367.8h0.55M192.5 365.8h0.55M192.1 369.3h0.55M192.5 375.9h0.55M190.3 359.2h0.55M192.2 369.5h0.55M191.6 365.9h0.55M190.6 373.8h0.55M191.7 365.4h0.55M191.3 369.4h0.55M190.1 365.0h0.55M191.8 368.7h0.55M190.1 369.5h0.55M193.1 371.0h0.55M190.1 365.8h0.55M190.7 364.2h0.55M190.6 365.2h0.55M191.2 362.0h0.55M192.1 369.6h0.55M193.0 372.1h0.55M192.2 370.5h0.55M191.2 362.8h0.55M191.9 368.5h0.55M190.7 370.0h0.55M191.6 364.9h0.55M192.6 365.7h0.55M191.4 373.2h0.55M190.8 366.5h0.55M191.7 366.4h0.55M190.9 362.6h0.55M191.5 366.2h0.55M192.0 372.9h0.55M191.3 371.8h0.55M190.7 375.8h0.55M190.8 367.4h0.55M191.0 365.7h0.55M192.0 368.0h0.55M190.5 371.8h0.55M191.3 370.8h0.55M191.5 365.8h0.55M189.7 366.6h0.55M190.5 373.9h0.55M191.1 375.2h0.55M193.4 373.7h0.55M193.4 363.6h0.55M190.9 363.0h0.55M190.1 361.9h0.55M192.1 364.2h0.55M191.0 370.8h0.55M190.9 375.5h0.55M218.0 371.5h0.55M219.2 370.6h0.55M215.5 373.4h0.55M217.6 361.6h0.55M217.8 373.0h0.55M209.4 377.9h0.55M215.4 374.9h0.55M212.1 369.1h0.55M213.3 364.1h0.55M215.7 361.1h0.55M215.0 371.4h0.55M213.2 362.9h0.55M216.4 372.5h0.55M217.3 365.5h0.55M214.0 374.7h0.55M217.2 369.7h0.55M215.6 367.3h0.55M216.5 371.5h0.55M215.1 369.4h0.55M211.6 367.4h0.55M219.0 369.2h0.55M211.6 365.9h0.55M215.2 375.1h0.55M220.3 367.9h0.55M214.6 368.8h0.55M212.3 374.5h0.55M212.1 371.6h0.55M213.9 363.2h0.55M215.8 376.1h0.55M212.0 369.2h0.55M213.3 373.3h0.55M211.4 362.0h0.55M214.1 361.9h0.55M217.4 361.0h0.55M215.2 365.8h0.55M217.5 365.6h0.55M214.5 376.2h0.55M216.6 374.2h0.55M218.5 370.5h0.55M215.8 360.1h0.55M210.7 366.2h0.55M215.7 373.5h0.55M213.1 366.6h0.55M220.2 362.8h0.55M214.5 367.6h0.55M213.3 375.3h0.55M211.1 366.7h0.55M210.9 364.8h0.55M218.9 358.5h0.55M210.9 368.2h0.55M215.9 364.6h0.55M216.1 367.2h0.55M214.0 368.6h0.55M218.0 362.5h0.55M217.1 369.5h0.55M214.5 364.6h0.55M215.8 372.0h0.55M212.7 371.7h0.55M215.1 372.1h0.55M215.7 367.2h0.55" fill="none" stroke="#111" stroke-width="0.55" stroke-opacity="0.6"/>
<path d="M189.4,358.8 C190.8,357.6 193,358.2 193.4,361 L193.2,377.5 C192,378.6 190.6,378.4 190,377 Z" fill="#111" stroke="none" stroke-width="1"/>
<rect x="180.4" y="331.5" width="48" height="48.9" fill="none" stroke="#b8b8b8" stroke-width="0.6"/>
<path d="M180.4,372.25h1.2M180.4,364.1h1.2M180.4,355.95h1.2M180.4,347.8h1.2M180.4,339.65h1.2M186.4,380.4v-1.2M192.4,380.4v-1.2M198.4,380.4v-1.2M204.4,380.4v-1.2M210.4,380.4v-1.2M216.4,380.4v-1.2M222.4,380.4v-1.2" fill="none" stroke="#888" stroke-width="0.5"/>
<rect x="183.5" y="356" width="15.7" height="23.6" fill="none" stroke="#cc4458" stroke-width="1.05"/>
<rect x="207.3" y="356" width="16.2" height="23.6" fill="none" stroke="#cc4458" stroke-width="1.05"/>
<path d="M190.4,356 L190.4,338.5 L232.1,338.5" fill="none" stroke="#cc4458" stroke-width="0.9"/>
<path d="M231.4,336.8 L234.6,338.5 L231.4,340.2 Z" fill="#cc4458" stroke="none" stroke-width="1"/>
<text x="177" y="357.3" font-size="7.3" text-anchor="middle" textLength="10.7" lengthAdjust="spacingAndGlyphs" transform="rotate(-90 177 357.3)">SSC</text>
<text x="202.3" y="389" font-size="7.3" text-anchor="middle" textLength="13" lengthAdjust="spacingAndGlyphs">FITC</text>
<text x="202.7" y="353.9" font-size="7.2" textLength="21.1" lengthAdjust="spacingAndGlyphs">5TGM1</text>
<path d="M256.1 368.6h0.55M250.7 366.6h0.55M247.5 367.2h0.55M253.8 366.7h0.55M258.7 369.5h0.55M260.1 369.6h0.55M254.7 364.1h0.55M263.8 364.5h0.55M254.2 367.9h0.55M252.7 367.1h0.55M256.1 364.9h0.55M252.0 366.7h0.55M256.8 363.5h0.55M255.9 366.9h0.55M252.5 367.9h0.55M250.9 369.5h0.55M253.1 369.8h0.55M255.7 366.8h0.55M251.0 369.0h0.55M251.8 373.6h0.55M256.8 367.2h0.55M255.5 368.8h0.55M256.9 367.8h0.55M258.3 366.1h0.55M260.7 361.8h0.55M250.0 368.4h0.55M255.3 361.8h0.55M251.5 364.3h0.55M259.6 368.6h0.55M250.0 362.3h0.55M255.9 362.7h0.55M253.4 364.7h0.55M255.6 368.4h0.55M253.1 364.9h0.55M256.3 371.7h0.55M256.8 365.4h0.55M258.5 366.2h0.55M250.9 368.7h0.55M260.8 363.0h0.55M257.9 362.7h0.55M255.1 366.2h0.55M254.3 366.2h0.55M257.6 365.0h0.55M254.7 365.6h0.55M256.3 364.5h0.55M258.0 367.5h0.55M253.5 362.5h0.55M254.5 369.8h0.55M257.5 366.6h0.55M262.0 371.5h0.55M257.1 371.0h0.55M254.6 365.4h0.55M256.2 360.6h0.55M255.5 365.0h0.55M259.8 368.4h0.55M260.5 365.2h0.55M260.3 367.1h0.55M257.2 367.9h0.55M251.3 369.5h0.55M253.9 368.6h0.55M255.3 363.5h0.55M254.4 367.5h0.55M254.4 372.0h0.55M259.4 366.9h0.55M254.2 371.2h0.55M255.6 370.3h0.55M251.0 360.3h0.55M257.9 369.5h0.55M254.9 366.0h0.55M256.9 368.2h0.55M255.2 366.6h0.55M256.2 370.0h0.55M257.8 358.4h0.55M256.6 365.6h0.55M259.0 368.9h0.55M253.7 366.3h0.55M247.8 366.2h0.55M251.8 367.0h0.55M253.1 370.5h0.55M259.7 365.4h0.55M252.5 370.7h0.55M251.0 365.5h0.55M254.2 367.3h0.55M255.6 363.7h0.55M258.3 367.8h0.55M256.5 371.6h0.55M261.6 367.4h0.55M254.1 365.7h0.55M255.0 363.2h0.55M253.1 364.9h0.55M257.1 368.9h0.55M247.4 361.5h0.55M253.4 363.1h0.55M255.3 361.0h0.55M254.7 367.2h0.55M256.7 365.2h0.55M256.8 369.0h0.55M254.3 363.2h0.55M253.7 367.5h0.55M256.3 361.2h0.55M250.5 361.4h0.55M261.3 367.9h0.55M256.0 362.8h0.55M248.5 373.0h0.55M257.4 358.7h0.55M260.7 367.8h0.55M255.3 367.4h0.55M258.4 360.2h0.55M256.3 362.5h0.55M254.1 365.9h0.55M254.0 364.2h0.55M256.0 365.3h0.55M256.3 368.9h0.55M252.6 365.9h0.55M252.6 369.1h0.55M257.8 369.8h0.55M258.9 366.9h0.55M252.1 364.1h0.55M259.4 366.9h0.55M258.0 364.7h0.55M254.7 372.7h0.55M258.6 361.5h0.55M253.1 367.0h0.55M258.9 369.6h0.55M258.2 370.4h0.55M257.7 369.2h0.55M252.5 362.7h0.55M253.7 370.6h0.55M259.8 363.1h0.55M254.5 366.8h0.55M257.3 367.6h0.55M260.3 367.4h0.55M254.7 365.8h0.55M259.0 365.7h0.55M257.1 365.2h0.55M251.6 359.7h0.55M254.5 364.0h0.55M258.1 365.4h0.55M252.4 368.9h0.55M254.0 373.2h0.55M253.9 366.8h0.55M252.9 371.4h0.55M256.4 365.8h0.55M255.1 359.9h0.55M259.5 366.6h0.55M259.2 363.9h0.55M260.1 364.5h0.55M255.5 372.9h0.55M253.8 366.6h0.55M254.9 366.9h0.55M255.9 366.1h0.55M256.8 365.2h0.55M259.8 368.7h0.55M251.7 364.9h0.55M254.3 369.6h0.55M249.1 370.1h0.55M249.0 364.6h0.55M252.6 365.4h0.55M258.0 369.5h0.55M255.1 365.9h0.55M252.2 370.3h0.55M253.8 375.1h0.55M250.3 364.4h0.55M257.7 372.3h0.55M254.4 367.9h0.55M253.4 367.2h0.55M248.5 368.6h0.55M253.7 367.9h0.55M255.0 363.5h0.55M250.3 363.4h0.55M255.3 368.8h0.55M259.1 369.6h0.55M262.2 369.7h0.55M261.3 369.1h0.55M256.5 361.1h0.55M258.6 366.1h0.55M254.1 362.3h0.55M259.5 366.5h0.55M254.0 364.0h0.55M255.1 368.0h0.55M257.4 366.9h0.55M256.1 366.7h0.55M254.0 370.2h0.55M255.0 364.7h0.55M261.0 363.6h0.55M253.9 366.9h0.55M254.8 366.3h0.55M258.6 369.7h0.55M251.0 372.5h0.55M251.5 363.3h0.55M257.6 363.3h0.55M251.5 369.2h0.55M257.1 367.8h0.55M260.0 369.8h0.55M253.9 365.1h0.55M256.8 365.2h0.55M256.3 369.3h0.55M256.3 362.1h0.55M260.8 366.3h0.55M256.5 361.3h0.55M255.3 362.5h0.55M260.6 365.0h0.55M250.9 366.1h0.55M252.4 366.7h0.55M252.3 361.1h0.55M254.8 365.6h0.55M252.8 368.7h0.55M258.2 366.2h0.55M255.1 367.7h0.55M258.4 367.1h0.55M251.7 368.6h0.55M263.2 368.6h0.55M256.5 364.8h0.55M250.4 368.2h0.55M257.3 368.0h0.55M255.9 370.6h0.55M255.0 360.6h0.55M254.9 367.1h0.55M258.0 368.3h0.55M257.7 368.0h0.55M256.4 362.9h0.55M254.4 369.7h0.55M260.8 358.1h0.55M254.9 365.2h0.55M258.2 360.3h0.55M253.6 367.1h0.55M252.8 361.1h0.55M261.5 365.7h0.55M255.6 368.5h0.55M261.6 364.3h0.55M254.9 365.5h0.55M258.5 369.5h0.55M260.6 365.1h0.55M251.4 364.5h0.55M249.1 367.6h0.55M248.6 367.9h0.55M251.9 367.9h0.55M260.2 366.2h0.55M254.9 366.7h0.55M253.3 367.6h0.55M254.6 367.0h0.55M252.7 368.2h0.55M256.5 363.8h0.55M255.1 362.1h0.55M250.7 363.0h0.55M256.7 365.3h0.55M255.2 367.4h0.55M254.4 366.0h0.55M253.5 373.4h0.55M252.7 368.5h0.55M254.6 372.3h0.55M251.6 366.2h0.55M256.6 365.0h0.55M262.4 367.4h0.55M256.7 361.2h0.55M256.7 362.7h0.55M257.2 367.7h0.55M255.0 364.8h0.55M252.7 364.5h0.55M260.4 364.0h0.55M254.4 367.8h0.55M250.9 365.2h0.55M259.1 367.3h0.55M257.2 368.8h0.55M255.3 359.1h0.55M257.9 368.3h0.55M247.6 365.9h0.55M260.0 362.9h0.55M258.5 371.1h0.55M255.0 365.7h0.55M252.0 368.6h0.55M256.1 368.3h0.55M255.2 366.7h0.55M253.4 369.9h0.55M254.9 370.5h0.55M258.3 364.2h0.55M251.7 369.8h0.55M256.7 365.4h0.55M258.8 360.1h0.55M257.2 365.4h0.55M257.8 364.7h0.55M253.8 368.7h0.55M256.6 362.0h0.55M257.1 368.7h0.55M249.9 363.5h0.55M251.6 363.4h0.55M253.1 372.5h0.55M252.1 363.5h0.55M254.5 370.7h0.55M254.0 369.5h0.55M258.7 365.2h0.55M256.6 369.7h0.55M256.1 371.6h0.55M256.6 371.5h0.55M252.1 367.3h0.55M247.5 362.0h0.55M253.5 365.2h0.55M254.6 368.2h0.55M250.6 361.1h0.55M257.8 367.5h0.55M258.4 369.2h0.55M256.4 364.9h0.55M257.0 363.6h0.55M251.0 365.5h0.55M262.7 363.5h0.55M259.7 366.0h0.55M261.0 364.9h0.55M251.5 364.5h0.55M254.7 368.3h0.55M253.0 367.2h0.55M263.1 366.6h0.55M257.5 374.8h0.55M252.8 366.5h0.55M254.2 367.4h0.55M252.7 365.6h0.55M257.7 366.5h0.55M249.0 370.1h0.55M256.6 372.6h0.55M252.6 367.6h0.55M252.3 369.0h0.55M253.5 370.6h0.55M255.7 359.6h0.55M251.6 368.6h0.55M257.8 369.7h0.55M257.0 365.1h0.55M255.7 366.7h0.55M255.4 369.7h0.55M252.3 365.5h0.55M259.6 366.1h0.55M257.1 364.8h0.55M255.5 370.6h0.55M260.6 366.6h0.55M253.2 371.3h0.55M249.1 365.9h0.55M257.7 374.0h0.55M258.8 366.1h0.55M255.1 366.3h0.55M252.2 365.2h0.55M256.4 361.2h0.55M252.7 357.1h0.55M258.4 366.9h0.55M249.9 361.8h0.55M253.0 371.7h0.55M256.9 363.0h0.55M253.6 361.3h0.55M252.2 361.0h0.55M261.2 368.7h0.55M259.6 367.9h0.55M252.8 369.6h0.55M256.9 364.2h0.55M249.9 366.4h0.55M251.3 365.6h0.55M248.6 360.7h0.55M258.5 368.2h0.55M255.8 365.6h0.55M255.9 363.4h0.55M257.8 371.5h0.55M253.3 361.6h0.55M255.3 361.0h0.55M261.8 366.2h0.55M256.7 367.1h0.55M253.6 364.1h0.55M251.7 372.8h0.55M255.5 369.9h0.55M260.2 365.5h0.55M253.6 365.2h0.55M256.5 363.3h0.55M258.5 365.7h0.55M252.8 368.7h0.55M260.0 363.6h0.55M254.7 365.9h0.55M257.0 369.0h0.55M254.9 363.5h0.55M253.3 369.3h0.55M261.4 367.1h0.55M252.6 374.5h0.55M259.1 364.1h0.55M251.1 363.5h0.55M265.1 370.5h0.55M252.0 364.0h0.55M254.1 362.3h0.55M257.2 363.0h0.55M254.5 368.3h0.55M254.5 369.6h0.55M253.6 370.2h0.55M253.1 364.6h0.55M250.4 367.5h0.55M257.6 366.5h0.55M260.1 368.5h0.55M256.5 361.2h0.55M254.7 367.6h0.55M251.3 371.2h0.55M256.4 371.3h0.55M251.2 372.2h0.55M259.9 366.9h0.55M254.1 371.7h0.55M252.0 365.8h0.55M259.0 366.2h0.55M252.6 362.7h0.55M253.7 370.5h0.55M264.4 363.3h0.55M251.2 368.5h0.55M254.7 365.1h0.55M254.8 370.8h0.55M257.9 364.0h0.55M257.0 362.5h0.55M259.0 359.9h0.55M253.8 369.4h0.55M261.0 368.1h0.55M248.7 365.8h0.55M258.4 368.5h0.55M256.6 364.6h0.55M248.9 364.9h0.55M255.8 364.3h0.55M252.4 367.7h0.55M254.2 367.0h0.55M258.9 364.1h0.55M258.6 362.8h0.55M258.2 367.8h0.55M257.0 368.8h0.55M256.0 360.8h0.55M260.9 367.2h0.55M256.0 366.6h0.55M256.6 365.7h0.55M250.8 362.6h0.55M261.2 368.4h0.55M251.7 371.7h0.55M256.3 362.8h0.55M252.7 364.3h0.55M259.1 368.9h0.55M254.5 365.7h0.55M252.9 366.8h0.55M251.8 369.3h0.55M255.0 369.5h0.55M260.5 367.4h0.55M258.2 356.5h0.55M252.2 367.3h0.55M252.4 370.0h0.55M254.2 365.9h0.55M248.3 368.7h0.55M253.6 370.7h0.55M257.0 366.3h0.55M258.2 365.6h0.55M252.6 366.3h0.55M254.5 370.0h0.55M253.0 363.0h0.55M259.8 369.4h0.55M254.1 366.9h0.55M249.9 371.9h0.55M253.5 359.4h0.55M282.8 345.9h0.55M284.0 345.4h0.55M283.4 344.7h0.55M282.8 344.6h0.55M287.0 345.1h0.55M283.2 341.3h0.55M282.9 346.0h0.55M284.1 342.2h0.55M282.9 347.8h0.55M282.7 344.6h0.55M283.9 344.8h0.55M282.1 343.8h0.55M280.2 345.3h0.55M283.9 346.1h0.55M281.7 345.7h0.55M281.3 342.1h0.55M284.0 342.7h0.55M280.7 344.4h0.55M282.4 347.7h0.55M284.6 348.7h0.55M283.3 342.1h0.55M280.9 345.5h0.55M280.7 345.8h0.55M284.7 346.0h0.55M280.2 347.0h0.55M285.8 346.8h0.55M286.8 343.5h0.55M282.8 346.5h0.55M284.6 347.6h0.55M282.7 343.7h0.55M282.6 343.7h0.55M283.1 344.4h0.55M284.2 343.7h0.55M284.5 343.6h0.55M285.0 347.2h0.55M282.9 344.6h0.55M283.5 345.8h0.55M281.3 346.2h0.55M280.0 342.9h0.55M281.0 345.3h0.55M281.6 340.8h0.55M284.7 343.9h0.55M282.4 345.6h0.55M283.5 346.0h0.55M280.9 345.5h0.55M284.5 346.3h0.55M285.4 342.4h0.55M284.9 342.4h0.55M281.1 345.3h0.55M286.8 347.1h0.55M282.8 345.1h0.55M284.8 342.8h0.55M282.4 343.9h0.55M284.9 346.0h0.55M283.5 347.2h0.55M282.6 343.3h0.55M284.5 341.7h0.55M283.4 344.9h0.55M280.4 345.3h0.55M281.6 347.4h0.55M284.2 346.6h0.55M284.6 345.0h0.55M284.8 346.1h0.55M283.9 346.9h0.55M286.2 342.0h0.55M282.2 342.4h0.55M281.0 346.2h0.55M281.4 344.6h0.55M282.1 346.7h0.55M285.6 345.2h0.55M281.9 344.0h0.55M282.7 342.1h0.55M281.0 345.3h0.55M283.4 345.3h0.55M283.5 343.7h0.55M282.8 343.2h0.55M283.4 341.4h0.55M283.8 345.4h0.55M282.3 345.3h0.55M284.7 345.1h0.55M286.1 347.2h0.55M283.2 344.6h0.55M281.1 343.1h0.55M283.3 345.2h0.55M283.6 348.0h0.55M283.7 345.7h0.55M282.6 343.0h0.55M282.3 344.8h0.55M284.2 346.2h0.55M281.4 344.8h0.55M284.2 342.4h0.55M282.6 342.4h0.55M281.9 347.1h0.55M283.6 348.9h0.55M281.3 346.6h0.55M282.7 342.1h0.55M283.3 345.4h0.55M282.6 347.2h0.55M282.5 346.3h0.55M283.0 344.1h0.55M283.6 346.9h0.55M285.3 347.1h0.55M280.3 342.6h0.55M282.6 347.1h0.55M280.0 345.2h0.55M281.1 346.4h0.55M284.7 344.5h0.55M285.2 346.3h0.55M282.8 347.6h0.55M286.4 344.9h0.55M283.4 345.6h0.55M284.3 344.3h0.55M282.7 347.1h0.55M282.8 347.4h0.55M283.5 348.1h0.55M285.4 343.0h0.55M284.1 344.6h0.55M282.1 346.6h0.55M284.7 346.0h0.55M284.8 347.9h0.55M283.6 346.1h0.55M283.8 347.7h0.55M281.6 344.9h0.55M281.1 344.0h0.55M283.6 344.4h0.55M281.8 344.6h0.55M284.8 348.7h0.55M283.2 343.7h0.55M283.4 343.9h0.55M283.6 346.3h0.55M286.1 343.7h0.55M282.8 343.5h0.55M284.8 343.3h0.55M285.1 348.3h0.55M280.3 347.0h0.55M286.7 345.2h0.55M283.0 348.7h0.55M282.7 344.9h0.55M281.6 346.2h0.55M285.2 343.6h0.55M284.4 345.9h0.55M285.6 344.9h0.55M281.8 345.5h0.55M283.8 344.6h0.55M281.5 346.2h0.55M280.5 343.0h0.55M282.9 342.6h0.55M283.9 342.2h0.55M282.7 345.8h0.55M285.2 343.5h0.55M283.5 347.2h0.55M281.8 345.7h0.55M284.9 347.0h0.55M283.0 345.7h0.55M281.9 346.0h0.55M283.7 344.1h0.55M286.9 346.2h0.55M281.7 345.1h0.55M283.8 343.2h0.55M281.6 346.4h0.55M282.9 344.9h0.55M284.7 344.6h0.55M280.7 343.1h0.55M282.8 344.7h0.55M282.4 343.5h0.55M280.2 344.6h0.55M283.7 345.5h0.55M284.1 350.3h0.55M281.2 344.0h0.55M283.3 340.7h0.55M284.2 344.9h0.55M288.2 344.9h0.55M282.9 345.1h0.55M282.7 343.8h0.55M284.8 345.6h0.55M283.6 344.6h0.55M280.0 344.2h0.55M279.4 343.9h0.55M283.6 344.6h0.55M283.2 347.9h0.55M283.9 346.8h0.55M282.5 344.5h0.55M280.8 347.7h0.55M284.9 344.9h0.55M283.8 345.5h0.55M285.2 346.0h0.55M282.9 343.2h0.55M279.1 340.8h0.55M282.6 347.2h0.55M281.9 344.6h0.55M284.0 347.9h0.55M279.3 344.8h0.55M282.2 346.5h0.55M282.4 341.9h0.55M279.2 342.0h0.55M282.4 343.1h0.55M280.8 348.6h0.55M280.6 344.5h0.55M285.0 345.0h0.55M279.8 345.0h0.55M283.0 347.4h0.55M281.7 342.3h0.55M282.4 343.0h0.55M283.3 346.2h0.55M282.9 344.9h0.55M281.0 342.5h0.55M283.5 347.5h0.55M284.3 349.4h0.55M281.4 341.2h0.55M282.9 345.5h0.55M281.6 341.6h0.55M285.2 341.6h0.55M283.8 346.5h0.55M285.1 344.9h0.55M284.5 344.6h0.55M284.2 347.4h0.55M283.0 341.9h0.55M283.7 339.6h0.55M285.3 343.9h0.55M282.1 346.8h0.55M284.4 345.9h0.55M282.1 346.3h0.55M283.2 344.4h0.55M281.7 345.9h0.55M281.8 347.4h0.55M280.1 343.2h0.55M283.3 341.9h0.55M286.0 342.5h0.55M282.0 344.3h0.55M283.3 347.5h0.55M282.3 344.1h0.55M285.1 345.0h0.55M284.3 345.1h0.55M282.2 343.9h0.55M281.4 343.6h0.55M283.3 344.9h0.55M284.3 345.2h0.55M283.7 343.4h0.55M280.4 346.8h0.55M285.9 344.5h0.55M284.4 343.4h0.55M281.5 345.7h0.55M284.4 346.0h0.55M284.8 345.2h0.55M282.8 345.2h0.55M281.6 344.4h0.55M280.3 342.9h0.55M284.3 344.0h0.55M279.3 342.9h0.55M284.3 344.9h0.55M284.4 350.9h0.55M283.7 354.3h0.55M283.5 359.0h0.55M284.4 350.2h0.55M283.7 358.8h0.55M282.0 348.6h0.55M284.0 352.8h0.55M282.0 353.3h0.55M282.8 354.2h0.55M283.6 359.5h0.55M285.0 358.5h0.55M283.2 350.8h0.55M283.0 348.5h0.55M283.2 352.4h0.55M283.9 351.6h0.55M283.9 347.9h0.55M283.1 347.0h0.55M282.8 357.6h0.55M282.5 355.7h0.55M283.7 351.7h0.55M283.4 359.1h0.55M283.7 354.3h0.55M283.9 359.9h0.55M283.2 354.9h0.55M284.4 351.4h0.55M284.0 357.7h0.55M283.3 350.6h0.55M283.0 347.3h0.55M283.1 349.1h0.55M281.5 350.9h0.55M284.9 353.2h0.55M283.1 353.8h0.55M283.5 353.6h0.55M284.3 351.6h0.55M284.7 353.5h0.55M282.9 352.9h0.55M282.3 347.7h0.55M283.6 348.3h0.55M282.6 357.3h0.55M282.8 354.2h0.55M282.9 350.6h0.55M283.2 359.4h0.55M284.1 357.8h0.55M284.5 358.0h0.55M284.6 350.7h0.55M284.5 353.1h0.55M283.3 357.6h0.55M281.7 360.2h0.55M283.5 355.1h0.55M283.7 357.2h0.55M283.4 347.6h0.55M283.6 355.9h0.55M282.9 353.8h0.55M283.2 358.4h0.55M284.0 356.6h0.55M282.3 347.5h0.55M285.7 351.1h0.55M283.8 355.2h0.55M283.2 357.6h0.55M283.3 353.4h0.55M282.9 350.8h0.55M283.7 345.6h0.55M283.2 347.4h0.55M284.0 356.3h0.55M284.0 350.1h0.55M282.4 352.5h0.55M284.0 348.4h0.55M283.5 354.1h0.55M284.3 357.1h0.55M283.7 346.9h0.55M284.8 355.8h0.55M283.9 359.1h0.55M283.0 348.2h0.55M284.2 358.0h0.55M283.4 360.1h0.55M284.2 353.5h0.55M285.2 354.1h0.55M283.9 355.4h0.55M284.1 351.3h0.55M284.8 346.3h0.55M283.1 348.1h0.55M283.2 358.1h0.55M284.2 354.0h0.55M282.8 346.9h0.55M285.0 358.1h0.55M283.8 354.2h0.55M284.0 354.9h0.55M283.4 356.8h0.55M283.6 356.7h0.55M283.4 359.1h0.55M283.9 353.3h0.55M284.2 356.9h0.55M284.2 357.9h0.55M283.5 356.6h0.55M283.0 358.8h0.55M284.4 359.2h0.55M282.2 351.0h0.55M284.9 359.7h0.55M282.1 350.5h0.55M283.1 348.1h0.55M281.6 350.3h0.55M283.2 357.7h0.55M283.3 354.2h0.55M282.6 346.3h0.55M282.8 353.4h0.55M283.9 346.1h0.55M282.8 352.2h0.55M284.7 350.6h0.55M282.3 357.1h0.55M282.6 345.9h0.55M283.6 358.2h0.55M282.8 355.6h0.55M283.2 355.9h0.55M284.1 348.3h0.55M282.3 350.2h0.55M282.1 350.1h0.55M282.4 355.0h0.55M285.8 350.4h0.55M283.6 357.5h0.55M283.1 352.0h0.55M280.1 371.6h0.55M279.6 377.0h0.55M277.8 364.7h0.55M286.6 365.2h0.55M280.2 369.9h0.55M286.2 373.3h0.55M286.8 373.6h0.55M279.9 363.2h0.55M271.1 366.8h0.55M274.7 363.9h0.55M280.2 375.3h0.55M278.4 373.2h0.55M275.1 367.1h0.55M280.2 363.4h0.55M281.6 372.1h0.55M274.5 375.9h0.55M283.4 372.5h0.55M276.7 370.1h0.55M280.0 376.9h0.55M280.2 365.2h0.55M284.1 370.6h0.55M276.5 370.8h0.55M277.1 367.3h0.55M278.1 374.7h0.55M284.9 376.0h0.55M280.7 361.2h0.55M284.2 361.3h0.55M284.7 367.4h0.55M276.9 367.1h0.55M282.6 374.2h0.55M285.5 365.8h0.55M287.0 367.0h0.55M278.4 370.4h0.55M271.0 369.6h0.55M273.6 364.2h0.55M268.6 370.6h0.55M269.3 372.4h0.55M280.3 372.6h0.55M274.1 374.5h0.55M285.0 371.8h0.55M272.8 375.2h0.55M277.5 365.7h0.55M274.0 366.6h0.55M277.0 374.5h0.55M272.3 368.9h0.55M270.2 363.4h0.55M276.6 367.3h0.55M273.6 374.4h0.55M268.3 361.8h0.55M269.4 361.2h0.55M274.4 365.1h0.55M282.2 366.4h0.55M270.1 369.0h0.55M285.9 369.3h0.55M271.1 373.9h0.55M269.7 365.1h0.55M282.2 372.5h0.55M277.7 367.5h0.55M269.4 369.1h0.55M276.3 363.5h0.55M281.8 364.9h0.55M272.9 366.1h0.55M278.6 369.3h0.55M282.1 367.6h0.55M276.1 367.7h0.55M268.1 375.4h0.55M273.7 373.2h0.55M282.5 374.5h0.55M281.4 375.0h0.55M273.4 372.0h0.55M271.1 377.0h0.55M286.1 367.7h0.55M279.2 364.9h0.55M279.7 371.2h0.55M269.2 362.1h0.55M285.1 361.5h0.55M276.4 372.5h0.55M272.7 365.7h0.55M282.7 367.4h0.55M270.1 369.7h0.55M258.6 357.4h0.55M284.3 355.3h0.55M280.9 357.5h0.55M287.8 367.8h0.55M252.8 374.8h0.55M255.5 356.2h0.55M283.5 376.4h0.55M247.1 375.7h0.55M266.4 364.7h0.55M245.4 375.3h0.55M249.8 372.2h0.55M263.5 356.8h0.55M287.0 373.5h0.55M280.3 353.9h0.55M269.8 353.9h0.55M269.5 375.5h0.55M271.1 373.8h0.55M259.7 364.6h0.55M262.5 367.8h0.55M275.3 358.6h0.55M266.7 371.2h0.55M256.9 358.2h0.55M276.7 375.3h0.55M253.5 368.9h0.55M254.5 350.4h0.55M248.8 354.4h0.55M289.8 377.0h0.55M252.6 362.3h0.55M281.0 372.3h0.55M285.4 353.4h0.55M261.9 367.3h0.55M263.2 357.5h0.55M262.1 359.9h0.55M286.1 370.0h0.55M261.1 365.2h0.55M261.1 367.7h0.55M281.8 360.5h0.55M259.0 368.6h0.55M246.6 359.0h0.55M254.8 363.8h0.55M263.4 356.3h0.55M253.9 368.4h0.55M270.3 352.0h0.55M285.9 351.5h0.55M258.9 355.3h0.55M270.8 353.6h0.55M248.9 351.4h0.55M268.4 351.7h0.55M271.4 367.3h0.55M274.6 365.5h0.55M251.9 377.2h0.55M269.1 350.7h0.55M276.1 351.6h0.55M260.0 362.8h0.55M281.7 367.1h0.55M280.7 358.1h0.55M283.9 360.5h0.55M281.8 357.2h0.55M259.2 352.7h0.55M282.2 369.2h0.55" fill="none" stroke="#111" stroke-width="0.55" stroke-opacity="0.6"/>
<ellipse cx="255.4" cy="366.5" rx="4.5" ry="4.5" fill="url(#bg16)"/>
<ellipse cx="283.1" cy="345" rx="2.5" ry="2.6" fill="url(#bg17)"/>
<rect x="243.5" y="331.5" width="48.3" height="48.9" fill="none" stroke="#b8b8b8" stroke-width="0.6"/>
<path d="M243.5,372.25h1.2M243.5,364.1h1.2M243.5,355.95h1.2M243.5,347.8h1.2M243.5,339.65h1.2M249.54,380.4v-1.2M255.57,380.4v-1.2M261.61,380.4v-1.2M267.65,380.4v-1.2M273.69,380.4v-1.2M279.73,380.4v-1.2M285.76,380.4v-1.2" fill="none" stroke="#888" stroke-width="0.5"/>
<rect x="269.2" y="360.7" width="17.7" height="16.6" fill="none" stroke="#cc4458" stroke-width="1.05"/>
<path d="M286.9,377.3 L301.7,377.3" fill="none" stroke="#cc4458" stroke-width="0.9"/>
<path d="M301,375.6 L304.2,377.3 L301,379 Z" fill="#cc4458" stroke="none" stroke-width="1"/>
<text x="239.9" y="355.4" font-size="7.3" text-anchor="middle" textLength="40.8" lengthAdjust="spacingAndGlyphs" transform="rotate(-90 239.9 355.4)">Ly6G PE-Cy5</text>
<text x="269.7" y="389" font-size="7.3" text-anchor="middle" textLength="34.9" lengthAdjust="spacingAndGlyphs">CD11b APC</text>
<path d="M324.7 361.9h0.55M319.8 368.6h0.55M326.1 363.7h0.55M323.6 374.1h0.55M323.3 354.3h0.55M325.5 366.6h0.55M322.4 365.9h0.55M317.2 367.4h0.55M327.3 360.3h0.55M322.3 361.7h0.55M324.7 370.3h0.55M327.5 361.7h0.55M324.9 369.0h0.55M324.1 361.7h0.55M330.3 363.3h0.55M332.7 361.3h0.55M325.7 367.1h0.55M327.9 364.5h0.55M323.0 363.2h0.55M323.7 363.7h0.55M332.5 358.4h0.55M329.0 365.8h0.55M320.4 371.8h0.55M328.0 365.9h0.55M327.9 368.8h0.55M328.7 361.0h0.55M324.3 361.8h0.55M323.7 362.1h0.55M328.0 368.6h0.55M326.1 369.6h0.55M331.8 365.8h0.55M320.0 355.7h0.55M331.6 365.1h0.55M321.0 363.6h0.55M328.0 364.2h0.55M321.5 366.5h0.55M320.7 365.9h0.55M329.6 364.8h0.55M324.5 368.4h0.55M335.3 360.1h0.55M327.6 357.9h0.55M330.4 356.0h0.55M326.1 369.1h0.55M329.5 348.9h0.55M323.5 355.0h0.55M325.7 358.5h0.55M336.6 366.2h0.55M322.7 364.9h0.55M327.3 368.9h0.55M333.0 365.3h0.55M321.5 352.4h0.55M320.4 361.9h0.55M330.3 357.3h0.55M332.5 366.0h0.55M327.3 368.2h0.55M323.9 370.5h0.55M327.4 361.7h0.55M323.6 356.5h0.55M325.6 367.5h0.55M325.3 363.2h0.55M334.4 374.7h0.55M321.2 372.5h0.55M326.9 364.5h0.55M323.5 364.8h0.55M328.3 366.0h0.55M324.5 363.1h0.55M329.8 370.3h0.55M325.2 367.6h0.55M330.2 365.0h0.55M323.0 366.2h0.55M327.4 359.3h0.55M327.2 364.4h0.55M324.0 373.2h0.55M328.3 360.2h0.55M332.1 361.2h0.55M322.7 360.8h0.55M331.6 357.4h0.55M328.4 366.1h0.55M324.6 368.9h0.55M331.5 362.5h0.55M327.0 367.6h0.55M327.3 370.4h0.55M330.3 363.7h0.55M328.0 362.4h0.55M329.9 360.1h0.55M326.9 358.9h0.55M337.3 361.9h0.55M327.3 366.6h0.55M319.9 374.0h0.55M320.0 370.2h0.55M325.4 368.6h0.55M329.8 364.6h0.55M331.4 361.4h0.55M328.1 362.7h0.55M324.1 360.8h0.55M328.6 371.7h0.55M323.4 363.7h0.55M324.0 367.5h0.55M318.4 368.7h0.55M323.9 361.2h0.55M328.1 365.0h0.55M328.3 369.6h0.55M321.0 372.0h0.55M329.3 374.7h0.55M333.0 364.6h0.55M318.7 369.0h0.55M333.6 365.7h0.55M326.7 359.0h0.55M327.3 357.8h0.55M323.6 364.0h0.55M328.8 360.9h0.55M326.8 364.5h0.55M328.2 366.9h0.55M329.1 362.4h0.55M327.7 361.4h0.55M321.8 363.9h0.55M327.0 355.3h0.55M330.4 364.9h0.55M320.3 362.5h0.55M323.2 355.6h0.55M319.5 369.4h0.55M318.4 378.0h0.55M333.1 369.3h0.55M329.2 369.0h0.55M332.8 357.8h0.55M333.8 358.2h0.55M325.5 353.1h0.55M325.6 357.2h0.55M336.8 362.4h0.55M330.9 360.8h0.55M331.1 365.4h0.55M325.4 367.7h0.55M325.2 359.3h0.55M318.2 360.4h0.55M329.6 372.5h0.55M325.0 362.5h0.55M332.7 361.6h0.55M328.5 364.0h0.55M316.4 362.4h0.55M328.4 364.4h0.55M325.8 358.8h0.55M327.6 362.9h0.55M322.7 365.1h0.55M328.1 374.0h0.55M331.8 358.4h0.55M330.5 355.9h0.55M316.7 364.9h0.55M335.4 364.6h0.55M324.0 367.6h0.55M317.9 367.2h0.55M322.7 360.4h0.55M325.3 361.5h0.55M328.4 358.1h0.55M328.7 365.9h0.55M330.6 366.1h0.55M330.1 368.2h0.55M332.6 367.3h0.55M332.2 356.4h0.55M325.9 371.8h0.55M324.4 369.0h0.55M331.7 368.9h0.55M324.4 366.7h0.55M326.4 367.8h0.55M318.6 367.4h0.55M332.2 362.4h0.55M331.5 369.4h0.55M327.7 362.3h0.55M324.6 359.9h0.55M325.1 364.4h0.55M331.3 359.7h0.55M324.0 365.4h0.55M326.1 370.8h0.55M327.1 371.1h0.55M327.4 352.2h0.55M326.2 359.6h0.55M327.1 360.2h0.55M331.0 361.6h0.55M325.5 374.8h0.55M325.6 362.9h0.55M325.5 368.5h0.55M328.1 364.2h0.55M332.2 359.7h0.55M330.3 367.1h0.55M328.4 361.6h0.55M326.4 370.0h0.55M315.1 376.2h0.55M322.9 370.5h0.55M329.4 365.6h0.55M329.4 361.4h0.55M334.2 362.0h0.55M330.7 362.1h0.55M325.6 370.1h0.55M322.8 366.0h0.55M323.4 358.5h0.55M331.4 362.9h0.55M319.0 367.3h0.55M337.3 365.4h0.55M326.1 366.6h0.55M325.8 366.1h0.55M326.5 365.6h0.55M325.0 369.3h0.55M321.8 358.5h0.55M319.7 364.2h0.55M327.6 367.0h0.55M330.5 356.0h0.55M320.2 370.1h0.55M334.9 364.4h0.55M326.5 369.6h0.55M334.3 366.3h0.55M328.0 362.7h0.55M324.6 363.4h0.55M321.8 368.2h0.55M331.6 361.4h0.55M330.5 366.3h0.55M326.5 364.5h0.55M333.6 358.4h0.55M324.0 363.8h0.55M323.7 368.5h0.55M329.7 362.2h0.55M329.9 355.0h0.55M327.5 375.4h0.55M331.3 358.1h0.55M330.9 360.0h0.55M329.7 366.7h0.55M320.8 375.6h0.55M321.0 364.8h0.55M330.1 366.2h0.55M328.0 362.7h0.55M330.6 364.9h0.55M325.6 370.3h0.55M334.0 359.1h0.55M325.3 360.3h0.55M321.8 367.4h0.55M331.3 356.2h0.55M326.1 366.5h0.55M324.5 369.6h0.55M329.7 363.3h0.55M332.3 364.2h0.55M331.9 365.5h0.55M326.0 372.1h0.55M324.1 367.5h0.55M325.7 361.2h0.55M321.5 372.2h0.55M333.0 367.4h0.55M318.5 371.0h0.55M327.6 367.2h0.55M328.3 366.9h0.55M329.2 368.9h0.55M327.8 361.8h0.55M317.5 369.8h0.55M317.9 365.5h0.55M327.0 364.0h0.55M323.8 374.1h0.55M320.9 372.7h0.55M325.8 364.5h0.55M327.4 366.6h0.55M319.5 369.9h0.55M326.4 364.7h0.55M327.2 364.0h0.55M331.9 358.6h0.55M323.8 368.2h0.55M326.2 369.2h0.55M314.6 368.3h0.55M327.4 372.7h0.55M331.6 358.5h0.55M331.8 358.8h0.55M328.5 362.3h0.55M321.0 370.7h0.55M329.6 362.1h0.55M323.4 362.4h0.55M326.5 370.0h0.55M325.1 365.0h0.55M325.3 359.5h0.55M325.4 362.3h0.55M332.3 363.3h0.55M332.7 362.0h0.55M327.8 370.8h0.55M329.1 364.1h0.55M329.2 365.3h0.55M332.1 359.8h0.55M325.1 361.2h0.55M332.4 365.5h0.55M325.8 367.7h0.55M335.5 365.0h0.55M326.7 360.3h0.55M329.6 375.7h0.55M332.3 361.1h0.55M320.3 371.7h0.55M323.4 364.1h0.55M336.6 359.0h0.55M326.1 377.2h0.55M334.5 350.7h0.55M330.5 362.1h0.55M327.9 361.4h0.55M328.4 367.1h0.55M325.8 368.8h0.55M330.4 357.9h0.55M335.0 362.2h0.55M330.9 369.7h0.55M327.0 375.8h0.55M323.2 361.2h0.55M325.6 373.7h0.55M334.1 365.6h0.55M322.9 364.4h0.55M326.2 365.4h0.55M322.1 366.7h0.55M325.0 367.4h0.55M322.9 363.7h0.55M327.7 367.4h0.55M327.4 365.2h0.55M326.4 361.9h0.55M325.2 361.2h0.55M329.4 365.5h0.55M326.4 360.8h0.55M325.3 364.4h0.55M331.5 361.2h0.55M328.0 361.1h0.55M329.9 362.2h0.55M323.4 357.1h0.55M325.6 363.5h0.55M332.1 356.7h0.55M324.4 359.8h0.55M330.4 364.4h0.55M325.4 368.0h0.55M327.7 362.0h0.55M326.8 367.4h0.55M331.1 371.0h0.55M328.3 364.3h0.55M327.5 360.6h0.55M326.3 367.4h0.55M325.4 363.8h0.55M321.5 369.4h0.55M331.6 362.7h0.55M327.8 365.1h0.55M327.3 363.4h0.55M331.3 373.1h0.55M331.4 364.2h0.55M325.5 359.5h0.55M331.5 361.9h0.55M329.5 361.2h0.55M316.4 378.2h0.55M321.8 369.3h0.55M332.1 355.0h0.55M327.8 363.7h0.55M320.4 375.1h0.55M324.9 367.7h0.55M327.1 373.1h0.55M323.1 364.2h0.55M328.3 367.3h0.55M327.0 369.7h0.55M332.0 364.5h0.55M321.1 362.5h0.55M320.0 365.1h0.55M330.9 370.4h0.55M327.9 368.2h0.55M325.4 363.8h0.55M330.2 355.7h0.55M326.2 360.9h0.55M328.1 366.7h0.55M327.9 370.4h0.55M327.5 370.1h0.55M328.1 354.8h0.55M326.9 360.5h0.55M325.5 354.2h0.55M326.0 363.4h0.55M322.2 365.3h0.55M330.5 363.5h0.55M330.0 359.3h0.55M334.4 357.4h0.55M321.7 367.5h0.55M329.6 369.5h0.55M330.2 367.7h0.55M320.4 368.0h0.55M324.4 355.7h0.55M333.4 356.6h0.55M329.8 367.3h0.55M325.7 360.5h0.55M332.7 362.3h0.55M327.7 364.8h0.55M328.5 366.8h0.55M327.8 368.7h0.55M326.9 358.4h0.55M323.6 368.4h0.55M323.2 367.0h0.55M330.3 360.3h0.55M326.9 358.8h0.55M321.7 368.8h0.55M328.0 359.1h0.55M325.2 362.1h0.55M325.6 362.2h0.55M324.9 375.6h0.55M324.9 359.3h0.55M325.3 370.8h0.55M326.1 367.9h0.55M325.6 363.2h0.55M333.2 363.3h0.55M324.6 368.7h0.55M321.0 360.0h0.55M325.8 363.1h0.55M327.4 358.7h0.55M328.8 362.9h0.55M325.9 366.4h0.55M325.5 369.8h0.55M323.3 367.3h0.55M326.3 354.4h0.55M322.8 363.9h0.55M328.9 357.9h0.55M324.5 363.2h0.55M320.8 364.5h0.55M331.1 367.1h0.55M322.5 362.7h0.55M323.9 355.9h0.55M336.5 357.3h0.55M328.2 361.7h0.55M325.7 358.0h0.55M322.4 365.5h0.55M324.0 368.7h0.55M324.6 367.1h0.55M329.1 358.1h0.55M332.1 361.5h0.55M337.4 357.8h0.55M331.3 366.0h0.55M320.4 359.9h0.55M320.6 370.7h0.55M326.9 368.7h0.55M322.2 369.8h0.55M326.8 367.3h0.55M329.6 364.0h0.55M332.7 355.8h0.55M325.3 369.8h0.55M322.5 369.6h0.55M327.1 365.8h0.55M316.6 364.5h0.55M329.8 357.9h0.55M330.3 366.4h0.55M314.3 369.9h0.55M322.0 361.6h0.55M320.0 368.5h0.55M332.3 373.9h0.55M333.1 359.9h0.55M319.9 372.1h0.55M330.2 363.5h0.55M321.0 361.3h0.55M325.8 371.8h0.55M333.4 357.6h0.55M319.3 366.9h0.55M330.4 359.7h0.55M327.4 368.4h0.55M319.7 375.7h0.55M333.0 362.5h0.55M328.1 366.6h0.55M323.8 369.1h0.55M327.2 360.9h0.55M326.5 363.4h0.55M324.8 368.6h0.55M330.3 367.5h0.55M324.9 368.3h0.55M325.7 372.7h0.55M322.3 371.0h0.55M324.6 357.6h0.55M330.0 357.3h0.55M323.1 365.7h0.55M328.7 363.3h0.55M328.6 365.1h0.55M319.8 372.9h0.55M333.0 359.5h0.55M329.9 362.0h0.55M323.3 364.6h0.55M318.5 364.9h0.55M329.7 368.0h0.55M328.9 364.8h0.55M324.1 370.0h0.55M335.0 363.0h0.55M334.4 362.2h0.55M325.9 369.0h0.55M327.4 363.3h0.55M324.6 366.0h0.55M326.8 357.3h0.55M329.0 371.5h0.55M328.4 366.1h0.55M329.2 367.7h0.55M330.2 361.8h0.55M322.1 368.5h0.55M328.7 361.4h0.55M325.8 367.1h0.55M333.6 359.2h0.55M323.0 366.0h0.55M323.5 363.7h0.55M322.9 371.5h0.55M328.8 364.6h0.55M333.7 376.3h0.55M329.5 367.5h0.55M322.9 368.8h0.55M324.3 358.8h0.55M328.6 361.3h0.55M333.1 361.0h0.55M325.8 361.2h0.55M326.3 364.5h0.55M329.6 360.1h0.55M323.9 361.0h0.55M324.1 363.9h0.55M326.3 361.8h0.55M330.8 359.8h0.55M328.0 363.5h0.55M328.5 364.3h0.55M325.1 365.2h0.55M324.7 364.8h0.55M331.8 366.5h0.55M332.7 358.6h0.55M332.0 364.6h0.55M329.7 362.3h0.55M334.3 357.7h0.55M328.0 358.1h0.55M325.7 366.8h0.55M328.0 365.4h0.55M332.5 357.8h0.55M319.6 372.0h0.55M320.6 365.6h0.55M336.7 364.0h0.55M326.4 369.0h0.55M323.4 369.3h0.55M325.3 362.1h0.55M322.8 363.5h0.55M328.0 372.3h0.55M331.0 367.2h0.55M326.4 372.4h0.55M326.5 371.2h0.55M321.8 369.3h0.55M322.5 364.9h0.55M326.2 356.7h0.55M328.6 364.3h0.55M319.7 366.9h0.55M326.5 357.7h0.55M324.2 370.2h0.55M325.2 364.4h0.55M326.5 363.8h0.55M322.4 365.7h0.55M318.7 368.5h0.55M325.7 359.1h0.55M320.6 368.0h0.55M325.1 362.5h0.55M324.6 366.5h0.55M331.3 361.0h0.55M318.9 363.8h0.55M323.0 368.0h0.55M331.6 364.3h0.55M323.4 370.2h0.55M325.1 360.0h0.55M326.1 374.0h0.55M326.8 361.5h0.55M330.1 359.8h0.55M331.7 365.9h0.55M321.4 364.9h0.55M325.4 361.6h0.55M328.5 362.9h0.55M334.1 363.0h0.55M330.9 367.3h0.55M328.8 367.5h0.55M324.1 370.2h0.55M331.0 367.7h0.55M324.6 363.0h0.55M331.8 362.3h0.55M337.6 362.7h0.55M322.1 369.3h0.55M328.0 355.7h0.55M324.5 355.8h0.55M338.0 355.1h0.55M323.5 364.4h0.55M323.6 371.3h0.55M325.9 358.7h0.55M330.1 364.8h0.55M321.0 371.0h0.55M321.4 362.7h0.55M333.1 359.9h0.55M327.2 360.8h0.55M325.7 356.0h0.55M325.7 361.6h0.55M330.8 361.1h0.55M323.4 363.8h0.55M319.0 369.5h0.55M319.5 362.0h0.55M328.0 362.7h0.55M335.5 355.0h0.55M328.4 371.9h0.55M324.3 359.8h0.55M331.2 371.1h0.55M323.7 369.5h0.55M329.8 364.0h0.55M330.4 362.0h0.55M329.7 362.3h0.55M326.3 360.0h0.55M326.8 364.1h0.55M323.2 362.8h0.55M325.3 371.4h0.55M328.9 366.7h0.55M332.5 365.5h0.55M334.0 368.1h0.55M330.0 362.9h0.55M327.5 363.9h0.55M323.9 358.9h0.55M328.7 357.9h0.55M329.9 371.1h0.55M327.4 360.2h0.55M324.3 368.2h0.55M326.6 362.8h0.55M328.1 359.0h0.55M322.7 367.9h0.55M324.0 368.5h0.55M325.0 365.6h0.55M326.3 370.4h0.55M325.8 365.3h0.55M322.3 367.0h0.55M326.3 366.1h0.55M318.5 370.6h0.55M327.3 365.8h0.55M328.6 368.4h0.55M322.9 363.8h0.55M328.0 357.5h0.55M336.2 352.0h0.55M329.2 361.5h0.55M329.7 370.1h0.55M334.8 358.3h0.55M327.3 361.1h0.55M321.3 367.3h0.55M324.4 360.1h0.55M325.6 362.4h0.55M322.2 367.2h0.55M329.2 365.3h0.55M324.1 361.7h0.55M317.4 371.3h0.55M331.1 359.1h0.55M321.3 361.5h0.55M332.8 361.4h0.55M325.2 365.5h0.55M327.0 363.1h0.55M326.3 367.6h0.55M330.9 358.1h0.55M326.4 364.4h0.55M327.7 374.7h0.55M329.8 366.7h0.55M326.6 367.1h0.55M332.0 367.9h0.55M323.6 366.6h0.55M328.5 359.2h0.55M325.6 363.1h0.55M330.7 363.3h0.55M335.3 363.6h0.55M325.2 366.4h0.55M327.4 360.9h0.55M328.5 357.9h0.55M327.8 362.2h0.55M327.4 361.3h0.55M334.2 358.8h0.55M330.3 363.5h0.55M331.8 359.7h0.55M321.7 369.6h0.55M331.3 365.7h0.55M333.1 362.3h0.55M323.3 368.2h0.55M319.8 366.0h0.55M329.5 369.5h0.55M325.3 364.2h0.55M321.3 366.2h0.55M324.1 365.7h0.55M323.9 367.7h0.55M326.6 361.7h0.55M329.4 365.9h0.55M325.9 364.1h0.55M330.4 365.4h0.55M326.3 373.3h0.55M325.0 359.7h0.55M324.3 366.5h0.55M319.7 375.6h0.55M330.8 358.9h0.55M328.6 358.4h0.55M326.9 363.6h0.55M333.4 354.0h0.55M324.9 357.2h0.55M325.0 363.9h0.55M327.0 369.0h0.55M323.2 363.6h0.55M333.1 362.3h0.55M323.0 366.2h0.55M322.4 362.5h0.55M324.8 358.9h0.55M334.4 359.9h0.55M327.9 363.1h0.55M326.5 361.2h0.55M328.7 361.9h0.55M323.5 369.9h0.55M333.3 364.0h0.55M329.1 362.3h0.55M327.5 367.4h0.55M327.1 370.2h0.55M332.9 363.2h0.55M327.9 360.6h0.55M325.2 362.4h0.55M325.5 361.2h0.55M328.6 365.3h0.55M323.0 369.9h0.55M344.0 350.8h0.55M339.0 354.6h0.55M340.8 363.2h0.55M322.6 373.5h0.55M338.7 361.8h0.55M326.2 369.6h0.55M326.6 376.5h0.55M343.4 366.7h0.55M339.9 353.5h0.55M327.9 361.1h0.55M326.6 359.0h0.55M339.8 355.6h0.55M317.8 350.1h0.55M334.3 351.0h0.55M342.5 367.0h0.55M321.8 361.0h0.55M341.2 353.8h0.55M331.1 363.3h0.55M331.0 373.7h0.55M322.6 365.4h0.55M319.9 363.8h0.55M317.3 353.3h0.55M331.6 370.6h0.55M331.6 350.8h0.55M334.2 373.3h0.55M340.3 351.3h0.55M337.6 350.6h0.55M336.5 363.0h0.55M317.1 359.5h0.55" fill="none" stroke="#111" stroke-width="0.55" stroke-opacity="0.5"/>
<ellipse cx="326.5" cy="364.2" rx="6" ry="5.5" fill="url(#bg18)"/>
<rect x="312.7" y="331.5" width="48.5" height="48.9" fill="none" stroke="#b8b8b8" stroke-width="0.6"/>
<path d="M312.7,372.25h1.2M312.7,364.1h1.2M312.7,355.95h1.2M312.7,347.8h1.2M312.7,339.65h1.2M318.76,380.4v-1.2M324.82,380.4v-1.2M330.89,380.4v-1.2M336.95,380.4v-1.2M343.01,380.4v-1.2M349.07,380.4v-1.2M355.14,380.4v-1.2" fill="none" stroke="#888" stroke-width="0.5"/>
<rect x="314.2" y="337" width="21.6" height="16.5" fill="none" stroke="#cc4458" stroke-width="1.05"/>
<rect x="335.3" y="353.5" width="17.9" height="23" fill="none" stroke="#cc4458" stroke-width="1.05"/>
<text x="310.4" y="353.5" font-size="7.3" text-anchor="middle" textLength="37" lengthAdjust="spacingAndGlyphs" transform="rotate(-90 310.4 353.5)">CD86 BV421</text>
<text x="339.6" y="389" font-size="7.3" text-anchor="middle" textLength="29.2" lengthAdjust="spacingAndGlyphs">CD206 PE</text></svg>
<div class="bd"></div>
</body></html>
